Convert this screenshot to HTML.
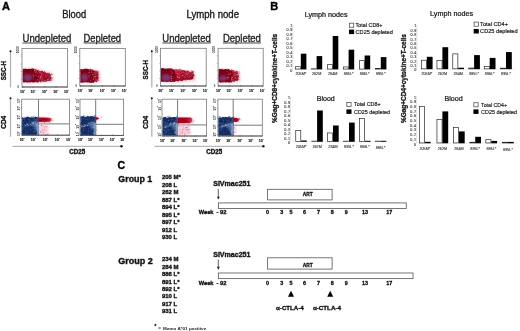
<!DOCTYPE html>
<html><head><meta charset="utf-8"><style>
html,body{margin:0;padding:0;background:#fff;width:520px;height:331px;overflow:hidden}
svg{display:block;font-family:"Liberation Sans", sans-serif;filter:blur(0.3px)}
</style></head><body>
<svg width="520" height="331" viewBox="0 0 520 331" font-family='"Liberation Sans", sans-serif'>
<defs>
<filter id="b5" x="-20%" y="-20%" width="140%" height="140%"><feGaussianBlur stdDeviation="0.5"/></filter>
<filter id="b6" x="-20%" y="-20%" width="140%" height="140%"><feGaussianBlur stdDeviation="0.6"/></filter>
<filter id="b8" x="-20%" y="-20%" width="140%" height="140%"><feGaussianBlur stdDeviation="0.8"/></filter>
<filter id="b10" x="-30%" y="-30%" width="160%" height="160%"><feGaussianBlur stdDeviation="1.0"/></filter>
<linearGradient id="redgrad" x1="0" x2="1" y1="0" y2="0"><stop offset="0" stop-color="#9a001a"/><stop offset="0.6" stop-color="#b0001f"/><stop offset="1" stop-color="#d84060"/></linearGradient>
<linearGradient id="extgrad" x1="0" x2="0" y1="0" y2="1"><stop offset="0" stop-color="#c8324e"/><stop offset="0.45" stop-color="#a8142e"/><stop offset="1" stop-color="#8e0a22"/></linearGradient>
<filter id="b12" x="-30%" y="-30%" width="160%" height="160%"><feGaussianBlur stdDeviation="1.2"/></filter>
</defs>
<rect width="520" height="331" fill="#fff"/>
<text x="2" y="10" font-size="11" font-weight="bold" fill="#000" text-anchor="start" stroke="#000" stroke-width="0.360" >A</text>
<text x="62.2" y="18.2" font-size="10.2" font-weight="normal" fill="#1a1a1a" text-anchor="start" stroke="#1a1a1a" stroke-width="0.347" textLength="24.0" lengthAdjust="spacingAndGlyphs" >Blood</text>
<text x="186.5" y="17.6" font-size="10.2" font-weight="normal" fill="#1a1a1a" text-anchor="start" stroke="#1a1a1a" stroke-width="0.347" textLength="52.5" lengthAdjust="spacingAndGlyphs" >Lymph node</text>
<text x="22.5" y="41.5" font-size="10.2" font-weight="normal" fill="#262626" text-anchor="start" stroke="#262626" stroke-width="0.347" textLength="48.9" lengthAdjust="spacingAndGlyphs" >Undepleted</text>
<line x1="22.5" y1="43.0" x2="71.4" y2="43.0" stroke="#444" stroke-width="1.1"/>
<text x="83.5" y="41.5" font-size="10.2" font-weight="normal" fill="#262626" text-anchor="start" stroke="#262626" stroke-width="0.347" textLength="37.6" lengthAdjust="spacingAndGlyphs" >Depleted</text>
<line x1="83.5" y1="43.0" x2="121.1" y2="43.0" stroke="#444" stroke-width="1.1"/>
<text x="162.3" y="41.5" font-size="10.2" font-weight="normal" fill="#262626" text-anchor="start" stroke="#262626" stroke-width="0.347" textLength="48.5" lengthAdjust="spacingAndGlyphs" >Undepleted</text>
<line x1="162.3" y1="43.0" x2="210.8" y2="43.0" stroke="#444" stroke-width="1.1"/>
<text x="222.9" y="41.5" font-size="10.2" font-weight="normal" fill="#262626" text-anchor="start" stroke="#262626" stroke-width="0.347" textLength="38" lengthAdjust="spacingAndGlyphs" >Depleted</text>
<line x1="222.9" y1="43.0" x2="260.9" y2="43.0" stroke="#444" stroke-width="1.1"/>
<path d="M22.8,68.0 L35,68.0 L53.0,72.2 L53.5,81.9 L38,83.4 L22.8,83.4 Z" fill="#f2b8c4" opacity="0.55" filter="url(#b8)"/>
<path d="M34,69.39999999999999 L34.0,69.3 L35.4,69.2 L36.8,70.4 L38.1,69.8 L39.5,71.0 L40.9,71.1 L42.2,70.9 L43.6,72.2 L45.0,71.8 L46.4,72.9 L47.8,72.8 L49.1,73.3 L50.5,74.4 L51.3,77.4 L50.5,81.6 L49.1,80.8 L47.8,81.0 L46.4,81.6 L45.0,82.1 L43.6,81.7 L42.2,81.6 L40.9,82.4 L39.5,81.3 L38.1,82.4 L36.8,81.8 L35.4,81.7 L34.0,81.7 Z" fill="url(#extgrad)" filter="url(#b5)"/>
<path d="M22.8,68.8 L22.8,68.7 L24.1,69.1 L25.3,68.6 L26.6,68.9 L27.9,69.0 L29.1,68.7 L30.4,68.9 L31.7,68.5 L32.9,68.5 L34.2,68.7 L35.5,69.7 L36.7,70.1 L38.0,70.9 L39.0,76.3 L38.0,82.4 L36.7,82.3 L35.5,82.1 L34.2,82.5 L32.9,82.5 L31.7,82.1 L30.4,82.4 L29.1,82.3 L27.9,82.6 L26.6,82.5 L25.3,82.1 L24.1,82.7 L22.8,82.0 Z" fill="#7e0018" filter="url(#b5)"/>
<circle cx="29.2" cy="78.8" r="0.46" fill="#9a0a24" opacity="0.7"/>
<circle cx="29.2" cy="81.4" r="0.43" fill="#6a0a30" opacity="0.7"/>
<circle cx="31.5" cy="80.3" r="0.53" fill="#6a0a30" opacity="0.7"/>
<circle cx="28.1" cy="75.6" r="0.72" fill="#5a0014" opacity="0.7"/>
<circle cx="35.6" cy="81.2" r="0.59" fill="#6a0a30" opacity="0.7"/>
<circle cx="23.8" cy="78.5" r="0.52" fill="#6a0a30" opacity="0.7"/>
<circle cx="37.9" cy="79.7" r="0.51" fill="#9a0a24" opacity="0.7"/>
<circle cx="36.3" cy="73.7" r="0.78" fill="#9a0a24" opacity="0.7"/>
<circle cx="25.4" cy="70.8" r="0.42" fill="#9a0a24" opacity="0.7"/>
<circle cx="24.8" cy="72.4" r="0.56" fill="#9a0a24" opacity="0.7"/>
<circle cx="24.0" cy="75.0" r="0.62" fill="#5a0014" opacity="0.7"/>
<circle cx="35.3" cy="80.2" r="0.51" fill="#9a0a24" opacity="0.7"/>
<circle cx="37.8" cy="77.9" r="0.55" fill="#5a0014" opacity="0.7"/>
<circle cx="25.1" cy="71.5" r="0.49" fill="#5a0014" opacity="0.7"/>
<circle cx="23.0" cy="79.8" r="0.47" fill="#9a0a24" opacity="0.7"/>
<circle cx="22.9" cy="74.6" r="0.55" fill="#6a0a30" opacity="0.7"/>
<circle cx="27.6" cy="70.9" r="0.74" fill="#6a0a30" opacity="0.7"/>
<circle cx="32.8" cy="78.6" r="0.58" fill="#6a0a30" opacity="0.7"/>
<circle cx="34.9" cy="74.2" r="0.56" fill="#5a0014" opacity="0.7"/>
<circle cx="30.1" cy="74.3" r="0.48" fill="#5a0014" opacity="0.7"/>
<circle cx="29.5" cy="70.7" r="0.64" fill="#5a0014" opacity="0.7"/>
<circle cx="22.8" cy="71.2" r="0.44" fill="#9a0a24" opacity="0.7"/>
<circle cx="32.1" cy="70.2" r="0.48" fill="#9a0a24" opacity="0.7"/>
<circle cx="25.1" cy="72.5" r="0.54" fill="#9a0a24" opacity="0.7"/>
<circle cx="30.0" cy="70.8" r="0.60" fill="#9a0a24" opacity="0.7"/>
<circle cx="30.1" cy="73.2" r="0.46" fill="#6a0a30" opacity="0.7"/>
<circle cx="28.0" cy="72.6" r="0.73" fill="#5a0014" opacity="0.7"/>
<circle cx="30.6" cy="71.9" r="0.78" fill="#9a0a24" opacity="0.7"/>
<circle cx="25.0" cy="76.1" r="0.41" fill="#6a0a30" opacity="0.7"/>
<circle cx="27.3" cy="77.4" r="0.44" fill="#9a0a24" opacity="0.7"/>
<circle cx="30.7" cy="80.7" r="0.54" fill="#5a0014" opacity="0.7"/>
<circle cx="30.9" cy="79.1" r="0.53" fill="#5a0014" opacity="0.7"/>
<circle cx="32.1" cy="79.2" r="0.70" fill="#5a0014" opacity="0.7"/>
<circle cx="35.1" cy="79.6" r="0.70" fill="#5a0014" opacity="0.7"/>
<circle cx="25.8" cy="75.5" r="0.69" fill="#5a0014" opacity="0.7"/>
<circle cx="34.8" cy="75.3" r="0.48" fill="#6a0a30" opacity="0.7"/>
<circle cx="37.3" cy="74.9" r="0.77" fill="#9a0a24" opacity="0.7"/>
<circle cx="37.3" cy="73.9" r="0.49" fill="#5a0014" opacity="0.7"/>
<circle cx="29.9" cy="73.6" r="0.59" fill="#6a0a30" opacity="0.7"/>
<circle cx="35.6" cy="75.3" r="0.66" fill="#6a0a30" opacity="0.7"/>
<circle cx="24.1" cy="77.6" r="0.76" fill="#6a0a30" opacity="0.7"/>
<circle cx="34.2" cy="75.3" r="0.47" fill="#6a0a30" opacity="0.7"/>
<circle cx="27.9" cy="79.4" r="0.79" fill="#9a0a24" opacity="0.7"/>
<circle cx="29.8" cy="78.7" r="0.43" fill="#5a0014" opacity="0.7"/>
<circle cx="25.4" cy="70.9" r="0.46" fill="#9a0a24" opacity="0.7"/>
<circle cx="48.3" cy="74.2" r="0.53" fill="#f4b8c4" opacity="0.58"/>
<circle cx="43.4" cy="72.7" r="0.58" fill="#5e0012" opacity="0.76"/>
<circle cx="35.0" cy="79.0" r="0.45" fill="#7a0016" opacity="0.84"/>
<circle cx="48.7" cy="74.8" r="0.37" fill="#6e0a20" opacity="0.65"/>
<circle cx="47.5" cy="75.5" r="0.45" fill="#e87890" opacity="0.47"/>
<circle cx="50.3" cy="76.3" r="0.53" fill="#f4b8c4" opacity="0.81"/>
<circle cx="42.8" cy="79.9" r="0.35" fill="#e87890" opacity="0.48"/>
<circle cx="42.7" cy="80.4" r="0.51" fill="#7a0016" opacity="0.79"/>
<circle cx="35.8" cy="71.0" r="0.49" fill="#c41a3a" opacity="0.56"/>
<circle cx="42.8" cy="77.0" r="0.61" fill="#c41a3a" opacity="0.43"/>
<circle cx="36.6" cy="69.9" r="0.48" fill="#c41a3a" opacity="0.68"/>
<circle cx="47.4" cy="80.7" r="0.41" fill="#f4b8c4" opacity="0.89"/>
<circle cx="44.5" cy="73.6" r="0.46" fill="#6e0a20" opacity="0.67"/>
<circle cx="42.1" cy="81.2" r="0.61" fill="#e87890" opacity="0.87"/>
<circle cx="37.9" cy="76.6" r="0.59" fill="#d84a66" opacity="0.47"/>
<circle cx="35.3" cy="74.9" r="0.53" fill="#c41a3a" opacity="0.61"/>
<circle cx="37.0" cy="73.3" r="0.61" fill="#c41a3a" opacity="0.48"/>
<circle cx="46.6" cy="78.4" r="0.39" fill="#7a0016" opacity="0.47"/>
<circle cx="41.9" cy="79.0" r="0.44" fill="#c41a3a" opacity="0.64"/>
<circle cx="51.8" cy="79.9" r="0.55" fill="#7a0016" opacity="0.90"/>
<circle cx="40.7" cy="75.3" r="0.41" fill="#b01030" opacity="0.76"/>
<circle cx="33.4" cy="76.3" r="0.55" fill="#f4b8c4" opacity="0.59"/>
<circle cx="42.8" cy="74.3" r="0.34" fill="#c41a3a" opacity="0.86"/>
<circle cx="37.3" cy="80.6" r="0.39" fill="#c41a3a" opacity="0.42"/>
<circle cx="47.8" cy="75.1" r="0.59" fill="#7a0016" opacity="0.82"/>
<circle cx="45.8" cy="81.0" r="0.35" fill="#f0a0b0" opacity="0.86"/>
<circle cx="43.8" cy="78.6" r="0.40" fill="#c41a3a" opacity="0.80"/>
<circle cx="36.5" cy="80.9" r="0.63" fill="#6e0a20" opacity="0.72"/>
<circle cx="48.2" cy="73.6" r="0.32" fill="#d84a66" opacity="0.83"/>
<circle cx="41.6" cy="74.5" r="0.45" fill="#e87890" opacity="0.86"/>
<circle cx="44.8" cy="72.2" r="0.63" fill="#d84a66" opacity="0.88"/>
<circle cx="38.0" cy="71.9" r="0.52" fill="#6e0a20" opacity="0.67"/>
<circle cx="36.9" cy="75.1" r="0.39" fill="#7a0016" opacity="0.80"/>
<circle cx="51.9" cy="74.5" r="0.56" fill="#5e0012" opacity="0.68"/>
<circle cx="36.6" cy="75.4" r="0.34" fill="#f4b8c4" opacity="0.81"/>
<circle cx="41.2" cy="76.2" r="0.64" fill="#f0a0b0" opacity="0.55"/>
<circle cx="37.1" cy="72.4" r="0.59" fill="#d84a66" opacity="0.75"/>
<circle cx="45.1" cy="75.8" r="0.64" fill="#b01030" opacity="0.82"/>
<circle cx="33.3" cy="77.3" r="0.45" fill="#6e0a20" opacity="0.43"/>
<circle cx="45.6" cy="75.7" r="0.53" fill="#e87890" opacity="0.54"/>
<circle cx="37.6" cy="73.3" r="0.36" fill="#f4b8c4" opacity="0.53"/>
<circle cx="33.1" cy="73.8" r="0.64" fill="#b01030" opacity="0.67"/>
<circle cx="37.6" cy="81.7" r="0.38" fill="#6e0a20" opacity="0.49"/>
<circle cx="39.4" cy="71.1" r="0.48" fill="#6e0a20" opacity="0.50"/>
<circle cx="42.6" cy="71.1" r="0.59" fill="#6e0a20" opacity="0.47"/>
<circle cx="44.1" cy="75.5" r="0.41" fill="#6e0a20" opacity="0.52"/>
<circle cx="44.1" cy="76.9" r="0.53" fill="#7a0016" opacity="0.76"/>
<circle cx="49.7" cy="76.5" r="0.55" fill="#b01030" opacity="0.65"/>
<circle cx="38.4" cy="77.4" r="0.32" fill="#7a0016" opacity="0.82"/>
<circle cx="49.9" cy="78.4" r="0.35" fill="#e87890" opacity="0.66"/>
<circle cx="42.6" cy="80.0" r="0.59" fill="#5e0012" opacity="0.69"/>
<circle cx="50.0" cy="78.8" r="0.33" fill="#d84a66" opacity="0.42"/>
<circle cx="45.1" cy="81.2" r="0.59" fill="#f0a0b0" opacity="0.68"/>
<circle cx="44.9" cy="77.9" r="0.47" fill="#d84a66" opacity="0.40"/>
<circle cx="48.2" cy="79.2" r="0.61" fill="#e87890" opacity="0.45"/>
<circle cx="43.0" cy="79.1" r="0.39" fill="#f4b8c4" opacity="0.44"/>
<circle cx="38.0" cy="78.7" r="0.38" fill="#d84a66" opacity="0.72"/>
<circle cx="41.7" cy="80.1" r="0.47" fill="#c41a3a" opacity="0.74"/>
<circle cx="47.6" cy="78.1" r="0.33" fill="#d84a66" opacity="0.47"/>
<circle cx="37.8" cy="78.9" r="0.52" fill="#6e0a20" opacity="0.47"/>
<circle cx="42.2" cy="76.2" r="0.54" fill="#c41a3a" opacity="0.74"/>
<circle cx="38.5" cy="76.2" r="0.46" fill="#f4b8c4" opacity="0.78"/>
<circle cx="51.9" cy="78.0" r="0.64" fill="#6e0a20" opacity="0.87"/>
<circle cx="33.3" cy="75.0" r="0.64" fill="#e87890" opacity="0.62"/>
<circle cx="38.1" cy="72.3" r="0.33" fill="#d84a66" opacity="0.45"/>
<circle cx="47.2" cy="74.9" r="0.35" fill="#b01030" opacity="0.81"/>
<circle cx="42.7" cy="80.6" r="0.38" fill="#b01030" opacity="0.85"/>
<circle cx="42.2" cy="71.2" r="0.63" fill="#5e0012" opacity="0.74"/>
<circle cx="40.7" cy="78.8" r="0.42" fill="#f0a0b0" opacity="0.56"/>
<circle cx="49.0" cy="73.2" r="0.59" fill="#b01030" opacity="0.46"/>
<circle cx="50.6" cy="79.1" r="0.39" fill="#6e0a20" opacity="0.43"/>
<circle cx="40.4" cy="80.4" r="0.43" fill="#c41a3a" opacity="0.61"/>
<circle cx="38.2" cy="70.4" r="0.32" fill="#c41a3a" opacity="0.73"/>
<circle cx="45.1" cy="73.3" r="0.45" fill="#6e0a20" opacity="0.56"/>
<circle cx="47.7" cy="79.5" r="0.61" fill="#f0a0b0" opacity="0.81"/>
<circle cx="45.0" cy="80.8" r="0.49" fill="#e87890" opacity="0.76"/>
<circle cx="33.9" cy="78.8" r="0.52" fill="#f4b8c4" opacity="0.47"/>
<circle cx="49.5" cy="77.2" r="0.34" fill="#e87890" opacity="0.64"/>
<circle cx="39.5" cy="73.7" r="0.44" fill="#6e0a20" opacity="0.52"/>
<circle cx="42.2" cy="78.2" r="0.36" fill="#c41a3a" opacity="0.48"/>
<circle cx="36.9" cy="81.0" r="0.49" fill="#f4b8c4" opacity="0.63"/>
<circle cx="39.3" cy="79.1" r="0.35" fill="#f0a0b0" opacity="0.50"/>
<circle cx="34.7" cy="73.5" r="0.41" fill="#c41a3a" opacity="0.58"/>
<circle cx="48.4" cy="74.6" r="0.56" fill="#5e0012" opacity="0.61"/>
<circle cx="40.9" cy="76.5" r="0.39" fill="#f0a0b0" opacity="0.78"/>
<circle cx="42.5" cy="77.2" r="0.34" fill="#b01030" opacity="0.65"/>
<circle cx="45.0" cy="80.3" r="0.33" fill="#d84a66" opacity="0.85"/>
<circle cx="40.3" cy="77.8" r="0.63" fill="#f0a0b0" opacity="0.82"/>
<circle cx="49.6" cy="73.5" r="0.45" fill="#5e0012" opacity="0.78"/>
<circle cx="48.3" cy="81.1" r="0.30" fill="#f4b8c4" opacity="0.60"/>
<circle cx="50.6" cy="79.9" r="0.64" fill="#f4b8c4" opacity="0.52"/>
<circle cx="35.1" cy="71.0" r="0.64" fill="#e87890" opacity="0.45"/>
<circle cx="48.7" cy="78.9" r="0.33" fill="#f4b8c4" opacity="0.79"/>
<circle cx="33.0" cy="70.5" r="0.53" fill="#5e0012" opacity="0.55"/>
<circle cx="35.4" cy="72.4" r="0.54" fill="#f0a0b0" opacity="0.46"/>
<circle cx="34.3" cy="75.9" r="0.44" fill="#d84a66" opacity="0.51"/>
<circle cx="44.4" cy="71.7" r="0.65" fill="#6e0a20" opacity="0.54"/>
<circle cx="39.0" cy="80.1" r="0.47" fill="#d84a66" opacity="0.52"/>
<circle cx="37.7" cy="81.6" r="0.32" fill="#6e0a20" opacity="0.50"/>
<circle cx="49.8" cy="78.5" r="0.39" fill="#c41a3a" opacity="0.73"/>
<circle cx="50.6" cy="75.4" r="0.54" fill="#5e0012" opacity="0.76"/>
<circle cx="39.9" cy="74.9" r="0.58" fill="#5e0012" opacity="0.77"/>
<circle cx="42.6" cy="73.2" r="0.41" fill="#d84a66" opacity="0.81"/>
<circle cx="37.4" cy="72.3" r="0.34" fill="#6e0a20" opacity="0.71"/>
<circle cx="44.6" cy="80.6" r="0.45" fill="#f4b8c4" opacity="0.73"/>
<circle cx="51.0" cy="74.9" r="0.32" fill="#f0a0b0" opacity="0.41"/>
<circle cx="44.3" cy="75.8" r="0.36" fill="#5e0012" opacity="0.62"/>
<circle cx="46.5" cy="75.2" r="0.65" fill="#c41a3a" opacity="0.87"/>
<circle cx="39.3" cy="72.3" r="0.56" fill="#e87890" opacity="0.42"/>
<circle cx="45.6" cy="75.6" r="0.64" fill="#b01030" opacity="0.62"/>
<circle cx="35.1" cy="70.0" r="0.42" fill="#c41a3a" opacity="0.88"/>
<circle cx="35.4" cy="81.8" r="0.43" fill="#d84a66" opacity="0.78"/>
<circle cx="38.9" cy="79.7" r="0.32" fill="#c41a3a" opacity="0.64"/>
<circle cx="40.1" cy="81.0" r="0.41" fill="#d84a66" opacity="0.77"/>
<circle cx="42.0" cy="77.8" r="0.58" fill="#d84a66" opacity="0.78"/>
<circle cx="33.8" cy="69.3" r="0.58" fill="#c41a3a" opacity="0.43"/>
<circle cx="36.7" cy="70.2" r="0.43" fill="#b01030" opacity="0.57"/>
<circle cx="51.1" cy="74.2" r="0.62" fill="#b01030" opacity="0.55"/>
<circle cx="46.7" cy="77.8" r="0.31" fill="#c41a3a" opacity="0.52"/>
<circle cx="42.0" cy="81.3" r="0.58" fill="#f0a0b0" opacity="0.86"/>
<circle cx="48.5" cy="74.1" r="0.36" fill="#f4b8c4" opacity="0.80"/>
<circle cx="47.0" cy="79.9" r="0.51" fill="#7a0016" opacity="0.56"/>
<circle cx="39.1" cy="74.3" r="0.48" fill="#c41a3a" opacity="0.60"/>
<circle cx="36.0" cy="74.5" r="0.47" fill="#5e0012" opacity="0.67"/>
<circle cx="36.1" cy="74.8" r="0.65" fill="#c41a3a" opacity="0.53"/>
<circle cx="34.6" cy="70.2" r="0.65" fill="#f4b8c4" opacity="0.89"/>
<circle cx="36.3" cy="71.0" r="0.52" fill="#f4b8c4" opacity="0.74"/>
<circle cx="47.2" cy="80.1" r="0.57" fill="#c41a3a" opacity="0.55"/>
<circle cx="38.3" cy="73.1" r="0.56" fill="#6e0a20" opacity="0.50"/>
<circle cx="37.7" cy="72.7" r="0.40" fill="#7a0016" opacity="0.85"/>
<circle cx="36.6" cy="70.2" r="0.65" fill="#6e0a20" opacity="0.65"/>
<circle cx="37.4" cy="79.7" r="0.65" fill="#f4b8c4" opacity="0.45"/>
<circle cx="42.0" cy="79.8" r="0.62" fill="#f4b8c4" opacity="0.42"/>
<circle cx="38.6" cy="71.3" r="0.51" fill="#d84a66" opacity="0.81"/>
<circle cx="36.7" cy="70.3" r="0.60" fill="#e87890" opacity="0.62"/>
<circle cx="37.9" cy="79.3" r="0.34" fill="#5e0012" opacity="0.70"/>
<circle cx="44.8" cy="73.9" r="0.42" fill="#b01030" opacity="0.42"/>
<circle cx="52.0" cy="74.5" r="0.59" fill="#d84a66" opacity="0.81"/>
<ellipse cx="27.8" cy="77.5" rx="4.5" ry="3.8" fill="#84448a" opacity="0.75" filter="url(#b10)"/>
<rect x="22" y="48.5" width="45.5" height="38.5" fill="none" stroke="#7a7a7a" stroke-width="0.8" />
<line x1="22" y1="87.0" x2="67.5" y2="87.0" stroke="#4a4a4a" stroke-width="0.8"/>
<text x="21.900000000000002" y="92.7" font-size="3.5" font-weight="bold" fill="#222" text-anchor="middle" stroke="#222" stroke-width="0.15">10</text>
<text x="23.7" y="90.7" font-size="2.5" font-weight="bold" fill="#222" text-anchor="start" >0</text>
<line x1="22.8" y1="86.0" x2="22.8" y2="87.8" stroke="#555" stroke-width="0.5"/>
<text x="32.475" y="92.7" font-size="3.5" font-weight="bold" fill="#222" text-anchor="middle" stroke="#222" stroke-width="0.15">10</text>
<text x="34.275" y="90.7" font-size="2.5" font-weight="bold" fill="#222" text-anchor="start" >1</text>
<line x1="33.375" y1="86.0" x2="33.375" y2="87.8" stroke="#555" stroke-width="0.5"/>
<text x="43.85" y="92.7" font-size="3.5" font-weight="bold" fill="#222" text-anchor="middle" stroke="#222" stroke-width="0.15">10</text>
<text x="45.65" y="90.7" font-size="2.5" font-weight="bold" fill="#222" text-anchor="start" >2</text>
<line x1="44.75" y1="86.0" x2="44.75" y2="87.8" stroke="#555" stroke-width="0.5"/>
<text x="55.225" y="92.7" font-size="3.5" font-weight="bold" fill="#222" text-anchor="middle" stroke="#222" stroke-width="0.15">10</text>
<text x="57.025" y="90.7" font-size="2.5" font-weight="bold" fill="#222" text-anchor="start" >3</text>
<line x1="56.125" y1="86.0" x2="56.125" y2="87.8" stroke="#555" stroke-width="0.5"/>
<text x="66.0" y="92.7" font-size="3.5" font-weight="bold" fill="#222" text-anchor="middle" stroke="#222" stroke-width="0.15">10</text>
<text x="67.80000000000001" y="90.7" font-size="2.5" font-weight="bold" fill="#222" text-anchor="start" >4</text>
<line x1="66.9" y1="86.0" x2="66.9" y2="87.8" stroke="#555" stroke-width="0.5"/>
<text transform="translate(18.3,49.7) rotate(-90)" x="0" y="0" font-size="3.3" font-weight="bold" fill="#333" text-anchor="middle" dominant-baseline="central" textLength="7.0" lengthAdjust="spacingAndGlyphs">1000</text>
<text x="18.4" y="87.9" font-size="2.8" font-weight="bold" fill="#333" text-anchor="middle" >0</text>
<line x1="20.8" y1="56.2" x2="22" y2="56.2" stroke="#777" stroke-width="0.5"/>
<line x1="20.8" y1="63.9" x2="22" y2="63.9" stroke="#777" stroke-width="0.5"/>
<line x1="20.8" y1="71.6" x2="22" y2="71.6" stroke="#777" stroke-width="0.5"/>
<line x1="20.8" y1="79.3" x2="22" y2="79.3" stroke="#777" stroke-width="0.5"/>
<path d="M80.3,68.3 L91.0,68.3 L100.5,72.475 L101.0,82.1 L94.0,83.6 L80.3,83.6 Z" fill="#f2b8c4" opacity="0.55" filter="url(#b8)"/>
<path d="M90.0,69.69999999999999 L90.0,69.7 L90.7,69.7 L91.3,70.3 L92.0,69.4 L92.7,69.4 L93.3,70.4 L94.0,70.5 L94.7,70.4 L95.3,71.3 L96.0,71.2 L96.7,70.4 L97.3,71.2 L98.0,71.5 L98.8,75.9 L98.0,81.3 L97.3,81.2 L96.7,82.2 L96.0,81.9 L95.3,81.6 L94.7,81.3 L94.0,82.2 L93.3,82.4 L92.7,82.0 L92.0,81.6 L91.3,82.6 L90.7,82.7 L90.0,82.6 Z" fill="url(#extgrad)" filter="url(#b5)"/>
<path d="M80.3,69.1 L80.3,69.1 L81.4,69.1 L82.6,69.5 L83.7,69.1 L84.9,68.8 L86.0,68.8 L87.2,68.8 L88.3,69.2 L89.4,69.0 L90.6,69.5 L91.7,69.5 L92.9,70.1 L94.0,71.0 L95.0,76.5 L94.0,82.7 L92.9,82.4 L91.7,82.6 L90.6,82.8 L89.4,82.7 L88.3,82.2 L87.2,82.4 L86.0,82.2 L84.9,82.2 L83.7,82.2 L82.6,82.4 L81.4,82.7 L80.3,82.7 Z" fill="#7e0018" filter="url(#b5)"/>
<circle cx="91.3" cy="73.4" r="0.73" fill="#5a0014" opacity="0.7"/>
<circle cx="93.7" cy="75.6" r="0.42" fill="#6a0a30" opacity="0.7"/>
<circle cx="85.6" cy="80.9" r="0.65" fill="#5a0014" opacity="0.7"/>
<circle cx="89.1" cy="80.3" r="0.65" fill="#6a0a30" opacity="0.7"/>
<circle cx="91.9" cy="80.0" r="0.47" fill="#5a0014" opacity="0.7"/>
<circle cx="80.9" cy="81.3" r="0.46" fill="#9a0a24" opacity="0.7"/>
<circle cx="82.0" cy="72.7" r="0.69" fill="#5a0014" opacity="0.7"/>
<circle cx="80.9" cy="76.6" r="0.70" fill="#5a0014" opacity="0.7"/>
<circle cx="89.5" cy="73.7" r="0.56" fill="#9a0a24" opacity="0.7"/>
<circle cx="87.8" cy="77.4" r="0.52" fill="#9a0a24" opacity="0.7"/>
<circle cx="84.5" cy="72.7" r="0.56" fill="#9a0a24" opacity="0.7"/>
<circle cx="86.4" cy="75.1" r="0.41" fill="#6a0a30" opacity="0.7"/>
<circle cx="93.8" cy="75.4" r="0.58" fill="#6a0a30" opacity="0.7"/>
<circle cx="91.0" cy="75.3" r="0.47" fill="#9a0a24" opacity="0.7"/>
<circle cx="85.8" cy="70.4" r="0.54" fill="#9a0a24" opacity="0.7"/>
<circle cx="81.6" cy="75.1" r="0.60" fill="#5a0014" opacity="0.7"/>
<circle cx="80.9" cy="71.2" r="0.77" fill="#9a0a24" opacity="0.7"/>
<circle cx="91.0" cy="76.0" r="0.42" fill="#6a0a30" opacity="0.7"/>
<circle cx="92.6" cy="77.8" r="0.71" fill="#5a0014" opacity="0.7"/>
<circle cx="92.0" cy="82.1" r="0.69" fill="#5a0014" opacity="0.7"/>
<circle cx="83.0" cy="81.9" r="0.60" fill="#5a0014" opacity="0.7"/>
<circle cx="89.7" cy="78.6" r="0.49" fill="#9a0a24" opacity="0.7"/>
<circle cx="88.7" cy="72.8" r="0.53" fill="#6a0a30" opacity="0.7"/>
<circle cx="84.1" cy="79.8" r="0.46" fill="#6a0a30" opacity="0.7"/>
<circle cx="93.5" cy="75.6" r="0.64" fill="#6a0a30" opacity="0.7"/>
<circle cx="87.2" cy="73.6" r="0.41" fill="#5a0014" opacity="0.7"/>
<circle cx="85.8" cy="77.6" r="0.51" fill="#9a0a24" opacity="0.7"/>
<circle cx="92.6" cy="71.7" r="0.71" fill="#5a0014" opacity="0.7"/>
<circle cx="90.8" cy="70.2" r="0.74" fill="#9a0a24" opacity="0.7"/>
<circle cx="87.9" cy="76.9" r="0.75" fill="#5a0014" opacity="0.7"/>
<circle cx="83.8" cy="76.3" r="0.74" fill="#6a0a30" opacity="0.7"/>
<circle cx="91.2" cy="72.9" r="0.80" fill="#6a0a30" opacity="0.7"/>
<circle cx="82.3" cy="73.7" r="0.43" fill="#5a0014" opacity="0.7"/>
<circle cx="82.7" cy="78.9" r="0.42" fill="#6a0a30" opacity="0.7"/>
<circle cx="83.8" cy="77.6" r="0.79" fill="#6a0a30" opacity="0.7"/>
<circle cx="93.0" cy="80.8" r="0.69" fill="#6a0a30" opacity="0.7"/>
<circle cx="80.8" cy="71.5" r="0.65" fill="#9a0a24" opacity="0.7"/>
<circle cx="86.0" cy="74.2" r="0.42" fill="#9a0a24" opacity="0.7"/>
<circle cx="83.4" cy="77.8" r="0.41" fill="#5a0014" opacity="0.7"/>
<circle cx="88.1" cy="73.4" r="0.61" fill="#6a0a30" opacity="0.7"/>
<circle cx="83.4" cy="76.9" r="0.64" fill="#5a0014" opacity="0.7"/>
<circle cx="92.8" cy="80.0" r="0.35" fill="#7a0016" opacity="0.87"/>
<circle cx="91.6" cy="71.2" r="0.32" fill="#c41a3a" opacity="0.47"/>
<circle cx="96.0" cy="73.2" r="0.64" fill="#6e0a20" opacity="0.43"/>
<circle cx="97.6" cy="80.3" r="0.51" fill="#f4b8c4" opacity="0.66"/>
<circle cx="94.2" cy="71.7" r="0.32" fill="#5e0012" opacity="0.67"/>
<circle cx="93.3" cy="72.5" r="0.62" fill="#5e0012" opacity="0.45"/>
<circle cx="95.4" cy="77.7" r="0.35" fill="#d84a66" opacity="0.50"/>
<circle cx="95.4" cy="75.9" r="0.58" fill="#f0a0b0" opacity="0.49"/>
<circle cx="92.2" cy="73.3" r="0.65" fill="#5e0012" opacity="0.76"/>
<circle cx="94.0" cy="76.3" r="0.60" fill="#f0a0b0" opacity="0.77"/>
<circle cx="93.9" cy="78.8" r="0.36" fill="#f4b8c4" opacity="0.90"/>
<circle cx="91.7" cy="77.7" r="0.42" fill="#c41a3a" opacity="0.77"/>
<circle cx="96.3" cy="79.9" r="0.39" fill="#5e0012" opacity="0.68"/>
<circle cx="93.6" cy="79.4" r="0.64" fill="#e87890" opacity="0.55"/>
<circle cx="98.7" cy="80.2" r="0.61" fill="#c41a3a" opacity="0.41"/>
<circle cx="91.7" cy="72.4" r="0.63" fill="#d84a66" opacity="0.77"/>
<circle cx="92.4" cy="80.7" r="0.51" fill="#b01030" opacity="0.59"/>
<circle cx="97.9" cy="80.5" r="0.46" fill="#e87890" opacity="0.82"/>
<circle cx="96.3" cy="80.0" r="0.63" fill="#f0a0b0" opacity="0.52"/>
<circle cx="98.3" cy="79.1" r="0.52" fill="#f0a0b0" opacity="0.44"/>
<circle cx="98.6" cy="72.1" r="0.34" fill="#5e0012" opacity="0.71"/>
<circle cx="90.7" cy="82.2" r="0.31" fill="#5e0012" opacity="0.47"/>
<circle cx="95.8" cy="70.5" r="0.56" fill="#c41a3a" opacity="0.43"/>
<circle cx="95.2" cy="74.2" r="0.61" fill="#e87890" opacity="0.43"/>
<circle cx="98.1" cy="80.4" r="0.34" fill="#f0a0b0" opacity="0.50"/>
<circle cx="90.2" cy="69.6" r="0.59" fill="#c41a3a" opacity="0.72"/>
<circle cx="92.0" cy="70.7" r="0.58" fill="#c41a3a" opacity="0.72"/>
<circle cx="92.1" cy="73.7" r="0.31" fill="#6e0a20" opacity="0.53"/>
<circle cx="92.0" cy="78.6" r="0.62" fill="#b01030" opacity="0.78"/>
<circle cx="95.3" cy="75.6" r="0.52" fill="#6e0a20" opacity="0.42"/>
<circle cx="93.3" cy="75.0" r="0.42" fill="#c41a3a" opacity="0.75"/>
<circle cx="94.6" cy="72.4" r="0.50" fill="#c41a3a" opacity="0.54"/>
<circle cx="93.6" cy="76.1" r="0.57" fill="#6e0a20" opacity="0.89"/>
<circle cx="89.0" cy="75.7" r="0.54" fill="#f4b8c4" opacity="0.81"/>
<circle cx="99.2" cy="76.9" r="0.39" fill="#e87890" opacity="0.87"/>
<circle cx="92.0" cy="72.1" r="0.47" fill="#d84a66" opacity="0.45"/>
<circle cx="95.7" cy="70.9" r="0.58" fill="#e87890" opacity="0.71"/>
<circle cx="92.7" cy="74.6" r="0.61" fill="#f0a0b0" opacity="0.77"/>
<circle cx="93.4" cy="77.7" r="0.37" fill="#b01030" opacity="0.53"/>
<circle cx="98.5" cy="76.0" r="0.64" fill="#f0a0b0" opacity="0.72"/>
<circle cx="98.9" cy="72.0" r="0.42" fill="#5e0012" opacity="0.56"/>
<circle cx="90.6" cy="80.4" r="0.56" fill="#e87890" opacity="0.48"/>
<circle cx="93.6" cy="79.2" r="0.34" fill="#d84a66" opacity="0.63"/>
<circle cx="98.3" cy="73.1" r="0.39" fill="#d84a66" opacity="0.78"/>
<circle cx="97.7" cy="77.2" r="0.64" fill="#7a0016" opacity="0.76"/>
<circle cx="95.3" cy="74.1" r="0.41" fill="#d84a66" opacity="0.49"/>
<circle cx="99.2" cy="78.4" r="0.36" fill="#c41a3a" opacity="0.73"/>
<circle cx="91.1" cy="71.2" r="0.58" fill="#7a0016" opacity="0.77"/>
<circle cx="93.6" cy="72.1" r="0.40" fill="#c41a3a" opacity="0.84"/>
<circle cx="93.9" cy="69.8" r="0.54" fill="#f0a0b0" opacity="0.65"/>
<circle cx="95.6" cy="75.4" r="0.39" fill="#7a0016" opacity="0.77"/>
<circle cx="89.1" cy="72.4" r="0.55" fill="#f0a0b0" opacity="0.69"/>
<circle cx="95.8" cy="79.9" r="0.54" fill="#d84a66" opacity="0.72"/>
<circle cx="93.8" cy="73.5" r="0.61" fill="#c41a3a" opacity="0.52"/>
<circle cx="93.2" cy="78.5" r="0.39" fill="#7a0016" opacity="0.61"/>
<circle cx="93.8" cy="77.3" r="0.48" fill="#f0a0b0" opacity="0.73"/>
<circle cx="98.2" cy="80.2" r="0.57" fill="#b01030" opacity="0.59"/>
<circle cx="94.1" cy="81.7" r="0.39" fill="#5e0012" opacity="0.51"/>
<circle cx="96.5" cy="81.1" r="0.48" fill="#d84a66" opacity="0.45"/>
<circle cx="95.0" cy="76.4" r="0.48" fill="#f4b8c4" opacity="0.72"/>
<circle cx="97.7" cy="76.2" r="0.56" fill="#f0a0b0" opacity="0.63"/>
<circle cx="99.4" cy="72.7" r="0.57" fill="#e87890" opacity="0.46"/>
<circle cx="99.3" cy="74.4" r="0.39" fill="#5e0012" opacity="0.59"/>
<circle cx="89.6" cy="70.1" r="0.52" fill="#f0a0b0" opacity="0.74"/>
<circle cx="95.1" cy="71.2" r="0.56" fill="#6e0a20" opacity="0.87"/>
<circle cx="94.5" cy="72.4" r="0.46" fill="#f0a0b0" opacity="0.48"/>
<circle cx="98.8" cy="71.3" r="0.46" fill="#d84a66" opacity="0.68"/>
<circle cx="91.4" cy="81.9" r="0.53" fill="#b01030" opacity="0.82"/>
<circle cx="97.4" cy="74.9" r="0.57" fill="#6e0a20" opacity="0.72"/>
<circle cx="97.2" cy="75.6" r="0.39" fill="#d84a66" opacity="0.59"/>
<circle cx="91.7" cy="74.9" r="0.47" fill="#7a0016" opacity="0.80"/>
<circle cx="97.4" cy="74.3" r="0.41" fill="#6e0a20" opacity="0.64"/>
<circle cx="95.5" cy="71.0" r="0.35" fill="#b01030" opacity="0.55"/>
<circle cx="93.0" cy="70.6" r="0.57" fill="#b01030" opacity="0.47"/>
<circle cx="97.7" cy="77.4" r="0.53" fill="#5e0012" opacity="0.50"/>
<circle cx="89.8" cy="73.1" r="0.50" fill="#c41a3a" opacity="0.83"/>
<circle cx="90.9" cy="75.2" r="0.37" fill="#7a0016" opacity="0.60"/>
<circle cx="94.6" cy="77.2" r="0.53" fill="#c41a3a" opacity="0.85"/>
<circle cx="97.3" cy="79.7" r="0.47" fill="#d84a66" opacity="0.51"/>
<circle cx="89.8" cy="80.4" r="0.49" fill="#c41a3a" opacity="0.53"/>
<circle cx="91.5" cy="71.1" r="0.50" fill="#f4b8c4" opacity="0.64"/>
<circle cx="98.5" cy="78.1" r="0.47" fill="#d84a66" opacity="0.67"/>
<circle cx="98.1" cy="70.5" r="0.46" fill="#b01030" opacity="0.68"/>
<circle cx="96.0" cy="79.8" r="0.45" fill="#b01030" opacity="0.90"/>
<circle cx="96.1" cy="72.2" r="0.52" fill="#b01030" opacity="0.41"/>
<circle cx="95.4" cy="78.0" r="0.58" fill="#b01030" opacity="0.45"/>
<circle cx="94.1" cy="79.0" r="0.31" fill="#7a0016" opacity="0.76"/>
<circle cx="95.6" cy="74.0" r="0.42" fill="#b01030" opacity="0.79"/>
<ellipse cx="84.5" cy="77.5" rx="3.8" ry="3.8" fill="#84448a" opacity="0.75" filter="url(#b10)"/>
<rect x="79.8" y="48.5" width="45.5" height="37.5" fill="none" stroke="#7a7a7a" stroke-width="0.8" />
<line x1="79.8" y1="86.0" x2="125.3" y2="86.0" stroke="#4a4a4a" stroke-width="0.8"/>
<text x="79.69999999999999" y="91.7" font-size="3.5" font-weight="bold" fill="#222" text-anchor="middle" stroke="#222" stroke-width="0.15">10</text>
<text x="81.5" y="89.7" font-size="2.5" font-weight="bold" fill="#222" text-anchor="start" >0</text>
<line x1="80.6" y1="85.0" x2="80.6" y2="86.8" stroke="#555" stroke-width="0.5"/>
<text x="90.27499999999999" y="91.7" font-size="3.5" font-weight="bold" fill="#222" text-anchor="middle" stroke="#222" stroke-width="0.15">10</text>
<text x="92.075" y="89.7" font-size="2.5" font-weight="bold" fill="#222" text-anchor="start" >1</text>
<line x1="91.175" y1="85.0" x2="91.175" y2="86.8" stroke="#555" stroke-width="0.5"/>
<text x="101.64999999999999" y="91.7" font-size="3.5" font-weight="bold" fill="#222" text-anchor="middle" stroke="#222" stroke-width="0.15">10</text>
<text x="103.45" y="89.7" font-size="2.5" font-weight="bold" fill="#222" text-anchor="start" >2</text>
<line x1="102.55" y1="85.0" x2="102.55" y2="86.8" stroke="#555" stroke-width="0.5"/>
<text x="113.02499999999999" y="91.7" font-size="3.5" font-weight="bold" fill="#222" text-anchor="middle" stroke="#222" stroke-width="0.15">10</text>
<text x="114.825" y="89.7" font-size="2.5" font-weight="bold" fill="#222" text-anchor="start" >3</text>
<line x1="113.925" y1="85.0" x2="113.925" y2="86.8" stroke="#555" stroke-width="0.5"/>
<text x="123.8" y="91.7" font-size="3.5" font-weight="bold" fill="#222" text-anchor="middle" stroke="#222" stroke-width="0.15">10</text>
<text x="125.60000000000001" y="89.7" font-size="2.5" font-weight="bold" fill="#222" text-anchor="start" >4</text>
<line x1="124.7" y1="85.0" x2="124.7" y2="86.8" stroke="#555" stroke-width="0.5"/>
<text transform="translate(76.1,49.7) rotate(-90)" x="0" y="0" font-size="3.3" font-weight="bold" fill="#333" text-anchor="middle" dominant-baseline="central" textLength="7.0" lengthAdjust="spacingAndGlyphs">1000</text>
<text x="76.2" y="86.9" font-size="2.8" font-weight="bold" fill="#333" text-anchor="middle" >0</text>
<line x1="78.6" y1="56.0" x2="79.8" y2="56.0" stroke="#777" stroke-width="0.5"/>
<line x1="78.6" y1="63.5" x2="79.8" y2="63.5" stroke="#777" stroke-width="0.5"/>
<line x1="78.6" y1="71.0" x2="79.8" y2="71.0" stroke="#777" stroke-width="0.5"/>
<line x1="78.6" y1="78.5" x2="79.8" y2="78.5" stroke="#777" stroke-width="0.5"/>
<path d="M160.9,67.7 L172,67.7 L195.7,71.85 L196.2,81.4 L175,82.9 L160.9,82.9 Z" fill="#f2b8c4" opacity="0.55" filter="url(#b8)"/>
<path d="M171,69.1 L171.0,69.4 L172.8,70.2 L174.7,69.2 L176.6,69.4 L178.4,69.5 L180.2,69.3 L182.1,69.9 L183.9,70.2 L185.8,70.7 L187.6,70.6 L189.5,72.0 L191.3,72.0 L193.2,71.3 L194.0,75.1 L193.2,79.1 L191.3,79.7 L189.5,79.4 L187.6,79.7 L185.8,80.5 L183.9,80.0 L182.1,81.2 L180.2,80.3 L178.4,81.6 L176.6,81.0 L174.7,81.4 L172.8,81.4 L171.0,81.8 Z" fill="url(#extgrad)" filter="url(#b5)"/>
<path d="M160.9,68.5 L160.9,68.5 L162.1,68.2 L163.2,68.1 L164.4,68.8 L165.6,68.5 L166.8,68.8 L167.9,68.2 L169.1,68.6 L170.3,68.6 L171.5,68.6 L172.7,68.9 L173.8,70.1 L175.0,70.9 L176.0,75.9 L175.0,82.1 L173.8,81.5 L172.7,81.4 L171.5,81.9 L170.3,81.9 L169.1,81.5 L167.9,81.9 L166.8,82.1 L165.6,81.7 L164.4,81.5 L163.2,82.1 L162.1,81.4 L160.9,82.1 Z" fill="#7e0018" filter="url(#b5)"/>
<circle cx="162.9" cy="72.8" r="0.68" fill="#9a0a24" opacity="0.7"/>
<circle cx="163.5" cy="69.4" r="0.41" fill="#6a0a30" opacity="0.7"/>
<circle cx="169.9" cy="80.6" r="0.42" fill="#6a0a30" opacity="0.7"/>
<circle cx="168.3" cy="79.2" r="0.71" fill="#9a0a24" opacity="0.7"/>
<circle cx="169.0" cy="80.4" r="0.58" fill="#5a0014" opacity="0.7"/>
<circle cx="170.5" cy="76.4" r="0.80" fill="#6a0a30" opacity="0.7"/>
<circle cx="174.7" cy="74.9" r="0.56" fill="#5a0014" opacity="0.7"/>
<circle cx="162.1" cy="74.9" r="0.76" fill="#6a0a30" opacity="0.7"/>
<circle cx="161.1" cy="69.1" r="0.67" fill="#5a0014" opacity="0.7"/>
<circle cx="174.8" cy="79.6" r="0.49" fill="#5a0014" opacity="0.7"/>
<circle cx="162.7" cy="69.2" r="0.69" fill="#5a0014" opacity="0.7"/>
<circle cx="167.3" cy="78.2" r="0.77" fill="#9a0a24" opacity="0.7"/>
<circle cx="171.8" cy="77.8" r="0.74" fill="#6a0a30" opacity="0.7"/>
<circle cx="171.6" cy="72.6" r="0.62" fill="#9a0a24" opacity="0.7"/>
<circle cx="167.4" cy="80.6" r="0.50" fill="#5a0014" opacity="0.7"/>
<circle cx="171.0" cy="69.1" r="0.41" fill="#6a0a30" opacity="0.7"/>
<circle cx="170.6" cy="76.7" r="0.56" fill="#9a0a24" opacity="0.7"/>
<circle cx="171.2" cy="71.1" r="0.74" fill="#9a0a24" opacity="0.7"/>
<circle cx="169.5" cy="72.9" r="0.78" fill="#6a0a30" opacity="0.7"/>
<circle cx="167.1" cy="77.4" r="0.46" fill="#5a0014" opacity="0.7"/>
<circle cx="166.0" cy="77.0" r="0.65" fill="#9a0a24" opacity="0.7"/>
<circle cx="167.6" cy="78.6" r="0.58" fill="#9a0a24" opacity="0.7"/>
<circle cx="172.0" cy="76.0" r="0.52" fill="#5a0014" opacity="0.7"/>
<circle cx="169.7" cy="77.1" r="0.72" fill="#6a0a30" opacity="0.7"/>
<circle cx="165.6" cy="76.5" r="0.79" fill="#5a0014" opacity="0.7"/>
<circle cx="169.4" cy="72.8" r="0.57" fill="#5a0014" opacity="0.7"/>
<circle cx="166.2" cy="77.5" r="0.64" fill="#5a0014" opacity="0.7"/>
<circle cx="172.3" cy="72.5" r="0.40" fill="#9a0a24" opacity="0.7"/>
<circle cx="164.7" cy="71.0" r="0.77" fill="#5a0014" opacity="0.7"/>
<circle cx="165.0" cy="70.7" r="0.76" fill="#6a0a30" opacity="0.7"/>
<circle cx="163.0" cy="81.1" r="0.72" fill="#6a0a30" opacity="0.7"/>
<circle cx="170.6" cy="80.3" r="0.54" fill="#5a0014" opacity="0.7"/>
<circle cx="168.5" cy="75.0" r="0.55" fill="#6a0a30" opacity="0.7"/>
<circle cx="174.0" cy="71.9" r="0.64" fill="#6a0a30" opacity="0.7"/>
<circle cx="166.5" cy="77.8" r="0.77" fill="#6a0a30" opacity="0.7"/>
<circle cx="171.5" cy="78.8" r="0.58" fill="#5a0014" opacity="0.7"/>
<circle cx="168.5" cy="73.4" r="0.43" fill="#9a0a24" opacity="0.7"/>
<circle cx="169.1" cy="80.1" r="0.75" fill="#6a0a30" opacity="0.7"/>
<circle cx="165.4" cy="75.3" r="0.48" fill="#5a0014" opacity="0.7"/>
<circle cx="163.6" cy="71.2" r="0.68" fill="#9a0a24" opacity="0.7"/>
<circle cx="169.0" cy="73.5" r="0.71" fill="#5a0014" opacity="0.7"/>
<circle cx="164.4" cy="80.4" r="0.60" fill="#5a0014" opacity="0.7"/>
<circle cx="179.2" cy="74.7" r="0.35" fill="#c41a3a" opacity="0.70"/>
<circle cx="178.5" cy="75.3" r="0.33" fill="#5e0012" opacity="0.50"/>
<circle cx="191.5" cy="75.7" r="0.39" fill="#d84a66" opacity="0.79"/>
<circle cx="180.5" cy="80.3" r="0.39" fill="#7a0016" opacity="0.42"/>
<circle cx="175.0" cy="71.1" r="0.31" fill="#c41a3a" opacity="0.42"/>
<circle cx="179.1" cy="77.5" r="0.63" fill="#f4b8c4" opacity="0.85"/>
<circle cx="171.6" cy="76.5" r="0.62" fill="#f0a0b0" opacity="0.75"/>
<circle cx="172.2" cy="72.8" r="0.52" fill="#d84a66" opacity="0.88"/>
<circle cx="186.5" cy="74.0" r="0.60" fill="#f4b8c4" opacity="0.59"/>
<circle cx="175.8" cy="77.9" r="0.31" fill="#7a0016" opacity="0.53"/>
<circle cx="178.7" cy="79.9" r="0.59" fill="#5e0012" opacity="0.42"/>
<circle cx="189.4" cy="77.1" r="0.32" fill="#f4b8c4" opacity="0.47"/>
<circle cx="188.6" cy="79.4" r="0.51" fill="#6e0a20" opacity="0.62"/>
<circle cx="186.1" cy="74.8" r="0.39" fill="#b01030" opacity="0.46"/>
<circle cx="181.9" cy="71.4" r="0.58" fill="#d84a66" opacity="0.86"/>
<circle cx="192.0" cy="74.8" r="0.58" fill="#d84a66" opacity="0.48"/>
<circle cx="190.6" cy="71.2" r="0.61" fill="#b01030" opacity="0.47"/>
<circle cx="181.0" cy="70.5" r="0.59" fill="#f0a0b0" opacity="0.71"/>
<circle cx="181.2" cy="73.3" r="0.47" fill="#d84a66" opacity="0.71"/>
<circle cx="173.5" cy="71.5" r="0.36" fill="#5e0012" opacity="0.63"/>
<circle cx="192.0" cy="74.6" r="0.39" fill="#7a0016" opacity="0.61"/>
<circle cx="173.8" cy="72.2" r="0.42" fill="#6e0a20" opacity="0.48"/>
<circle cx="182.1" cy="73.1" r="0.34" fill="#f4b8c4" opacity="0.89"/>
<circle cx="171.4" cy="80.5" r="0.50" fill="#d84a66" opacity="0.82"/>
<circle cx="172.9" cy="78.5" r="0.45" fill="#b01030" opacity="0.53"/>
<circle cx="175.9" cy="71.8" r="0.40" fill="#f0a0b0" opacity="0.85"/>
<circle cx="171.4" cy="78.2" r="0.35" fill="#6e0a20" opacity="0.72"/>
<circle cx="180.9" cy="75.2" r="0.35" fill="#e87890" opacity="0.40"/>
<circle cx="190.6" cy="75.4" r="0.43" fill="#7a0016" opacity="0.42"/>
<circle cx="180.1" cy="72.5" r="0.35" fill="#7a0016" opacity="0.49"/>
<circle cx="189.0" cy="77.2" r="0.51" fill="#d84a66" opacity="0.81"/>
<circle cx="192.0" cy="77.2" r="0.36" fill="#6e0a20" opacity="0.47"/>
<circle cx="186.5" cy="76.4" r="0.50" fill="#d84a66" opacity="0.50"/>
<circle cx="171.6" cy="78.3" r="0.59" fill="#f0a0b0" opacity="0.86"/>
<circle cx="182.8" cy="73.4" r="0.59" fill="#6e0a20" opacity="0.83"/>
<circle cx="182.2" cy="69.7" r="0.35" fill="#f4b8c4" opacity="0.73"/>
<circle cx="176.1" cy="75.9" r="0.31" fill="#b01030" opacity="0.75"/>
<circle cx="184.2" cy="78.9" r="0.48" fill="#b01030" opacity="0.62"/>
<circle cx="182.7" cy="70.9" r="0.59" fill="#d84a66" opacity="0.83"/>
<circle cx="177.9" cy="77.7" r="0.50" fill="#f0a0b0" opacity="0.85"/>
<circle cx="177.2" cy="70.3" r="0.46" fill="#f4b8c4" opacity="0.41"/>
<circle cx="189.9" cy="71.6" r="0.64" fill="#d84a66" opacity="0.51"/>
<circle cx="174.5" cy="70.1" r="0.49" fill="#6e0a20" opacity="0.88"/>
<circle cx="170.5" cy="80.9" r="0.39" fill="#d84a66" opacity="0.82"/>
<circle cx="185.7" cy="74.7" r="0.55" fill="#d84a66" opacity="0.45"/>
<circle cx="191.5" cy="77.1" r="0.40" fill="#5e0012" opacity="0.63"/>
<circle cx="184.5" cy="77.9" r="0.34" fill="#c41a3a" opacity="0.60"/>
<circle cx="173.4" cy="76.3" r="0.35" fill="#d84a66" opacity="0.69"/>
<circle cx="188.4" cy="71.8" r="0.63" fill="#5e0012" opacity="0.59"/>
<circle cx="180.4" cy="79.0" r="0.31" fill="#e87890" opacity="0.89"/>
<circle cx="171.3" cy="73.4" r="0.38" fill="#f0a0b0" opacity="0.57"/>
<circle cx="180.8" cy="80.6" r="0.59" fill="#b01030" opacity="0.82"/>
<circle cx="171.3" cy="75.4" r="0.39" fill="#b01030" opacity="0.61"/>
<circle cx="185.6" cy="73.7" r="0.37" fill="#e87890" opacity="0.56"/>
<circle cx="175.0" cy="77.3" r="0.35" fill="#d84a66" opacity="0.88"/>
<circle cx="189.2" cy="79.3" r="0.58" fill="#5e0012" opacity="0.84"/>
<circle cx="191.9" cy="70.9" r="0.62" fill="#6e0a20" opacity="0.71"/>
<circle cx="185.5" cy="78.3" r="0.52" fill="#5e0012" opacity="0.53"/>
<circle cx="182.9" cy="74.4" r="0.40" fill="#5e0012" opacity="0.55"/>
<circle cx="186.0" cy="71.2" r="0.62" fill="#e87890" opacity="0.44"/>
<circle cx="184.6" cy="79.7" r="0.34" fill="#f4b8c4" opacity="0.47"/>
<circle cx="177.3" cy="74.0" r="0.40" fill="#6e0a20" opacity="0.77"/>
<circle cx="188.3" cy="73.0" r="0.51" fill="#f4b8c4" opacity="0.69"/>
<circle cx="186.1" cy="72.0" r="0.46" fill="#b01030" opacity="0.67"/>
<circle cx="185.1" cy="74.8" r="0.31" fill="#6e0a20" opacity="0.57"/>
<circle cx="174.7" cy="75.7" r="0.30" fill="#f0a0b0" opacity="0.58"/>
<circle cx="191.3" cy="72.7" r="0.41" fill="#e87890" opacity="0.53"/>
<circle cx="191.7" cy="72.6" r="0.57" fill="#5e0012" opacity="0.48"/>
<circle cx="171.6" cy="80.1" r="0.53" fill="#f4b8c4" opacity="0.66"/>
<circle cx="190.6" cy="73.8" r="0.48" fill="#c41a3a" opacity="0.89"/>
<circle cx="186.7" cy="79.5" r="0.42" fill="#f0a0b0" opacity="0.58"/>
<circle cx="186.7" cy="76.3" r="0.59" fill="#6e0a20" opacity="0.66"/>
<circle cx="188.2" cy="77.5" r="0.39" fill="#f4b8c4" opacity="0.72"/>
<circle cx="185.6" cy="77.2" r="0.60" fill="#f0a0b0" opacity="0.40"/>
<circle cx="188.9" cy="75.9" r="0.44" fill="#f4b8c4" opacity="0.90"/>
<circle cx="173.7" cy="79.7" r="0.61" fill="#6e0a20" opacity="0.70"/>
<circle cx="179.4" cy="74.5" r="0.40" fill="#f4b8c4" opacity="0.58"/>
<circle cx="178.7" cy="75.4" r="0.53" fill="#f0a0b0" opacity="0.40"/>
<circle cx="188.4" cy="79.9" r="0.46" fill="#f0a0b0" opacity="0.49"/>
<circle cx="177.5" cy="70.8" r="0.50" fill="#f0a0b0" opacity="0.44"/>
<circle cx="192.7" cy="73.6" r="0.64" fill="#d84a66" opacity="0.50"/>
<circle cx="180.5" cy="79.8" r="0.31" fill="#5e0012" opacity="0.53"/>
<circle cx="192.1" cy="73.3" r="0.57" fill="#e87890" opacity="0.67"/>
<circle cx="194.7" cy="75.3" r="0.55" fill="#e87890" opacity="0.62"/>
<circle cx="181.5" cy="69.9" r="0.46" fill="#b01030" opacity="0.41"/>
<circle cx="171.7" cy="71.6" r="0.43" fill="#f0a0b0" opacity="0.60"/>
<circle cx="183.9" cy="75.9" r="0.64" fill="#d84a66" opacity="0.64"/>
<circle cx="180.9" cy="76.5" r="0.54" fill="#b01030" opacity="0.77"/>
<circle cx="172.3" cy="73.4" r="0.64" fill="#b01030" opacity="0.81"/>
<circle cx="182.7" cy="70.8" r="0.54" fill="#6e0a20" opacity="0.81"/>
<circle cx="194.5" cy="78.4" r="0.52" fill="#f0a0b0" opacity="0.66"/>
<circle cx="190.2" cy="72.4" r="0.44" fill="#d84a66" opacity="0.43"/>
<circle cx="184.0" cy="70.8" r="0.54" fill="#5e0012" opacity="0.41"/>
<circle cx="170.1" cy="78.0" r="0.30" fill="#e87890" opacity="0.55"/>
<circle cx="190.8" cy="75.9" r="0.37" fill="#5e0012" opacity="0.65"/>
<circle cx="183.7" cy="72.6" r="0.48" fill="#e87890" opacity="0.47"/>
<circle cx="174.9" cy="76.4" r="0.35" fill="#7a0016" opacity="0.78"/>
<circle cx="172.6" cy="69.9" r="0.63" fill="#7a0016" opacity="0.65"/>
<circle cx="181.5" cy="74.3" r="0.53" fill="#5e0012" opacity="0.74"/>
<circle cx="184.3" cy="71.3" r="0.42" fill="#d84a66" opacity="0.48"/>
<circle cx="176.6" cy="70.2" r="0.42" fill="#c41a3a" opacity="0.62"/>
<circle cx="179.5" cy="69.9" r="0.50" fill="#f0a0b0" opacity="0.88"/>
<circle cx="180.9" cy="76.5" r="0.38" fill="#d84a66" opacity="0.48"/>
<circle cx="184.5" cy="71.6" r="0.61" fill="#5e0012" opacity="0.81"/>
<circle cx="177.5" cy="76.4" r="0.64" fill="#f4b8c4" opacity="0.43"/>
<circle cx="186.7" cy="76.9" r="0.44" fill="#d84a66" opacity="0.60"/>
<circle cx="187.6" cy="70.3" r="0.33" fill="#d84a66" opacity="0.48"/>
<circle cx="179.4" cy="69.3" r="0.44" fill="#6e0a20" opacity="0.58"/>
<circle cx="178.3" cy="79.6" r="0.44" fill="#b01030" opacity="0.43"/>
<circle cx="173.0" cy="79.4" r="0.49" fill="#b01030" opacity="0.59"/>
<circle cx="181.5" cy="73.3" r="0.31" fill="#f0a0b0" opacity="0.73"/>
<circle cx="178.4" cy="71.0" r="0.33" fill="#7a0016" opacity="0.53"/>
<circle cx="190.6" cy="71.7" r="0.46" fill="#f4b8c4" opacity="0.80"/>
<circle cx="175.9" cy="73.5" r="0.55" fill="#d84a66" opacity="0.59"/>
<circle cx="193.7" cy="72.6" r="0.48" fill="#f4b8c4" opacity="0.51"/>
<circle cx="181.2" cy="70.9" r="0.51" fill="#6e0a20" opacity="0.62"/>
<circle cx="194.5" cy="75.4" r="0.51" fill="#f0a0b0" opacity="0.51"/>
<circle cx="191.5" cy="71.7" r="0.33" fill="#e87890" opacity="0.83"/>
<circle cx="188.2" cy="77.7" r="0.53" fill="#5e0012" opacity="0.68"/>
<circle cx="177.7" cy="73.8" r="0.54" fill="#c41a3a" opacity="0.79"/>
<circle cx="175.7" cy="71.2" r="0.32" fill="#c41a3a" opacity="0.86"/>
<circle cx="189.9" cy="77.6" r="0.32" fill="#d84a66" opacity="0.56"/>
<circle cx="175.6" cy="70.4" r="0.40" fill="#f0a0b0" opacity="0.60"/>
<circle cx="192.5" cy="77.6" r="0.63" fill="#7a0016" opacity="0.49"/>
<circle cx="179.1" cy="78.7" r="0.61" fill="#b01030" opacity="0.41"/>
<circle cx="187.4" cy="74.7" r="0.42" fill="#f0a0b0" opacity="0.71"/>
<circle cx="174.5" cy="70.2" r="0.55" fill="#d84a66" opacity="0.42"/>
<circle cx="171.0" cy="70.7" r="0.56" fill="#d84a66" opacity="0.48"/>
<circle cx="188.2" cy="75.6" r="0.50" fill="#7a0016" opacity="0.51"/>
<circle cx="182.3" cy="75.3" r="0.53" fill="#f0a0b0" opacity="0.69"/>
<circle cx="193.1" cy="71.7" r="0.62" fill="#6e0a20" opacity="0.84"/>
<circle cx="184.5" cy="77.2" r="0.54" fill="#d84a66" opacity="0.42"/>
<circle cx="177.9" cy="78.5" r="0.56" fill="#b01030" opacity="0.44"/>
<circle cx="187.2" cy="74.0" r="0.40" fill="#d84a66" opacity="0.44"/>
<circle cx="193.4" cy="74.5" r="0.54" fill="#b01030" opacity="0.77"/>
<circle cx="190.5" cy="76.3" r="0.48" fill="#f4b8c4" opacity="0.74"/>
<circle cx="175.1" cy="77.3" r="0.47" fill="#7a0016" opacity="0.49"/>
<circle cx="193.5" cy="78.0" r="0.39" fill="#e87890" opacity="0.67"/>
<circle cx="193.9" cy="76.3" r="0.39" fill="#e87890" opacity="0.88"/>
<circle cx="174.2" cy="73.2" r="0.37" fill="#c41a3a" opacity="0.56"/>
<circle cx="173.4" cy="77.8" r="0.38" fill="#f4b8c4" opacity="0.52"/>
<circle cx="182.7" cy="74.5" r="0.54" fill="#b01030" opacity="0.47"/>
<circle cx="187.5" cy="76.0" r="0.42" fill="#d84a66" opacity="0.81"/>
<circle cx="183.5" cy="77.9" r="0.54" fill="#7a0016" opacity="0.48"/>
<circle cx="194.2" cy="78.0" r="0.59" fill="#f0a0b0" opacity="0.46"/>
<circle cx="177.1" cy="73.4" r="0.32" fill="#d84a66" opacity="0.85"/>
<circle cx="177.5" cy="70.4" r="0.46" fill="#6e0a20" opacity="0.46"/>
<circle cx="178.0" cy="74.7" r="0.40" fill="#b01030" opacity="0.68"/>
<circle cx="171.1" cy="74.8" r="0.33" fill="#f4b8c4" opacity="0.76"/>
<circle cx="194.2" cy="75.7" r="0.53" fill="#c41a3a" opacity="0.88"/>
<circle cx="182.1" cy="78.3" r="0.30" fill="#b01030" opacity="0.86"/>
<circle cx="185.9" cy="76.4" r="0.53" fill="#6e0a20" opacity="0.44"/>
<circle cx="188.5" cy="70.5" r="0.59" fill="#f0a0b0" opacity="0.55"/>
<circle cx="174.6" cy="76.9" r="0.34" fill="#7a0016" opacity="0.76"/>
<circle cx="177.7" cy="76.5" r="0.36" fill="#f0a0b0" opacity="0.81"/>
<circle cx="177.9" cy="73.5" r="0.62" fill="#e87890" opacity="0.82"/>
<circle cx="176.3" cy="69.6" r="0.50" fill="#c41a3a" opacity="0.71"/>
<circle cx="190.2" cy="77.1" r="0.63" fill="#5e0012" opacity="0.65"/>
<circle cx="182.3" cy="71.3" r="0.51" fill="#6e0a20" opacity="0.71"/>
<circle cx="173.5" cy="71.6" r="0.46" fill="#7a0016" opacity="0.88"/>
<circle cx="172.2" cy="69.1" r="0.47" fill="#f4b8c4" opacity="0.51"/>
<ellipse cx="166.2" cy="77.7" rx="4.8" ry="3.7" fill="#84448a" opacity="0.75" filter="url(#b10)"/>
<rect x="160.4" y="48.3" width="45.79999999999998" height="37.7" fill="none" stroke="#7a7a7a" stroke-width="0.8" />
<line x1="160.4" y1="86.0" x2="206.2" y2="86.0" stroke="#4a4a4a" stroke-width="0.8"/>
<text x="160.3" y="91.7" font-size="3.5" font-weight="bold" fill="#222" text-anchor="middle" stroke="#222" stroke-width="0.15">10</text>
<text x="162.10000000000002" y="89.7" font-size="2.5" font-weight="bold" fill="#222" text-anchor="start" >0</text>
<line x1="161.20000000000002" y1="85.0" x2="161.20000000000002" y2="86.8" stroke="#555" stroke-width="0.5"/>
<text x="170.95" y="91.7" font-size="3.5" font-weight="bold" fill="#222" text-anchor="middle" stroke="#222" stroke-width="0.15">10</text>
<text x="172.75" y="89.7" font-size="2.5" font-weight="bold" fill="#222" text-anchor="start" >1</text>
<line x1="171.85" y1="85.0" x2="171.85" y2="86.8" stroke="#555" stroke-width="0.5"/>
<text x="182.4" y="91.7" font-size="3.5" font-weight="bold" fill="#222" text-anchor="middle" stroke="#222" stroke-width="0.15">10</text>
<text x="184.20000000000002" y="89.7" font-size="2.5" font-weight="bold" fill="#222" text-anchor="start" >2</text>
<line x1="183.3" y1="85.0" x2="183.3" y2="86.8" stroke="#555" stroke-width="0.5"/>
<text x="193.85" y="91.7" font-size="3.5" font-weight="bold" fill="#222" text-anchor="middle" stroke="#222" stroke-width="0.15">10</text>
<text x="195.65" y="89.7" font-size="2.5" font-weight="bold" fill="#222" text-anchor="start" >3</text>
<line x1="194.75" y1="85.0" x2="194.75" y2="86.8" stroke="#555" stroke-width="0.5"/>
<text x="204.7" y="91.7" font-size="3.5" font-weight="bold" fill="#222" text-anchor="middle" stroke="#222" stroke-width="0.15">10</text>
<text x="206.5" y="89.7" font-size="2.5" font-weight="bold" fill="#222" text-anchor="start" >4</text>
<line x1="205.6" y1="85.0" x2="205.6" y2="86.8" stroke="#555" stroke-width="0.5"/>
<text transform="translate(156.70000000000002,49.5) rotate(-90)" x="0" y="0" font-size="3.3" font-weight="bold" fill="#333" text-anchor="middle" dominant-baseline="central" textLength="7.0" lengthAdjust="spacingAndGlyphs">1000</text>
<text x="156.8" y="86.9" font-size="2.8" font-weight="bold" fill="#333" text-anchor="middle" >0</text>
<line x1="159.20000000000002" y1="55.839999999999996" x2="160.4" y2="55.839999999999996" stroke="#777" stroke-width="0.5"/>
<line x1="159.20000000000002" y1="63.379999999999995" x2="160.4" y2="63.379999999999995" stroke="#777" stroke-width="0.5"/>
<line x1="159.20000000000002" y1="70.92" x2="160.4" y2="70.92" stroke="#777" stroke-width="0.5"/>
<line x1="159.20000000000002" y1="78.46000000000001" x2="160.4" y2="78.46000000000001" stroke="#777" stroke-width="0.5"/>
<path d="M218.6,68.3 L229.0,68.3 L240.5,72.425 L241.0,81.9 L232.0,83.4 L218.6,83.4 Z" fill="#f2b8c4" opacity="0.55" filter="url(#b8)"/>
<path d="M228.0,69.69999999999999 L228.0,69.7 L228.8,69.2 L229.7,70.3 L230.5,70.9 L231.3,70.5 L232.2,70.0 L233.0,70.0 L233.8,70.1 L234.7,71.5 L235.5,72.0 L236.3,70.7 L237.2,70.8 L238.0,72.7 L238.8,75.8 L238.0,80.2 L237.2,81.0 L236.3,80.7 L235.5,80.4 L234.7,81.5 L233.8,81.5 L233.0,81.5 L232.2,81.5 L231.3,81.7 L230.5,81.8 L229.7,81.8 L228.8,82.1 L228.0,82.4 Z" fill="url(#extgrad)" filter="url(#b5)"/>
<path d="M218.6,69.1 L218.6,68.8 L219.7,69.1 L220.8,69.2 L221.9,68.8 L223.1,69.4 L224.2,69.4 L225.3,69.0 L226.4,69.3 L227.5,69.2 L228.7,69.2 L229.8,69.7 L230.9,70.6 L232.0,71.0 L233.0,76.4 L232.0,82.6 L230.9,82.3 L229.8,82.4 L228.7,82.6 L227.5,82.1 L226.4,82.5 L225.3,82.5 L224.2,82.0 L223.1,82.4 L221.9,82.3 L220.8,82.7 L219.7,82.2 L218.6,82.1 Z" fill="#7e0018" filter="url(#b5)"/>
<circle cx="224.5" cy="72.8" r="0.49" fill="#5a0014" opacity="0.7"/>
<circle cx="225.9" cy="71.0" r="0.74" fill="#9a0a24" opacity="0.7"/>
<circle cx="227.3" cy="71.9" r="0.67" fill="#6a0a30" opacity="0.7"/>
<circle cx="225.2" cy="76.4" r="0.49" fill="#6a0a30" opacity="0.7"/>
<circle cx="227.9" cy="78.6" r="0.76" fill="#6a0a30" opacity="0.7"/>
<circle cx="219.7" cy="74.6" r="0.43" fill="#9a0a24" opacity="0.7"/>
<circle cx="220.4" cy="75.8" r="0.60" fill="#5a0014" opacity="0.7"/>
<circle cx="227.0" cy="81.4" r="0.61" fill="#9a0a24" opacity="0.7"/>
<circle cx="229.7" cy="74.4" r="0.47" fill="#5a0014" opacity="0.7"/>
<circle cx="226.1" cy="79.1" r="0.45" fill="#6a0a30" opacity="0.7"/>
<circle cx="219.4" cy="72.5" r="0.55" fill="#5a0014" opacity="0.7"/>
<circle cx="228.0" cy="81.4" r="0.58" fill="#5a0014" opacity="0.7"/>
<circle cx="228.1" cy="74.8" r="0.76" fill="#6a0a30" opacity="0.7"/>
<circle cx="231.8" cy="72.1" r="0.45" fill="#6a0a30" opacity="0.7"/>
<circle cx="230.3" cy="71.7" r="0.70" fill="#9a0a24" opacity="0.7"/>
<circle cx="229.4" cy="78.7" r="0.40" fill="#9a0a24" opacity="0.7"/>
<circle cx="220.2" cy="74.2" r="0.69" fill="#9a0a24" opacity="0.7"/>
<circle cx="228.3" cy="70.1" r="0.64" fill="#5a0014" opacity="0.7"/>
<circle cx="223.4" cy="73.6" r="0.64" fill="#5a0014" opacity="0.7"/>
<circle cx="231.0" cy="77.9" r="0.50" fill="#5a0014" opacity="0.7"/>
<circle cx="227.9" cy="69.9" r="0.80" fill="#9a0a24" opacity="0.7"/>
<circle cx="220.1" cy="69.9" r="0.44" fill="#9a0a24" opacity="0.7"/>
<circle cx="221.1" cy="76.4" r="0.52" fill="#6a0a30" opacity="0.7"/>
<circle cx="227.6" cy="79.9" r="0.64" fill="#9a0a24" opacity="0.7"/>
<circle cx="225.8" cy="78.1" r="0.72" fill="#9a0a24" opacity="0.7"/>
<circle cx="218.8" cy="73.8" r="0.46" fill="#6a0a30" opacity="0.7"/>
<circle cx="225.1" cy="70.0" r="0.73" fill="#5a0014" opacity="0.7"/>
<circle cx="221.0" cy="79.7" r="0.67" fill="#9a0a24" opacity="0.7"/>
<circle cx="229.9" cy="81.5" r="0.68" fill="#9a0a24" opacity="0.7"/>
<circle cx="223.9" cy="80.3" r="0.64" fill="#5a0014" opacity="0.7"/>
<circle cx="223.4" cy="76.1" r="0.52" fill="#5a0014" opacity="0.7"/>
<circle cx="226.5" cy="70.1" r="0.47" fill="#9a0a24" opacity="0.7"/>
<circle cx="228.3" cy="73.7" r="0.59" fill="#9a0a24" opacity="0.7"/>
<circle cx="222.8" cy="73.7" r="0.59" fill="#5a0014" opacity="0.7"/>
<circle cx="218.9" cy="75.3" r="0.79" fill="#5a0014" opacity="0.7"/>
<circle cx="227.1" cy="78.5" r="0.46" fill="#9a0a24" opacity="0.7"/>
<circle cx="222.3" cy="75.8" r="0.50" fill="#6a0a30" opacity="0.7"/>
<circle cx="226.3" cy="76.8" r="0.46" fill="#6a0a30" opacity="0.7"/>
<circle cx="219.1" cy="76.5" r="0.71" fill="#5a0014" opacity="0.7"/>
<circle cx="229.0" cy="77.4" r="0.65" fill="#9a0a24" opacity="0.7"/>
<circle cx="236.9" cy="78.7" r="0.61" fill="#d84a66" opacity="0.87"/>
<circle cx="235.5" cy="73.7" r="0.56" fill="#b01030" opacity="0.65"/>
<circle cx="234.9" cy="74.2" r="0.55" fill="#e87890" opacity="0.57"/>
<circle cx="235.8" cy="77.6" r="0.48" fill="#f4b8c4" opacity="0.85"/>
<circle cx="237.1" cy="80.7" r="0.35" fill="#7a0016" opacity="0.40"/>
<circle cx="237.9" cy="75.4" r="0.44" fill="#f4b8c4" opacity="0.79"/>
<circle cx="238.6" cy="76.7" r="0.41" fill="#7a0016" opacity="0.55"/>
<circle cx="236.1" cy="76.3" r="0.33" fill="#b01030" opacity="0.50"/>
<circle cx="238.6" cy="76.7" r="0.50" fill="#6e0a20" opacity="0.89"/>
<circle cx="231.5" cy="79.0" r="0.55" fill="#f0a0b0" opacity="0.86"/>
<circle cx="237.5" cy="74.1" r="0.40" fill="#7a0016" opacity="0.53"/>
<circle cx="227.3" cy="71.3" r="0.38" fill="#6e0a20" opacity="0.41"/>
<circle cx="227.6" cy="75.1" r="0.60" fill="#6e0a20" opacity="0.72"/>
<circle cx="229.5" cy="78.7" r="0.51" fill="#7a0016" opacity="0.44"/>
<circle cx="237.1" cy="79.5" r="0.55" fill="#b01030" opacity="0.40"/>
<circle cx="230.4" cy="77.5" r="0.52" fill="#5e0012" opacity="0.86"/>
<circle cx="229.7" cy="73.5" r="0.53" fill="#5e0012" opacity="0.60"/>
<circle cx="235.5" cy="74.1" r="0.60" fill="#5e0012" opacity="0.80"/>
<circle cx="228.1" cy="77.2" r="0.65" fill="#f4b8c4" opacity="0.60"/>
<circle cx="238.8" cy="79.3" r="0.62" fill="#5e0012" opacity="0.68"/>
<circle cx="239.3" cy="71.9" r="0.35" fill="#b01030" opacity="0.41"/>
<circle cx="229.6" cy="76.1" r="0.43" fill="#c41a3a" opacity="0.58"/>
<circle cx="231.3" cy="77.9" r="0.35" fill="#e87890" opacity="0.89"/>
<circle cx="234.2" cy="72.8" r="0.58" fill="#6e0a20" opacity="0.64"/>
<circle cx="227.4" cy="77.7" r="0.64" fill="#e87890" opacity="0.63"/>
<circle cx="230.5" cy="76.0" r="0.35" fill="#6e0a20" opacity="0.40"/>
<circle cx="232.9" cy="77.5" r="0.35" fill="#b01030" opacity="0.71"/>
<circle cx="232.0" cy="81.4" r="0.52" fill="#5e0012" opacity="0.46"/>
<circle cx="233.8" cy="72.4" r="0.39" fill="#7a0016" opacity="0.70"/>
<circle cx="236.2" cy="79.9" r="0.48" fill="#7a0016" opacity="0.58"/>
<circle cx="235.9" cy="75.2" r="0.37" fill="#f4b8c4" opacity="0.86"/>
<circle cx="238.3" cy="74.8" r="0.41" fill="#d84a66" opacity="0.85"/>
<circle cx="228.3" cy="78.8" r="0.58" fill="#c41a3a" opacity="0.86"/>
<circle cx="235.4" cy="74.2" r="0.50" fill="#d84a66" opacity="0.60"/>
<circle cx="238.5" cy="80.0" r="0.31" fill="#d84a66" opacity="0.41"/>
<circle cx="235.9" cy="73.1" r="0.37" fill="#b01030" opacity="0.78"/>
<circle cx="235.0" cy="73.6" r="0.38" fill="#f4b8c4" opacity="0.68"/>
<circle cx="229.0" cy="80.4" r="0.63" fill="#6e0a20" opacity="0.47"/>
<circle cx="230.8" cy="70.6" r="0.47" fill="#5e0012" opacity="0.85"/>
<circle cx="229.0" cy="78.1" r="0.37" fill="#f4b8c4" opacity="0.43"/>
<circle cx="236.8" cy="79.3" r="0.32" fill="#b01030" opacity="0.79"/>
<circle cx="232.5" cy="75.0" r="0.65" fill="#7a0016" opacity="0.55"/>
<circle cx="227.3" cy="70.6" r="0.35" fill="#5e0012" opacity="0.55"/>
<circle cx="233.3" cy="74.0" r="0.46" fill="#7a0016" opacity="0.60"/>
<circle cx="232.2" cy="77.4" r="0.61" fill="#f0a0b0" opacity="0.89"/>
<circle cx="227.4" cy="72.2" r="0.31" fill="#5e0012" opacity="0.65"/>
<circle cx="229.9" cy="74.8" r="0.55" fill="#c41a3a" opacity="0.42"/>
<circle cx="238.2" cy="71.7" r="0.34" fill="#c41a3a" opacity="0.64"/>
<circle cx="228.7" cy="74.8" r="0.38" fill="#7a0016" opacity="0.67"/>
<circle cx="234.9" cy="76.3" r="0.49" fill="#c41a3a" opacity="0.82"/>
<circle cx="239.0" cy="72.0" r="0.60" fill="#d84a66" opacity="0.89"/>
<circle cx="229.8" cy="70.3" r="0.31" fill="#7a0016" opacity="0.53"/>
<circle cx="239.1" cy="73.1" r="0.44" fill="#5e0012" opacity="0.68"/>
<circle cx="231.5" cy="69.8" r="0.53" fill="#5e0012" opacity="0.67"/>
<circle cx="233.9" cy="77.9" r="0.44" fill="#6e0a20" opacity="0.56"/>
<circle cx="232.2" cy="81.3" r="0.57" fill="#f0a0b0" opacity="0.84"/>
<circle cx="237.0" cy="79.8" r="0.38" fill="#5e0012" opacity="0.65"/>
<circle cx="239.4" cy="77.6" r="0.65" fill="#f0a0b0" opacity="0.81"/>
<circle cx="235.3" cy="71.4" r="0.62" fill="#5e0012" opacity="0.42"/>
<circle cx="235.7" cy="73.9" r="0.49" fill="#f4b8c4" opacity="0.56"/>
<circle cx="239.1" cy="71.4" r="0.48" fill="#f4b8c4" opacity="0.70"/>
<circle cx="239.4" cy="73.5" r="0.42" fill="#f0a0b0" opacity="0.43"/>
<circle cx="239.2" cy="73.8" r="0.33" fill="#b01030" opacity="0.80"/>
<circle cx="235.3" cy="80.3" r="0.39" fill="#6e0a20" opacity="0.82"/>
<circle cx="237.7" cy="74.4" r="0.50" fill="#f4b8c4" opacity="0.90"/>
<circle cx="227.8" cy="79.2" r="0.48" fill="#b01030" opacity="0.66"/>
<circle cx="237.2" cy="73.2" r="0.35" fill="#7a0016" opacity="0.73"/>
<circle cx="229.2" cy="81.5" r="0.41" fill="#5e0012" opacity="0.58"/>
<circle cx="237.8" cy="75.2" r="0.35" fill="#f0a0b0" opacity="0.53"/>
<circle cx="228.3" cy="73.8" r="0.48" fill="#e87890" opacity="0.63"/>
<circle cx="228.1" cy="74.4" r="0.54" fill="#f4b8c4" opacity="0.62"/>
<circle cx="233.0" cy="79.2" r="0.35" fill="#e87890" opacity="0.74"/>
<circle cx="231.6" cy="76.0" r="0.52" fill="#d84a66" opacity="0.66"/>
<circle cx="237.0" cy="73.4" r="0.37" fill="#e87890" opacity="0.69"/>
<circle cx="227.7" cy="71.5" r="0.40" fill="#e87890" opacity="0.56"/>
<circle cx="230.0" cy="79.9" r="0.48" fill="#c41a3a" opacity="0.65"/>
<circle cx="228.1" cy="70.8" r="0.52" fill="#6e0a20" opacity="0.59"/>
<circle cx="227.5" cy="75.0" r="0.31" fill="#b01030" opacity="0.78"/>
<circle cx="239.1" cy="75.3" r="0.42" fill="#6e0a20" opacity="0.59"/>
<circle cx="234.2" cy="80.4" r="0.64" fill="#d84a66" opacity="0.83"/>
<circle cx="234.3" cy="70.9" r="0.42" fill="#d84a66" opacity="0.44"/>
<circle cx="236.5" cy="74.6" r="0.45" fill="#e87890" opacity="0.87"/>
<circle cx="235.0" cy="78.9" r="0.51" fill="#c41a3a" opacity="0.63"/>
<circle cx="232.8" cy="79.7" r="0.65" fill="#f0a0b0" opacity="0.49"/>
<circle cx="227.8" cy="74.4" r="0.48" fill="#7a0016" opacity="0.81"/>
<circle cx="235.4" cy="78.3" r="0.49" fill="#f0a0b0" opacity="0.86"/>
<circle cx="230.7" cy="73.6" r="0.57" fill="#f0a0b0" opacity="0.46"/>
<circle cx="229.8" cy="70.3" r="0.34" fill="#5e0012" opacity="0.44"/>
<circle cx="236.4" cy="76.5" r="0.59" fill="#5e0012" opacity="0.50"/>
<circle cx="231.2" cy="80.2" r="0.54" fill="#e87890" opacity="0.61"/>
<circle cx="234.3" cy="81.2" r="0.61" fill="#5e0012" opacity="0.47"/>
<circle cx="231.2" cy="75.9" r="0.37" fill="#5e0012" opacity="0.67"/>
<circle cx="233.5" cy="71.1" r="0.39" fill="#f0a0b0" opacity="0.83"/>
<circle cx="233.9" cy="75.9" r="0.54" fill="#f0a0b0" opacity="0.55"/>
<circle cx="230.1" cy="74.2" r="0.60" fill="#f0a0b0" opacity="0.53"/>
<circle cx="229.5" cy="70.0" r="0.53" fill="#e87890" opacity="0.87"/>
<circle cx="235.2" cy="78.0" r="0.43" fill="#7a0016" opacity="0.80"/>
<ellipse cx="223.1" cy="78.2" rx="4.0" ry="2.8" fill="#84448a" opacity="0.75" filter="url(#b10)"/>
<rect x="218.1" y="48.3" width="45.099999999999994" height="37.7" fill="none" stroke="#7a7a7a" stroke-width="0.8" />
<line x1="218.1" y1="86.0" x2="263.2" y2="86.0" stroke="#4a4a4a" stroke-width="0.8"/>
<text x="218.0" y="91.7" font-size="3.5" font-weight="bold" fill="#222" text-anchor="middle" stroke="#222" stroke-width="0.15">10</text>
<text x="219.8" y="89.7" font-size="2.5" font-weight="bold" fill="#222" text-anchor="start" >0</text>
<line x1="218.9" y1="85.0" x2="218.9" y2="86.8" stroke="#555" stroke-width="0.5"/>
<text x="228.475" y="91.7" font-size="3.5" font-weight="bold" fill="#222" text-anchor="middle" stroke="#222" stroke-width="0.15">10</text>
<text x="230.275" y="89.7" font-size="2.5" font-weight="bold" fill="#222" text-anchor="start" >1</text>
<line x1="229.375" y1="85.0" x2="229.375" y2="86.8" stroke="#555" stroke-width="0.5"/>
<text x="239.74999999999997" y="91.7" font-size="3.5" font-weight="bold" fill="#222" text-anchor="middle" stroke="#222" stroke-width="0.15">10</text>
<text x="241.54999999999998" y="89.7" font-size="2.5" font-weight="bold" fill="#222" text-anchor="start" >2</text>
<line x1="240.64999999999998" y1="85.0" x2="240.64999999999998" y2="86.8" stroke="#555" stroke-width="0.5"/>
<text x="251.02499999999998" y="91.7" font-size="3.5" font-weight="bold" fill="#222" text-anchor="middle" stroke="#222" stroke-width="0.15">10</text>
<text x="252.825" y="89.7" font-size="2.5" font-weight="bold" fill="#222" text-anchor="start" >3</text>
<line x1="251.92499999999998" y1="85.0" x2="251.92499999999998" y2="86.8" stroke="#555" stroke-width="0.5"/>
<text x="261.7" y="91.7" font-size="3.5" font-weight="bold" fill="#222" text-anchor="middle" stroke="#222" stroke-width="0.15">10</text>
<text x="263.49999999999994" y="89.7" font-size="2.5" font-weight="bold" fill="#222" text-anchor="start" >4</text>
<line x1="262.59999999999997" y1="85.0" x2="262.59999999999997" y2="86.8" stroke="#555" stroke-width="0.5"/>
<text transform="translate(214.4,49.5) rotate(-90)" x="0" y="0" font-size="3.3" font-weight="bold" fill="#333" text-anchor="middle" dominant-baseline="central" textLength="7.0" lengthAdjust="spacingAndGlyphs">1000</text>
<text x="214.5" y="86.9" font-size="2.8" font-weight="bold" fill="#333" text-anchor="middle" >0</text>
<line x1="216.9" y1="55.839999999999996" x2="218.1" y2="55.839999999999996" stroke="#777" stroke-width="0.5"/>
<line x1="216.9" y1="63.379999999999995" x2="218.1" y2="63.379999999999995" stroke="#777" stroke-width="0.5"/>
<line x1="216.9" y1="70.92" x2="218.1" y2="70.92" stroke="#777" stroke-width="0.5"/>
<line x1="216.9" y1="78.46000000000001" x2="218.1" y2="78.46000000000001" stroke="#777" stroke-width="0.5"/>
<line x1="38.5" y1="99.2" x2="38.5" y2="135.2" stroke="#6a6a6a" stroke-width="0.9"/>
<line x1="21.7" y1="123.9" x2="69.5" y2="123.9" stroke="#6a6a6a" stroke-width="0.9"/>
<path d="M22.1,118.0 L22.1,117.0 L23.7,117.9 L25.4,117.4 L27.0,116.8 L28.7,117.1 L30.3,117.4 L31.9,117.2 L33.6,117.4 L35.2,117.1 L36.9,117.1 L38.5,117.7 L38.9,118.4 L38.9,135.2 L22.1,135.2 Z" fill="#122d64" filter="url(#b5)"/>
<circle cx="26.9" cy="130.3" r="0.5" fill="#3a5c98" opacity="0.8"/>
<circle cx="32.1" cy="125.1" r="0.5" fill="#5a7cb4" opacity="0.8"/>
<circle cx="29.4" cy="133.1" r="0.5" fill="#061a44" opacity="0.8"/>
<circle cx="25.1" cy="132.8" r="0.5" fill="#061a44" opacity="0.8"/>
<circle cx="22.9" cy="132.9" r="0.5" fill="#061a44" opacity="0.8"/>
<circle cx="35.5" cy="126.7" r="0.5" fill="#061a44" opacity="0.8"/>
<circle cx="37.2" cy="127.7" r="0.5" fill="#1c3e80" opacity="0.8"/>
<circle cx="30.3" cy="129.7" r="0.5" fill="#5a7cb4" opacity="0.8"/>
<circle cx="34.4" cy="131.8" r="0.5" fill="#3a5c98" opacity="0.8"/>
<circle cx="35.8" cy="120.7" r="0.5" fill="#5a7cb4" opacity="0.8"/>
<circle cx="25.5" cy="119.9" r="0.5" fill="#061a44" opacity="0.8"/>
<circle cx="25.4" cy="119.8" r="0.5" fill="#061a44" opacity="0.8"/>
<circle cx="28.9" cy="129.4" r="0.5" fill="#0a2250" opacity="0.8"/>
<circle cx="33.7" cy="125.7" r="0.5" fill="#2a4c8c" opacity="0.8"/>
<circle cx="24.6" cy="119.2" r="0.5" fill="#5a7cb4" opacity="0.8"/>
<circle cx="24.3" cy="120.9" r="0.5" fill="#2a4c8c" opacity="0.8"/>
<circle cx="26.9" cy="122.2" r="0.5" fill="#3a5c98" opacity="0.8"/>
<circle cx="35.2" cy="130.2" r="0.5" fill="#5a7cb4" opacity="0.8"/>
<circle cx="24.6" cy="133.7" r="0.5" fill="#0a2250" opacity="0.8"/>
<circle cx="31.1" cy="121.8" r="0.5" fill="#5a7cb4" opacity="0.8"/>
<circle cx="38.2" cy="124.9" r="0.5" fill="#061a44" opacity="0.8"/>
<circle cx="27.5" cy="120.9" r="0.5" fill="#0a2250" opacity="0.8"/>
<circle cx="25.8" cy="127.5" r="0.5" fill="#061a44" opacity="0.8"/>
<circle cx="25.3" cy="120.7" r="0.5" fill="#1c3e80" opacity="0.8"/>
<circle cx="29.1" cy="129.7" r="0.5" fill="#061a44" opacity="0.8"/>
<circle cx="22.7" cy="124.2" r="0.5" fill="#5a7cb4" opacity="0.8"/>
<circle cx="37.2" cy="135.1" r="0.5" fill="#3a5c98" opacity="0.8"/>
<circle cx="30.7" cy="123.1" r="0.5" fill="#0a2250" opacity="0.8"/>
<circle cx="22.4" cy="131.5" r="0.5" fill="#061a44" opacity="0.8"/>
<circle cx="25.4" cy="123.0" r="0.5" fill="#0a2250" opacity="0.8"/>
<circle cx="31.9" cy="127.4" r="0.5" fill="#061a44" opacity="0.8"/>
<circle cx="25.4" cy="126.2" r="0.5" fill="#1c3e80" opacity="0.8"/>
<circle cx="31.6" cy="123.3" r="0.5" fill="#3a5c98" opacity="0.8"/>
<circle cx="31.9" cy="134.6" r="0.5" fill="#0a2250" opacity="0.8"/>
<circle cx="25.3" cy="120.8" r="0.5" fill="#0a2250" opacity="0.8"/>
<circle cx="22.9" cy="123.9" r="0.5" fill="#2a4c8c" opacity="0.8"/>
<circle cx="30.0" cy="123.8" r="0.5" fill="#0a2250" opacity="0.8"/>
<circle cx="25.0" cy="131.6" r="0.5" fill="#0a2250" opacity="0.8"/>
<circle cx="35.4" cy="130.5" r="0.5" fill="#2a4c8c" opacity="0.8"/>
<circle cx="23.7" cy="127.6" r="0.5" fill="#1c3e80" opacity="0.8"/>
<circle cx="31.9" cy="126.0" r="0.5" fill="#061a44" opacity="0.8"/>
<circle cx="22.7" cy="128.0" r="0.5" fill="#2a4c8c" opacity="0.8"/>
<circle cx="32.7" cy="120.4" r="0.5" fill="#3a5c98" opacity="0.8"/>
<circle cx="35.8" cy="119.5" r="0.5" fill="#5a7cb4" opacity="0.8"/>
<circle cx="33.0" cy="121.0" r="0.5" fill="#1c3e80" opacity="0.8"/>
<circle cx="33.0" cy="119.7" r="0.5" fill="#061a44" opacity="0.8"/>
<circle cx="35.9" cy="133.0" r="0.5" fill="#2a4c8c" opacity="0.8"/>
<circle cx="27.1" cy="122.6" r="0.5" fill="#061a44" opacity="0.8"/>
<circle cx="36.5" cy="120.2" r="0.5" fill="#2a4c8c" opacity="0.8"/>
<circle cx="26.5" cy="127.4" r="0.5" fill="#0a2250" opacity="0.8"/>
<circle cx="29.8" cy="121.0" r="0.5" fill="#3a5c98" opacity="0.8"/>
<circle cx="22.8" cy="122.6" r="0.5" fill="#1c3e80" opacity="0.8"/>
<circle cx="26.7" cy="127.6" r="0.5" fill="#1c3e80" opacity="0.8"/>
<circle cx="37.0" cy="130.6" r="0.5" fill="#3a5c98" opacity="0.8"/>
<circle cx="30.3" cy="133.3" r="0.5" fill="#061a44" opacity="0.8"/>
<circle cx="23.8" cy="119.1" r="0.5" fill="#5a7cb4" opacity="0.8"/>
<circle cx="31.5" cy="129.9" r="0.5" fill="#1c3e80" opacity="0.8"/>
<circle cx="23.5" cy="121.1" r="0.5" fill="#0a2250" opacity="0.8"/>
<circle cx="38.5" cy="125.4" r="0.5" fill="#3a5c98" opacity="0.8"/>
<circle cx="30.6" cy="123.2" r="0.5" fill="#061a44" opacity="0.8"/>
<circle cx="23.5" cy="128.0" r="0.5" fill="#1c3e80" opacity="0.8"/>
<circle cx="26.1" cy="131.4" r="0.5" fill="#3a5c98" opacity="0.8"/>
<circle cx="33.8" cy="119.3" r="0.5" fill="#1c3e80" opacity="0.8"/>
<circle cx="23.3" cy="123.9" r="0.5" fill="#061a44" opacity="0.8"/>
<circle cx="22.8" cy="128.7" r="0.5" fill="#5a7cb4" opacity="0.8"/>
<circle cx="25.0" cy="123.4" r="0.5" fill="#061a44" opacity="0.8"/>
<circle cx="35.4" cy="126.1" r="0.5" fill="#1c3e80" opacity="0.8"/>
<circle cx="22.3" cy="134.2" r="0.5" fill="#2a4c8c" opacity="0.8"/>
<circle cx="35.0" cy="118.7" r="0.5" fill="#1c3e80" opacity="0.8"/>
<circle cx="24.5" cy="126.9" r="0.5" fill="#1c3e80" opacity="0.8"/>
<circle cx="24.6" cy="124.1" r="0.5" fill="#1c3e80" opacity="0.8"/>
<circle cx="25.4" cy="133.9" r="0.5" fill="#5a7cb4" opacity="0.8"/>
<circle cx="27.5" cy="134.8" r="0.5" fill="#061a44" opacity="0.8"/>
<circle cx="35.1" cy="126.4" r="0.5" fill="#2a4c8c" opacity="0.8"/>
<circle cx="30.7" cy="123.8" r="0.5" fill="#061a44" opacity="0.8"/>
<circle cx="34.4" cy="129.0" r="0.5" fill="#1c3e80" opacity="0.8"/>
<circle cx="36.3" cy="119.1" r="0.5" fill="#0a2250" opacity="0.8"/>
<circle cx="35.0" cy="119.8" r="0.5" fill="#5a7cb4" opacity="0.8"/>
<circle cx="38.0" cy="128.1" r="0.5" fill="#2a4c8c" opacity="0.8"/>
<circle cx="33.1" cy="130.9" r="0.5" fill="#1c3e80" opacity="0.8"/>
<circle cx="26.4" cy="130.0" r="0.5" fill="#0a2250" opacity="0.8"/>
<circle cx="36.9" cy="130.9" r="0.5" fill="#5a7cb4" opacity="0.8"/>
<circle cx="31.8" cy="125.6" r="0.5" fill="#5a7cb4" opacity="0.8"/>
<circle cx="35.0" cy="133.0" r="0.5" fill="#0a2250" opacity="0.8"/>
<circle cx="34.4" cy="128.3" r="0.5" fill="#5a7cb4" opacity="0.8"/>
<circle cx="37.6" cy="120.2" r="0.5" fill="#0a2250" opacity="0.8"/>
<circle cx="34.4" cy="132.6" r="0.5" fill="#1c3e80" opacity="0.8"/>
<circle cx="25.3" cy="126.0" r="0.5" fill="#1c3e80" opacity="0.8"/>
<circle cx="36.5" cy="128.0" r="0.5" fill="#5a7cb4" opacity="0.8"/>
<circle cx="36.7" cy="119.1" r="0.5" fill="#5a7cb4" opacity="0.8"/>
<circle cx="35.0" cy="131.7" r="0.5" fill="#5a7cb4" opacity="0.8"/>
<circle cx="34.8" cy="124.0" r="0.5" fill="#2a4c8c" opacity="0.8"/>
<circle cx="28.8" cy="119.7" r="0.5" fill="#5a7cb4" opacity="0.8"/>
<circle cx="33.1" cy="131.7" r="0.5" fill="#5a7cb4" opacity="0.8"/>
<circle cx="31.9" cy="132.4" r="0.5" fill="#0a2250" opacity="0.8"/>
<circle cx="22.2" cy="126.5" r="0.5" fill="#061a44" opacity="0.8"/>
<circle cx="37.7" cy="133.1" r="0.5" fill="#2a4c8c" opacity="0.8"/>
<circle cx="29.0" cy="128.5" r="0.5" fill="#2a4c8c" opacity="0.8"/>
<circle cx="24.5" cy="127.5" r="0.5" fill="#061a44" opacity="0.8"/>
<circle cx="27.9" cy="132.6" r="0.5" fill="#3a5c98" opacity="0.8"/>
<circle cx="22.6" cy="123.9" r="0.5" fill="#0a2250" opacity="0.8"/>
<circle cx="25.2" cy="133.3" r="0.5" fill="#2a4c8c" opacity="0.8"/>
<circle cx="32.9" cy="131.9" r="0.5" fill="#061a44" opacity="0.8"/>
<circle cx="25.6" cy="128.9" r="0.5" fill="#2a4c8c" opacity="0.8"/>
<circle cx="35.6" cy="121.3" r="0.5" fill="#0a2250" opacity="0.8"/>
<circle cx="27.6" cy="120.8" r="0.5" fill="#1c3e80" opacity="0.8"/>
<circle cx="25.8" cy="133.3" r="0.5" fill="#3a5c98" opacity="0.8"/>
<circle cx="36.6" cy="134.5" r="0.5" fill="#0a2250" opacity="0.8"/>
<circle cx="30.3" cy="134.4" r="0.5" fill="#3a5c98" opacity="0.8"/>
<circle cx="35.1" cy="128.5" r="0.5" fill="#1c3e80" opacity="0.8"/>
<circle cx="28.5" cy="118.4" r="0.5" fill="#1c3e80" opacity="0.8"/>
<circle cx="23.8" cy="122.4" r="0.5" fill="#3a5c98" opacity="0.8"/>
<circle cx="35.4" cy="122.5" r="0.5" fill="#0a2250" opacity="0.8"/>
<circle cx="33.2" cy="134.9" r="0.5" fill="#5a7cb4" opacity="0.8"/>
<circle cx="36.2" cy="126.9" r="0.5" fill="#2a4c8c" opacity="0.8"/>
<circle cx="24.3" cy="131.0" r="0.5" fill="#0a2250" opacity="0.8"/>
<circle cx="33.0" cy="119.5" r="0.5" fill="#3a5c98" opacity="0.8"/>
<circle cx="27.5" cy="122.7" r="0.5" fill="#0a2250" opacity="0.8"/>
<circle cx="28.4" cy="117.1" r="0.45" fill="#2a4a88" opacity="0.7"/>
<circle cx="33.1" cy="116.6" r="0.45" fill="#2a4a88" opacity="0.7"/>
<circle cx="31.2" cy="117.2" r="0.45" fill="#2a4a88" opacity="0.7"/>
<circle cx="37.9" cy="116.8" r="0.45" fill="#2a4a88" opacity="0.7"/>
<circle cx="28.4" cy="117.7" r="0.45" fill="#2a4a88" opacity="0.7"/>
<circle cx="23.1" cy="117.4" r="0.45" fill="#2a4a88" opacity="0.7"/>
<circle cx="34.0" cy="116.9" r="0.45" fill="#2a4a88" opacity="0.7"/>
<circle cx="29.9" cy="117.3" r="0.45" fill="#2a4a88" opacity="0.7"/>
<circle cx="37.6" cy="117.2" r="0.45" fill="#2a4a88" opacity="0.7"/>
<circle cx="35.1" cy="116.1" r="0.45" fill="#2a4a88" opacity="0.7"/>
<circle cx="27.8" cy="116.2" r="0.45" fill="#2a4a88" opacity="0.7"/>
<circle cx="38.7" cy="117.5" r="0.45" fill="#2a4a88" opacity="0.7"/>
<circle cx="24.6" cy="117.0" r="0.45" fill="#2a4a88" opacity="0.7"/>
<circle cx="32.1" cy="116.1" r="0.45" fill="#2a4a88" opacity="0.7"/>
<circle cx="28.9" cy="117.3" r="0.45" fill="#2a4a88" opacity="0.7"/>
<circle cx="33.3" cy="116.5" r="0.45" fill="#2a4a88" opacity="0.7"/>
<circle cx="35.4" cy="116.5" r="0.45" fill="#2a4a88" opacity="0.7"/>
<circle cx="31.6" cy="116.7" r="0.45" fill="#2a4a88" opacity="0.7"/>
<circle cx="39.1" cy="117.1" r="0.45" fill="#2a4a88" opacity="0.7"/>
<path d="M23.1,125.5 L36.0,121.5 L37.0,122.9 L23.1,126.9 Z" fill="#7fa4d4" opacity="0.55" filter="url(#b8)"/>
<circle cx="33.6" cy="123.1" r="0.45" fill="#d4e4f6" opacity="0.85"/>
<circle cx="28.3" cy="125.4" r="0.45" fill="#d4e4f6" opacity="0.85"/>
<circle cx="32.4" cy="123.5" r="0.45" fill="#d4e4f6" opacity="0.85"/>
<circle cx="27.0" cy="124.3" r="0.45" fill="#d4e4f6" opacity="0.85"/>
<circle cx="30.7" cy="124.3" r="0.45" fill="#d4e4f6" opacity="0.85"/>
<circle cx="33.4" cy="122.5" r="0.45" fill="#d4e4f6" opacity="0.85"/>
<circle cx="25.3" cy="125.5" r="0.45" fill="#d4e4f6" opacity="0.85"/>
<circle cx="34.5" cy="121.7" r="0.45" fill="#d4e4f6" opacity="0.85"/>
<circle cx="32.8" cy="122.3" r="0.45" fill="#d4e4f6" opacity="0.85"/>
<circle cx="27.5" cy="123.9" r="0.45" fill="#d4e4f6" opacity="0.85"/>
<circle cx="27.3" cy="124.6" r="0.45" fill="#d4e4f6" opacity="0.85"/>
<circle cx="35.6" cy="123.0" r="0.45" fill="#d4e4f6" opacity="0.85"/>
<path d="M31.5,123.4 L38.0,120.9 L38.0,131.2 L35.0,128.9 Z" fill="#9ec0e6" opacity="0.45" filter="url(#b8)"/>
<path d="M38.8,122.4 L37.0,122.4 L36.7,123.9 L35.6,125.4 L36.9,126.9 L36.7,128.4 L36.5,129.9 L37.1,131.4 L36.8,132.9 L36.6,134.4 L37.0,134.89999999999998 L38.8,134.89999999999998 Z" fill="#a8c8ea" opacity="0.6" filter="url(#b5)"/>
<path d="M38.5,117.1 L48.8,117.6 L53.8,119.75 L48.8,122.7 L38.5,122.9 Z" fill="#f0a8bc" opacity="0.7" filter="url(#b8)"/>
<path d="M38.5,117.6 L49.3,117.8 L51.8,118.8 L50.8,121.10000000000001 L49.3,121.7 L38.5,121.9 Z" fill="url(#redgrad)" filter="url(#b5)"/>
<circle cx="44.6" cy="122.5" r="0.45" fill="#800018" opacity="0.36"/>
<circle cx="53.1" cy="120.6" r="0.45" fill="#e06080" opacity="0.72"/>
<circle cx="48.6" cy="121.5" r="0.45" fill="#800018" opacity="0.32"/>
<circle cx="42.9" cy="120.1" r="0.45" fill="#e06080" opacity="0.58"/>
<circle cx="49.1" cy="121.3" r="0.45" fill="#800018" opacity="0.50"/>
<circle cx="49.8" cy="119.3" r="0.45" fill="#800018" opacity="0.73"/>
<circle cx="40.4" cy="119.6" r="0.45" fill="#d02040" opacity="0.32"/>
<circle cx="51.6" cy="120.3" r="0.45" fill="#800018" opacity="0.60"/>
<circle cx="44.2" cy="122.6" r="0.45" fill="#d02040" opacity="0.74"/>
<circle cx="40.0" cy="120.5" r="0.45" fill="#800018" opacity="0.72"/>
<circle cx="49.7" cy="122.3" r="0.45" fill="#d02040" opacity="0.62"/>
<circle cx="53.8" cy="120.6" r="0.45" fill="#e06080" opacity="0.36"/>
<circle cx="44.9" cy="121.8" r="0.45" fill="#e06080" opacity="0.72"/>
<circle cx="44.8" cy="119.9" r="0.45" fill="#800018" opacity="0.47"/>
<circle cx="41.4" cy="122.0" r="0.45" fill="#e06080" opacity="0.67"/>
<circle cx="45.0" cy="122.3" r="0.45" fill="#800018" opacity="0.37"/>
<circle cx="43.9" cy="117.5" r="0.45" fill="#800018" opacity="0.33"/>
<circle cx="38.5" cy="120.3" r="0.45" fill="#d02040" opacity="0.59"/>
<circle cx="44.9" cy="120.3" r="0.45" fill="#800018" opacity="0.69"/>
<circle cx="49.2" cy="121.9" r="0.45" fill="#d02040" opacity="0.38"/>
<circle cx="49.1" cy="121.3" r="0.45" fill="#e06080" opacity="0.36"/>
<circle cx="43.0" cy="117.3" r="0.45" fill="#e06080" opacity="0.49"/>
<circle cx="43.0" cy="120.7" r="0.45" fill="#e06080" opacity="0.49"/>
<circle cx="52.7" cy="121.1" r="0.45" fill="#e06080" opacity="0.60"/>
<circle cx="46.5" cy="120.5" r="0.45" fill="#d02040" opacity="0.45"/>
<circle cx="44.2" cy="120.3" r="0.45" fill="#d02040" opacity="0.48"/>
<rect x="39.0" y="125.3" width="9.5" height="9.200000000000003" fill="#f2b0c4" opacity="0.6" filter="url(#b8)"/>
<circle cx="45.6" cy="126.0" r="0.45" fill="#f090a8" opacity="0.51"/>
<circle cx="43.3" cy="132.3" r="0.45" fill="#d03050" opacity="0.54"/>
<circle cx="39.6" cy="129.4" r="0.45" fill="#e05070" opacity="0.42"/>
<circle cx="46.9" cy="126.3" r="0.45" fill="#c02040" opacity="0.55"/>
<circle cx="47.9" cy="134.2" r="0.45" fill="#c02040" opacity="0.51"/>
<circle cx="46.5" cy="127.2" r="0.45" fill="#e05070" opacity="0.51"/>
<circle cx="40.6" cy="132.8" r="0.45" fill="#f090a8" opacity="0.61"/>
<circle cx="39.6" cy="131.1" r="0.45" fill="#e05070" opacity="0.69"/>
<circle cx="42.8" cy="130.0" r="0.45" fill="#d03050" opacity="0.51"/>
<circle cx="47.2" cy="134.5" r="0.45" fill="#f090a8" opacity="0.88"/>
<circle cx="42.1" cy="134.4" r="0.45" fill="#e05070" opacity="0.72"/>
<circle cx="44.5" cy="129.3" r="0.45" fill="#d03050" opacity="0.50"/>
<circle cx="44.8" cy="126.3" r="0.45" fill="#c02040" opacity="0.54"/>
<circle cx="40.8" cy="132.1" r="0.45" fill="#e05070" opacity="0.62"/>
<circle cx="40.9" cy="131.8" r="0.45" fill="#c02040" opacity="0.79"/>
<circle cx="40.9" cy="132.3" r="0.45" fill="#f090a8" opacity="0.77"/>
<circle cx="48.0" cy="133.8" r="0.45" fill="#e05070" opacity="0.43"/>
<circle cx="41.0" cy="125.4" r="0.45" fill="#f090a8" opacity="0.68"/>
<circle cx="45.0" cy="130.5" r="0.45" fill="#f090a8" opacity="0.90"/>
<circle cx="41.9" cy="125.7" r="0.45" fill="#c02040" opacity="0.75"/>
<circle cx="43.0" cy="125.6" r="0.45" fill="#d03050" opacity="0.79"/>
<circle cx="42.3" cy="133.2" r="0.45" fill="#f090a8" opacity="0.79"/>
<circle cx="43.5" cy="134.4" r="0.45" fill="#f090a8" opacity="0.80"/>
<circle cx="43.5" cy="132.9" r="0.45" fill="#c02040" opacity="0.82"/>
<circle cx="44.0" cy="127.6" r="0.45" fill="#d03050" opacity="0.50"/>
<circle cx="41.4" cy="125.5" r="0.45" fill="#c02040" opacity="0.76"/>
<circle cx="48.0" cy="134.3" r="0.45" fill="#d03050" opacity="0.79"/>
<circle cx="45.9" cy="126.8" r="0.45" fill="#d03050" opacity="0.47"/>
<circle cx="39.1" cy="127.3" r="0.45" fill="#d03050" opacity="0.41"/>
<circle cx="46.7" cy="134.3" r="0.45" fill="#e05070" opacity="0.63"/>
<circle cx="39.4" cy="133.5" r="0.45" fill="#e05070" opacity="0.83"/>
<circle cx="42.2" cy="130.4" r="0.45" fill="#d03050" opacity="0.64"/>
<rect x="21.7" y="99.2" width="47.8" height="35.999999999999986" fill="none" stroke="#7a7a7a" stroke-width="0.8" />
<line x1="21.7" y1="135.2" x2="69.5" y2="135.2" stroke="#4a4a4a" stroke-width="0.8"/>
<text x="21.6" y="140.89999999999998" font-size="3.5" font-weight="bold" fill="#222" text-anchor="middle" stroke="#222" stroke-width="0.15">10</text>
<text x="23.4" y="138.89999999999998" font-size="2.5" font-weight="bold" fill="#222" text-anchor="start" >0</text>
<line x1="22.5" y1="134.2" x2="22.5" y2="136.0" stroke="#555" stroke-width="0.5"/>
<text x="32.75" y="140.89999999999998" font-size="3.5" font-weight="bold" fill="#222" text-anchor="middle" stroke="#222" stroke-width="0.15">10</text>
<text x="34.55" y="138.89999999999998" font-size="2.5" font-weight="bold" fill="#222" text-anchor="start" >1</text>
<line x1="33.65" y1="134.2" x2="33.65" y2="136.0" stroke="#555" stroke-width="0.5"/>
<text x="44.699999999999996" y="140.89999999999998" font-size="3.5" font-weight="bold" fill="#222" text-anchor="middle" stroke="#222" stroke-width="0.15">10</text>
<text x="46.49999999999999" y="138.89999999999998" font-size="2.5" font-weight="bold" fill="#222" text-anchor="start" >2</text>
<line x1="45.599999999999994" y1="134.2" x2="45.599999999999994" y2="136.0" stroke="#555" stroke-width="0.5"/>
<text x="56.65" y="140.89999999999998" font-size="3.5" font-weight="bold" fill="#222" text-anchor="middle" stroke="#222" stroke-width="0.15">10</text>
<text x="58.449999999999996" y="138.89999999999998" font-size="2.5" font-weight="bold" fill="#222" text-anchor="start" >3</text>
<line x1="57.55" y1="134.2" x2="57.55" y2="136.0" stroke="#555" stroke-width="0.5"/>
<text x="68.0" y="140.89999999999998" font-size="3.5" font-weight="bold" fill="#222" text-anchor="middle" stroke="#222" stroke-width="0.15">10</text>
<text x="69.80000000000001" y="138.89999999999998" font-size="2.5" font-weight="bold" fill="#222" text-anchor="start" >4</text>
<line x1="68.9" y1="134.2" x2="68.9" y2="136.0" stroke="#555" stroke-width="0.5"/>
<text transform="translate(19.2,134.1) rotate(-90)" x="0" y="0" font-size="3.4" font-weight="bold" fill="#222" text-anchor="middle" dominant-baseline="central">10</text>
<text transform="translate(17.1,132.0) rotate(-90)" x="0" y="0" font-size="2.4" font-weight="bold" fill="#333" text-anchor="middle" dominant-baseline="central">0</text>
<line x1="20.5" y1="133.7" x2="21.7" y2="133.7" stroke="#777" stroke-width="0.5"/>
<text transform="translate(19.2,126.6) rotate(-90)" x="0" y="0" font-size="3.4" font-weight="bold" fill="#222" text-anchor="middle" dominant-baseline="central">10</text>
<text transform="translate(17.1,124.49999999999999) rotate(-90)" x="0" y="0" font-size="2.4" font-weight="bold" fill="#333" text-anchor="middle" dominant-baseline="central">1</text>
<line x1="20.5" y1="126.19999999999999" x2="21.7" y2="126.19999999999999" stroke="#777" stroke-width="0.5"/>
<text transform="translate(19.2,117.6) rotate(-90)" x="0" y="0" font-size="3.4" font-weight="bold" fill="#222" text-anchor="middle" dominant-baseline="central">10</text>
<text transform="translate(17.1,115.49999999999999) rotate(-90)" x="0" y="0" font-size="2.4" font-weight="bold" fill="#333" text-anchor="middle" dominant-baseline="central">2</text>
<line x1="20.5" y1="117.19999999999999" x2="21.7" y2="117.19999999999999" stroke="#777" stroke-width="0.5"/>
<text transform="translate(19.2,108.60000000000001) rotate(-90)" x="0" y="0" font-size="3.4" font-weight="bold" fill="#222" text-anchor="middle" dominant-baseline="central">10</text>
<text transform="translate(17.1,106.5) rotate(-90)" x="0" y="0" font-size="2.4" font-weight="bold" fill="#333" text-anchor="middle" dominant-baseline="central">3</text>
<line x1="20.5" y1="108.2" x2="21.7" y2="108.2" stroke="#777" stroke-width="0.5"/>
<text transform="translate(19.2,101.10000000000001) rotate(-90)" x="0" y="0" font-size="3.4" font-weight="bold" fill="#222" text-anchor="middle" dominant-baseline="central">10</text>
<text transform="translate(17.1,99.0) rotate(-90)" x="0" y="0" font-size="2.4" font-weight="bold" fill="#333" text-anchor="middle" dominant-baseline="central">4</text>
<line x1="20.5" y1="100.7" x2="21.7" y2="100.7" stroke="#777" stroke-width="0.5"/>
<line x1="95.7" y1="99.2" x2="95.7" y2="135.4" stroke="#6a6a6a" stroke-width="0.9"/>
<line x1="80.0" y1="124.3" x2="123.6" y2="124.3" stroke="#6a6a6a" stroke-width="0.9"/>
<path d="M80.4,117.2 L80.4,116.7 L81.9,116.2 L83.5,116.2 L85.0,117.1 L86.5,116.4 L88.1,116.0 L89.6,116.7 L91.1,116.1 L92.6,116.2 L94.2,116.5 L95.7,116.7 L96.10000000000001,117.60000000000001 L96.10000000000001,135.2 L80.4,135.2 Z" fill="#122d64" filter="url(#b5)"/>
<circle cx="90.1" cy="130.0" r="0.5" fill="#2a4c8c" opacity="0.8"/>
<circle cx="92.1" cy="127.5" r="0.5" fill="#5a7cb4" opacity="0.8"/>
<circle cx="81.2" cy="125.8" r="0.5" fill="#2a4c8c" opacity="0.8"/>
<circle cx="90.4" cy="132.7" r="0.5" fill="#1c3e80" opacity="0.8"/>
<circle cx="91.4" cy="125.8" r="0.5" fill="#2a4c8c" opacity="0.8"/>
<circle cx="89.7" cy="119.5" r="0.5" fill="#2a4c8c" opacity="0.8"/>
<circle cx="89.6" cy="118.5" r="0.5" fill="#1c3e80" opacity="0.8"/>
<circle cx="92.6" cy="133.2" r="0.5" fill="#061a44" opacity="0.8"/>
<circle cx="86.4" cy="131.4" r="0.5" fill="#1c3e80" opacity="0.8"/>
<circle cx="90.1" cy="130.6" r="0.5" fill="#061a44" opacity="0.8"/>
<circle cx="84.1" cy="133.6" r="0.5" fill="#1c3e80" opacity="0.8"/>
<circle cx="92.7" cy="118.1" r="0.5" fill="#061a44" opacity="0.8"/>
<circle cx="86.6" cy="134.2" r="0.5" fill="#1c3e80" opacity="0.8"/>
<circle cx="92.3" cy="118.2" r="0.5" fill="#3a5c98" opacity="0.8"/>
<circle cx="90.2" cy="133.8" r="0.5" fill="#0a2250" opacity="0.8"/>
<circle cx="81.0" cy="125.7" r="0.5" fill="#2a4c8c" opacity="0.8"/>
<circle cx="92.0" cy="119.2" r="0.5" fill="#5a7cb4" opacity="0.8"/>
<circle cx="81.9" cy="119.9" r="0.5" fill="#3a5c98" opacity="0.8"/>
<circle cx="82.9" cy="126.5" r="0.5" fill="#061a44" opacity="0.8"/>
<circle cx="88.2" cy="134.4" r="0.5" fill="#2a4c8c" opacity="0.8"/>
<circle cx="94.4" cy="117.4" r="0.5" fill="#061a44" opacity="0.8"/>
<circle cx="88.9" cy="132.0" r="0.5" fill="#3a5c98" opacity="0.8"/>
<circle cx="89.0" cy="128.3" r="0.5" fill="#3a5c98" opacity="0.8"/>
<circle cx="81.6" cy="118.4" r="0.5" fill="#3a5c98" opacity="0.8"/>
<circle cx="89.8" cy="125.5" r="0.5" fill="#5a7cb4" opacity="0.8"/>
<circle cx="80.5" cy="130.7" r="0.5" fill="#061a44" opacity="0.8"/>
<circle cx="83.3" cy="126.4" r="0.5" fill="#2a4c8c" opacity="0.8"/>
<circle cx="83.6" cy="130.0" r="0.5" fill="#5a7cb4" opacity="0.8"/>
<circle cx="83.6" cy="125.0" r="0.5" fill="#061a44" opacity="0.8"/>
<circle cx="89.8" cy="118.9" r="0.5" fill="#3a5c98" opacity="0.8"/>
<circle cx="85.8" cy="119.1" r="0.5" fill="#5a7cb4" opacity="0.8"/>
<circle cx="84.1" cy="133.1" r="0.5" fill="#061a44" opacity="0.8"/>
<circle cx="81.8" cy="122.3" r="0.5" fill="#0a2250" opacity="0.8"/>
<circle cx="92.1" cy="120.0" r="0.5" fill="#3a5c98" opacity="0.8"/>
<circle cx="89.2" cy="123.4" r="0.5" fill="#1c3e80" opacity="0.8"/>
<circle cx="80.5" cy="118.7" r="0.5" fill="#061a44" opacity="0.8"/>
<circle cx="90.8" cy="131.1" r="0.5" fill="#1c3e80" opacity="0.8"/>
<circle cx="88.4" cy="125.5" r="0.5" fill="#2a4c8c" opacity="0.8"/>
<circle cx="94.5" cy="127.6" r="0.5" fill="#1c3e80" opacity="0.8"/>
<circle cx="94.4" cy="130.4" r="0.5" fill="#061a44" opacity="0.8"/>
<circle cx="94.4" cy="132.3" r="0.5" fill="#5a7cb4" opacity="0.8"/>
<circle cx="91.6" cy="129.3" r="0.5" fill="#1c3e80" opacity="0.8"/>
<circle cx="93.4" cy="125.1" r="0.5" fill="#061a44" opacity="0.8"/>
<circle cx="83.2" cy="134.2" r="0.5" fill="#2a4c8c" opacity="0.8"/>
<circle cx="84.3" cy="119.8" r="0.5" fill="#0a2250" opacity="0.8"/>
<circle cx="93.3" cy="117.9" r="0.5" fill="#2a4c8c" opacity="0.8"/>
<circle cx="81.8" cy="125.3" r="0.5" fill="#5a7cb4" opacity="0.8"/>
<circle cx="90.4" cy="125.8" r="0.5" fill="#3a5c98" opacity="0.8"/>
<circle cx="93.2" cy="135.1" r="0.5" fill="#0a2250" opacity="0.8"/>
<circle cx="84.6" cy="121.8" r="0.5" fill="#2a4c8c" opacity="0.8"/>
<circle cx="88.6" cy="123.5" r="0.5" fill="#3a5c98" opacity="0.8"/>
<circle cx="94.0" cy="133.8" r="0.5" fill="#0a2250" opacity="0.8"/>
<circle cx="80.4" cy="131.1" r="0.5" fill="#1c3e80" opacity="0.8"/>
<circle cx="94.0" cy="131.5" r="0.5" fill="#3a5c98" opacity="0.8"/>
<circle cx="82.9" cy="118.0" r="0.5" fill="#0a2250" opacity="0.8"/>
<circle cx="86.9" cy="123.4" r="0.5" fill="#061a44" opacity="0.8"/>
<circle cx="88.6" cy="134.6" r="0.5" fill="#1c3e80" opacity="0.8"/>
<circle cx="83.6" cy="118.4" r="0.5" fill="#5a7cb4" opacity="0.8"/>
<circle cx="88.6" cy="134.1" r="0.5" fill="#2a4c8c" opacity="0.8"/>
<circle cx="94.7" cy="126.6" r="0.5" fill="#5a7cb4" opacity="0.8"/>
<circle cx="81.8" cy="121.2" r="0.5" fill="#0a2250" opacity="0.8"/>
<circle cx="92.0" cy="133.2" r="0.5" fill="#5a7cb4" opacity="0.8"/>
<circle cx="84.4" cy="130.1" r="0.5" fill="#1c3e80" opacity="0.8"/>
<circle cx="89.7" cy="128.3" r="0.5" fill="#1c3e80" opacity="0.8"/>
<circle cx="91.0" cy="130.7" r="0.5" fill="#2a4c8c" opacity="0.8"/>
<circle cx="84.2" cy="122.0" r="0.5" fill="#061a44" opacity="0.8"/>
<circle cx="81.8" cy="132.8" r="0.5" fill="#5a7cb4" opacity="0.8"/>
<circle cx="84.4" cy="134.6" r="0.5" fill="#5a7cb4" opacity="0.8"/>
<circle cx="91.7" cy="119.9" r="0.5" fill="#061a44" opacity="0.8"/>
<circle cx="89.5" cy="129.8" r="0.5" fill="#0a2250" opacity="0.8"/>
<circle cx="81.6" cy="130.4" r="0.5" fill="#3a5c98" opacity="0.8"/>
<circle cx="80.6" cy="123.8" r="0.5" fill="#1c3e80" opacity="0.8"/>
<circle cx="88.9" cy="130.3" r="0.5" fill="#5a7cb4" opacity="0.8"/>
<circle cx="95.2" cy="129.6" r="0.5" fill="#0a2250" opacity="0.8"/>
<circle cx="94.5" cy="125.4" r="0.5" fill="#061a44" opacity="0.8"/>
<circle cx="84.3" cy="124.4" r="0.5" fill="#5a7cb4" opacity="0.8"/>
<circle cx="90.9" cy="125.3" r="0.5" fill="#5a7cb4" opacity="0.8"/>
<circle cx="93.8" cy="132.7" r="0.5" fill="#2a4c8c" opacity="0.8"/>
<circle cx="85.6" cy="132.2" r="0.5" fill="#061a44" opacity="0.8"/>
<circle cx="86.3" cy="131.4" r="0.5" fill="#061a44" opacity="0.8"/>
<circle cx="93.5" cy="131.7" r="0.5" fill="#5a7cb4" opacity="0.8"/>
<circle cx="85.5" cy="128.5" r="0.5" fill="#1c3e80" opacity="0.8"/>
<circle cx="81.5" cy="119.0" r="0.5" fill="#5a7cb4" opacity="0.8"/>
<circle cx="90.5" cy="123.0" r="0.5" fill="#0a2250" opacity="0.8"/>
<circle cx="83.2" cy="120.0" r="0.5" fill="#061a44" opacity="0.8"/>
<circle cx="93.2" cy="118.4" r="0.5" fill="#0a2250" opacity="0.8"/>
<circle cx="90.4" cy="127.5" r="0.5" fill="#1c3e80" opacity="0.8"/>
<circle cx="81.3" cy="122.7" r="0.5" fill="#0a2250" opacity="0.8"/>
<circle cx="93.4" cy="119.7" r="0.5" fill="#0a2250" opacity="0.8"/>
<circle cx="86.0" cy="130.3" r="0.5" fill="#1c3e80" opacity="0.8"/>
<circle cx="86.1" cy="130.5" r="0.5" fill="#0a2250" opacity="0.8"/>
<circle cx="86.0" cy="126.7" r="0.5" fill="#061a44" opacity="0.8"/>
<circle cx="93.7" cy="133.6" r="0.5" fill="#1c3e80" opacity="0.8"/>
<circle cx="84.8" cy="124.2" r="0.5" fill="#061a44" opacity="0.8"/>
<circle cx="83.8" cy="120.9" r="0.5" fill="#1c3e80" opacity="0.8"/>
<circle cx="92.1" cy="132.6" r="0.5" fill="#1c3e80" opacity="0.8"/>
<circle cx="90.2" cy="125.8" r="0.5" fill="#061a44" opacity="0.8"/>
<circle cx="81.2" cy="129.2" r="0.5" fill="#0a2250" opacity="0.8"/>
<circle cx="84.0" cy="117.9" r="0.5" fill="#2a4c8c" opacity="0.8"/>
<circle cx="87.9" cy="119.4" r="0.5" fill="#3a5c98" opacity="0.8"/>
<circle cx="91.3" cy="119.1" r="0.5" fill="#061a44" opacity="0.8"/>
<circle cx="87.8" cy="133.8" r="0.5" fill="#1c3e80" opacity="0.8"/>
<circle cx="86.9" cy="118.5" r="0.5" fill="#1c3e80" opacity="0.8"/>
<circle cx="81.4" cy="123.8" r="0.5" fill="#2a4c8c" opacity="0.8"/>
<circle cx="84.1" cy="123.4" r="0.5" fill="#061a44" opacity="0.8"/>
<circle cx="81.5" cy="121.4" r="0.5" fill="#5a7cb4" opacity="0.8"/>
<circle cx="83.7" cy="128.3" r="0.5" fill="#2a4c8c" opacity="0.8"/>
<circle cx="82.1" cy="134.2" r="0.5" fill="#3a5c98" opacity="0.8"/>
<circle cx="81.3" cy="126.7" r="0.5" fill="#3a5c98" opacity="0.8"/>
<circle cx="93.6" cy="121.2" r="0.5" fill="#061a44" opacity="0.8"/>
<circle cx="87.7" cy="125.7" r="0.5" fill="#2a4c8c" opacity="0.8"/>
<circle cx="92.4" cy="119.7" r="0.5" fill="#2a4c8c" opacity="0.8"/>
<circle cx="90.1" cy="119.1" r="0.5" fill="#0a2250" opacity="0.8"/>
<circle cx="90.5" cy="123.8" r="0.5" fill="#061a44" opacity="0.8"/>
<circle cx="91.2" cy="125.9" r="0.5" fill="#0a2250" opacity="0.8"/>
<circle cx="83.3" cy="115.2" r="0.45" fill="#2a4a88" opacity="0.7"/>
<circle cx="91.0" cy="116.1" r="0.45" fill="#2a4a88" opacity="0.7"/>
<circle cx="80.8" cy="116.0" r="0.45" fill="#2a4a88" opacity="0.7"/>
<circle cx="92.5" cy="116.1" r="0.45" fill="#2a4a88" opacity="0.7"/>
<circle cx="84.2" cy="116.0" r="0.45" fill="#2a4a88" opacity="0.7"/>
<circle cx="90.3" cy="116.3" r="0.45" fill="#2a4a88" opacity="0.7"/>
<circle cx="82.8" cy="116.6" r="0.45" fill="#2a4a88" opacity="0.7"/>
<circle cx="95.8" cy="116.5" r="0.45" fill="#2a4a88" opacity="0.7"/>
<circle cx="94.4" cy="115.8" r="0.45" fill="#2a4a88" opacity="0.7"/>
<circle cx="95.1" cy="115.5" r="0.45" fill="#2a4a88" opacity="0.7"/>
<circle cx="84.1" cy="116.2" r="0.45" fill="#2a4a88" opacity="0.7"/>
<circle cx="95.1" cy="115.3" r="0.45" fill="#2a4a88" opacity="0.7"/>
<circle cx="83.9" cy="115.3" r="0.45" fill="#2a4a88" opacity="0.7"/>
<circle cx="87.6" cy="115.4" r="0.45" fill="#2a4a88" opacity="0.7"/>
<circle cx="83.5" cy="116.5" r="0.45" fill="#2a4a88" opacity="0.7"/>
<circle cx="89.9" cy="116.8" r="0.45" fill="#2a4a88" opacity="0.7"/>
<circle cx="87.0" cy="116.4" r="0.45" fill="#2a4a88" opacity="0.7"/>
<circle cx="80.6" cy="116.8" r="0.45" fill="#2a4a88" opacity="0.7"/>
<path d="M81.4,125.89999999999999 L93.2,121.89999999999999 L94.2,123.3 L81.4,127.3 Z" fill="#7fa4d4" opacity="0.55" filter="url(#b8)"/>
<circle cx="84.5" cy="125.5" r="0.45" fill="#d4e4f6" opacity="0.85"/>
<circle cx="87.7" cy="125.2" r="0.45" fill="#d4e4f6" opacity="0.85"/>
<circle cx="87.5" cy="125.4" r="0.45" fill="#d4e4f6" opacity="0.85"/>
<circle cx="88.9" cy="123.3" r="0.45" fill="#d4e4f6" opacity="0.85"/>
<circle cx="91.3" cy="122.4" r="0.45" fill="#d4e4f6" opacity="0.85"/>
<circle cx="93.2" cy="122.2" r="0.45" fill="#d4e4f6" opacity="0.85"/>
<circle cx="84.5" cy="126.5" r="0.45" fill="#d4e4f6" opacity="0.85"/>
<circle cx="85.5" cy="125.0" r="0.45" fill="#d4e4f6" opacity="0.85"/>
<circle cx="85.8" cy="125.4" r="0.45" fill="#d4e4f6" opacity="0.85"/>
<circle cx="82.2" cy="126.2" r="0.45" fill="#d4e4f6" opacity="0.85"/>
<circle cx="83.7" cy="126.5" r="0.45" fill="#d4e4f6" opacity="0.85"/>
<circle cx="81.9" cy="126.7" r="0.45" fill="#d4e4f6" opacity="0.85"/>
<path d="M88.7,123.8 L95.2,121.3 L95.2,131.2 L92.2,129.3 Z" fill="#9ec0e6" opacity="0.45" filter="url(#b8)"/>
<path d="M96.0,122.8 L94.0,122.8 L93.7,124.3 L93.5,125.8 L93.2,127.3 L94.3,128.8 L94.1,130.3 L94.3,131.8 L92.8,133.3 L94.2,134.89999999999998 L96.0,134.89999999999998 Z" fill="#a8c8ea" opacity="0.6" filter="url(#b5)"/>
<path d="M95.7,116.6 L96.5,117.1 L101.5,118.44999999999999 L96.5,120.6 L95.7,120.8 Z" fill="#f0a8bc" opacity="0.7" filter="url(#b8)"/>
<path d="M95.7,117.1 L97.0,117.3 L99.5,118.3 L98.5,119.0 L97.0,119.6 L95.7,119.8 Z" fill="url(#redgrad)" filter="url(#b5)"/>
<circle cx="96.6" cy="117.1" r="0.45" fill="#e06080" opacity="0.37"/>
<circle cx="97.7" cy="119.6" r="0.45" fill="#d02040" opacity="0.42"/>
<circle cx="96.8" cy="118.9" r="0.45" fill="#800018" opacity="0.70"/>
<circle cx="97.3" cy="118.9" r="0.45" fill="#d02040" opacity="0.73"/>
<circle cx="101.7" cy="117.7" r="0.45" fill="#e06080" opacity="0.50"/>
<circle cx="96.0" cy="120.3" r="0.45" fill="#d02040" opacity="0.78"/>
<circle cx="101.4" cy="116.9" r="0.45" fill="#d02040" opacity="0.74"/>
<rect x="96.2" y="126" width="0.7999999999999972" height="7" fill="#f2b0c4" opacity="0.6" filter="url(#b8)"/>
<circle cx="96.5" cy="129.7" r="0.45" fill="#f090a8" opacity="0.80"/>
<circle cx="96.7" cy="129.6" r="0.45" fill="#e05070" opacity="0.62"/>
<circle cx="96.6" cy="129.7" r="0.45" fill="#f090a8" opacity="0.85"/>
<rect x="80.0" y="99.2" width="43.599999999999994" height="36.2" fill="none" stroke="#7a7a7a" stroke-width="0.8" />
<line x1="80.0" y1="135.4" x2="123.6" y2="135.4" stroke="#4a4a4a" stroke-width="0.8"/>
<text x="79.89999999999999" y="141.1" font-size="3.5" font-weight="bold" fill="#222" text-anchor="middle" stroke="#222" stroke-width="0.15">10</text>
<text x="81.7" y="139.1" font-size="2.5" font-weight="bold" fill="#222" text-anchor="start" >0</text>
<line x1="80.8" y1="134.4" x2="80.8" y2="136.20000000000002" stroke="#555" stroke-width="0.5"/>
<text x="90.0" y="141.1" font-size="3.5" font-weight="bold" fill="#222" text-anchor="middle" stroke="#222" stroke-width="0.15">10</text>
<text x="91.80000000000001" y="139.1" font-size="2.5" font-weight="bold" fill="#222" text-anchor="start" >1</text>
<line x1="90.9" y1="134.4" x2="90.9" y2="136.20000000000002" stroke="#555" stroke-width="0.5"/>
<text x="100.89999999999999" y="141.1" font-size="3.5" font-weight="bold" fill="#222" text-anchor="middle" stroke="#222" stroke-width="0.15">10</text>
<text x="102.7" y="139.1" font-size="2.5" font-weight="bold" fill="#222" text-anchor="start" >2</text>
<line x1="101.8" y1="134.4" x2="101.8" y2="136.20000000000002" stroke="#555" stroke-width="0.5"/>
<text x="111.79999999999998" y="141.1" font-size="3.5" font-weight="bold" fill="#222" text-anchor="middle" stroke="#222" stroke-width="0.15">10</text>
<text x="113.6" y="139.1" font-size="2.5" font-weight="bold" fill="#222" text-anchor="start" >3</text>
<line x1="112.69999999999999" y1="134.4" x2="112.69999999999999" y2="136.20000000000002" stroke="#555" stroke-width="0.5"/>
<text x="122.1" y="141.1" font-size="3.5" font-weight="bold" fill="#222" text-anchor="middle" stroke="#222" stroke-width="0.15">10</text>
<text x="123.9" y="139.1" font-size="2.5" font-weight="bold" fill="#222" text-anchor="start" >4</text>
<line x1="123.0" y1="134.4" x2="123.0" y2="136.20000000000002" stroke="#555" stroke-width="0.5"/>
<text transform="translate(77.5,134.3) rotate(-90)" x="0" y="0" font-size="3.4" font-weight="bold" fill="#222" text-anchor="middle" dominant-baseline="central">10</text>
<text transform="translate(75.4,132.20000000000002) rotate(-90)" x="0" y="0" font-size="2.4" font-weight="bold" fill="#333" text-anchor="middle" dominant-baseline="central">0</text>
<line x1="78.8" y1="133.9" x2="80.0" y2="133.9" stroke="#777" stroke-width="0.5"/>
<text transform="translate(77.5,126.75000000000001) rotate(-90)" x="0" y="0" font-size="3.4" font-weight="bold" fill="#222" text-anchor="middle" dominant-baseline="central">10</text>
<text transform="translate(75.4,124.65) rotate(-90)" x="0" y="0" font-size="2.4" font-weight="bold" fill="#333" text-anchor="middle" dominant-baseline="central">1</text>
<line x1="78.8" y1="126.35000000000001" x2="80.0" y2="126.35000000000001" stroke="#777" stroke-width="0.5"/>
<text transform="translate(77.5,117.70000000000002) rotate(-90)" x="0" y="0" font-size="3.4" font-weight="bold" fill="#222" text-anchor="middle" dominant-baseline="central">10</text>
<text transform="translate(75.4,115.60000000000001) rotate(-90)" x="0" y="0" font-size="2.4" font-weight="bold" fill="#333" text-anchor="middle" dominant-baseline="central">2</text>
<line x1="78.8" y1="117.30000000000001" x2="80.0" y2="117.30000000000001" stroke="#777" stroke-width="0.5"/>
<text transform="translate(77.5,108.65) rotate(-90)" x="0" y="0" font-size="3.4" font-weight="bold" fill="#222" text-anchor="middle" dominant-baseline="central">10</text>
<text transform="translate(75.4,106.55) rotate(-90)" x="0" y="0" font-size="2.4" font-weight="bold" fill="#333" text-anchor="middle" dominant-baseline="central">3</text>
<line x1="78.8" y1="108.25" x2="80.0" y2="108.25" stroke="#777" stroke-width="0.5"/>
<text transform="translate(77.5,101.10000000000001) rotate(-90)" x="0" y="0" font-size="3.4" font-weight="bold" fill="#222" text-anchor="middle" dominant-baseline="central">10</text>
<text transform="translate(75.4,99.0) rotate(-90)" x="0" y="0" font-size="2.4" font-weight="bold" fill="#333" text-anchor="middle" dominant-baseline="central">4</text>
<line x1="78.8" y1="100.7" x2="80.0" y2="100.7" stroke="#777" stroke-width="0.5"/>
<line x1="177.6" y1="99.2" x2="177.6" y2="136.0" stroke="#6a6a6a" stroke-width="0.9"/>
<line x1="162.0" y1="124.9" x2="206.5" y2="124.9" stroke="#6a6a6a" stroke-width="0.9"/>
<path d="M162.4,118.0 L162.4,118.0 L163.9,117.0 L165.4,116.8 L167.0,117.9 L168.5,117.4 L170.0,116.9 L171.5,117.6 L173.0,117.0 L174.6,117.0 L176.1,117.2 L177.6,117.4 L178.0,118.4 L178.0,135.8 L162.4,135.8 Z" fill="#122d64" filter="url(#b5)"/>
<circle cx="172.7" cy="119.5" r="0.5" fill="#5a7cb4" opacity="0.8"/>
<circle cx="163.3" cy="130.2" r="0.5" fill="#1c3e80" opacity="0.8"/>
<circle cx="172.6" cy="132.3" r="0.5" fill="#061a44" opacity="0.8"/>
<circle cx="169.2" cy="124.2" r="0.5" fill="#5a7cb4" opacity="0.8"/>
<circle cx="176.9" cy="133.9" r="0.5" fill="#2a4c8c" opacity="0.8"/>
<circle cx="177.0" cy="132.0" r="0.5" fill="#1c3e80" opacity="0.8"/>
<circle cx="177.3" cy="119.8" r="0.5" fill="#1c3e80" opacity="0.8"/>
<circle cx="170.6" cy="125.3" r="0.5" fill="#1c3e80" opacity="0.8"/>
<circle cx="176.1" cy="122.3" r="0.5" fill="#5a7cb4" opacity="0.8"/>
<circle cx="173.2" cy="124.9" r="0.5" fill="#2a4c8c" opacity="0.8"/>
<circle cx="174.1" cy="120.4" r="0.5" fill="#1c3e80" opacity="0.8"/>
<circle cx="172.1" cy="133.7" r="0.5" fill="#061a44" opacity="0.8"/>
<circle cx="162.9" cy="120.6" r="0.5" fill="#2a4c8c" opacity="0.8"/>
<circle cx="171.8" cy="129.6" r="0.5" fill="#2a4c8c" opacity="0.8"/>
<circle cx="171.3" cy="134.8" r="0.5" fill="#3a5c98" opacity="0.8"/>
<circle cx="170.7" cy="124.3" r="0.5" fill="#2a4c8c" opacity="0.8"/>
<circle cx="167.2" cy="132.5" r="0.5" fill="#5a7cb4" opacity="0.8"/>
<circle cx="162.7" cy="130.1" r="0.5" fill="#1c3e80" opacity="0.8"/>
<circle cx="168.4" cy="120.3" r="0.5" fill="#5a7cb4" opacity="0.8"/>
<circle cx="174.1" cy="132.9" r="0.5" fill="#5a7cb4" opacity="0.8"/>
<circle cx="165.5" cy="122.6" r="0.5" fill="#3a5c98" opacity="0.8"/>
<circle cx="177.1" cy="121.7" r="0.5" fill="#0a2250" opacity="0.8"/>
<circle cx="172.3" cy="121.1" r="0.5" fill="#061a44" opacity="0.8"/>
<circle cx="171.5" cy="133.2" r="0.5" fill="#3a5c98" opacity="0.8"/>
<circle cx="163.1" cy="134.0" r="0.5" fill="#3a5c98" opacity="0.8"/>
<circle cx="170.5" cy="131.0" r="0.5" fill="#0a2250" opacity="0.8"/>
<circle cx="162.8" cy="132.3" r="0.5" fill="#1c3e80" opacity="0.8"/>
<circle cx="163.7" cy="122.6" r="0.5" fill="#1c3e80" opacity="0.8"/>
<circle cx="165.9" cy="122.9" r="0.5" fill="#5a7cb4" opacity="0.8"/>
<circle cx="174.3" cy="122.4" r="0.5" fill="#061a44" opacity="0.8"/>
<circle cx="164.1" cy="134.6" r="0.5" fill="#1c3e80" opacity="0.8"/>
<circle cx="164.7" cy="124.1" r="0.5" fill="#3a5c98" opacity="0.8"/>
<circle cx="167.7" cy="123.3" r="0.5" fill="#5a7cb4" opacity="0.8"/>
<circle cx="169.7" cy="122.7" r="0.5" fill="#061a44" opacity="0.8"/>
<circle cx="176.5" cy="122.8" r="0.5" fill="#0a2250" opacity="0.8"/>
<circle cx="163.8" cy="129.2" r="0.5" fill="#5a7cb4" opacity="0.8"/>
<circle cx="177.2" cy="120.5" r="0.5" fill="#5a7cb4" opacity="0.8"/>
<circle cx="167.4" cy="127.0" r="0.5" fill="#1c3e80" opacity="0.8"/>
<circle cx="165.3" cy="134.5" r="0.5" fill="#3a5c98" opacity="0.8"/>
<circle cx="174.6" cy="131.4" r="0.5" fill="#5a7cb4" opacity="0.8"/>
<circle cx="168.8" cy="123.4" r="0.5" fill="#061a44" opacity="0.8"/>
<circle cx="165.9" cy="132.2" r="0.5" fill="#2a4c8c" opacity="0.8"/>
<circle cx="163.8" cy="128.5" r="0.5" fill="#1c3e80" opacity="0.8"/>
<circle cx="174.5" cy="126.2" r="0.5" fill="#2a4c8c" opacity="0.8"/>
<circle cx="174.4" cy="122.3" r="0.5" fill="#061a44" opacity="0.8"/>
<circle cx="174.9" cy="126.5" r="0.5" fill="#2a4c8c" opacity="0.8"/>
<circle cx="164.5" cy="121.6" r="0.5" fill="#3a5c98" opacity="0.8"/>
<circle cx="165.7" cy="133.0" r="0.5" fill="#2a4c8c" opacity="0.8"/>
<circle cx="166.1" cy="122.8" r="0.5" fill="#2a4c8c" opacity="0.8"/>
<circle cx="170.3" cy="124.0" r="0.5" fill="#061a44" opacity="0.8"/>
<circle cx="162.9" cy="130.9" r="0.5" fill="#1c3e80" opacity="0.8"/>
<circle cx="170.2" cy="121.9" r="0.5" fill="#5a7cb4" opacity="0.8"/>
<circle cx="172.9" cy="129.0" r="0.5" fill="#1c3e80" opacity="0.8"/>
<circle cx="165.5" cy="123.7" r="0.5" fill="#5a7cb4" opacity="0.8"/>
<circle cx="176.1" cy="120.5" r="0.5" fill="#061a44" opacity="0.8"/>
<circle cx="165.8" cy="131.8" r="0.5" fill="#5a7cb4" opacity="0.8"/>
<circle cx="173.3" cy="135.1" r="0.5" fill="#0a2250" opacity="0.8"/>
<circle cx="168.4" cy="127.4" r="0.5" fill="#0a2250" opacity="0.8"/>
<circle cx="163.2" cy="128.9" r="0.5" fill="#061a44" opacity="0.8"/>
<circle cx="166.9" cy="123.9" r="0.5" fill="#1c3e80" opacity="0.8"/>
<circle cx="164.7" cy="134.6" r="0.5" fill="#1c3e80" opacity="0.8"/>
<circle cx="169.4" cy="121.7" r="0.5" fill="#061a44" opacity="0.8"/>
<circle cx="174.3" cy="130.8" r="0.5" fill="#0a2250" opacity="0.8"/>
<circle cx="172.8" cy="126.6" r="0.5" fill="#0a2250" opacity="0.8"/>
<circle cx="174.2" cy="120.1" r="0.5" fill="#061a44" opacity="0.8"/>
<circle cx="171.9" cy="125.9" r="0.5" fill="#061a44" opacity="0.8"/>
<circle cx="166.2" cy="130.0" r="0.5" fill="#1c3e80" opacity="0.8"/>
<circle cx="169.2" cy="133.2" r="0.5" fill="#5a7cb4" opacity="0.8"/>
<circle cx="168.8" cy="130.6" r="0.5" fill="#3a5c98" opacity="0.8"/>
<circle cx="169.2" cy="134.5" r="0.5" fill="#0a2250" opacity="0.8"/>
<circle cx="171.8" cy="120.0" r="0.5" fill="#2a4c8c" opacity="0.8"/>
<circle cx="163.7" cy="134.4" r="0.5" fill="#1c3e80" opacity="0.8"/>
<circle cx="163.0" cy="135.5" r="0.5" fill="#3a5c98" opacity="0.8"/>
<circle cx="164.4" cy="126.4" r="0.5" fill="#3a5c98" opacity="0.8"/>
<circle cx="162.9" cy="129.8" r="0.5" fill="#5a7cb4" opacity="0.8"/>
<circle cx="174.1" cy="125.9" r="0.5" fill="#061a44" opacity="0.8"/>
<circle cx="164.6" cy="130.5" r="0.5" fill="#5a7cb4" opacity="0.8"/>
<circle cx="177.0" cy="119.1" r="0.5" fill="#0a2250" opacity="0.8"/>
<circle cx="176.2" cy="130.0" r="0.5" fill="#3a5c98" opacity="0.8"/>
<circle cx="164.0" cy="119.4" r="0.5" fill="#1c3e80" opacity="0.8"/>
<circle cx="174.8" cy="128.8" r="0.5" fill="#2a4c8c" opacity="0.8"/>
<circle cx="165.0" cy="121.3" r="0.5" fill="#2a4c8c" opacity="0.8"/>
<circle cx="173.2" cy="124.6" r="0.5" fill="#1c3e80" opacity="0.8"/>
<circle cx="169.4" cy="127.9" r="0.5" fill="#061a44" opacity="0.8"/>
<circle cx="166.3" cy="131.2" r="0.5" fill="#5a7cb4" opacity="0.8"/>
<circle cx="176.1" cy="126.5" r="0.5" fill="#1c3e80" opacity="0.8"/>
<circle cx="171.6" cy="123.3" r="0.5" fill="#2a4c8c" opacity="0.8"/>
<circle cx="168.4" cy="121.8" r="0.5" fill="#1c3e80" opacity="0.8"/>
<circle cx="173.8" cy="134.3" r="0.5" fill="#2a4c8c" opacity="0.8"/>
<circle cx="164.0" cy="132.5" r="0.5" fill="#0a2250" opacity="0.8"/>
<circle cx="174.6" cy="118.7" r="0.5" fill="#3a5c98" opacity="0.8"/>
<circle cx="169.5" cy="135.6" r="0.5" fill="#1c3e80" opacity="0.8"/>
<circle cx="177.2" cy="129.0" r="0.5" fill="#0a2250" opacity="0.8"/>
<circle cx="165.0" cy="131.3" r="0.5" fill="#0a2250" opacity="0.8"/>
<circle cx="172.8" cy="129.8" r="0.5" fill="#061a44" opacity="0.8"/>
<circle cx="174.9" cy="133.4" r="0.5" fill="#3a5c98" opacity="0.8"/>
<circle cx="167.6" cy="132.1" r="0.5" fill="#0a2250" opacity="0.8"/>
<circle cx="171.6" cy="134.0" r="0.5" fill="#0a2250" opacity="0.8"/>
<circle cx="165.9" cy="123.8" r="0.5" fill="#0a2250" opacity="0.8"/>
<circle cx="176.8" cy="123.5" r="0.5" fill="#3a5c98" opacity="0.8"/>
<circle cx="167.8" cy="124.9" r="0.5" fill="#061a44" opacity="0.8"/>
<circle cx="176.7" cy="118.4" r="0.5" fill="#5a7cb4" opacity="0.8"/>
<circle cx="168.6" cy="129.4" r="0.5" fill="#3a5c98" opacity="0.8"/>
<circle cx="173.9" cy="122.5" r="0.5" fill="#5a7cb4" opacity="0.8"/>
<circle cx="174.6" cy="135.6" r="0.5" fill="#5a7cb4" opacity="0.8"/>
<circle cx="165.0" cy="120.8" r="0.5" fill="#0a2250" opacity="0.8"/>
<circle cx="166.2" cy="129.7" r="0.5" fill="#2a4c8c" opacity="0.8"/>
<circle cx="169.0" cy="123.6" r="0.5" fill="#1c3e80" opacity="0.8"/>
<circle cx="170.6" cy="124.1" r="0.5" fill="#061a44" opacity="0.8"/>
<circle cx="167.6" cy="133.1" r="0.5" fill="#0a2250" opacity="0.8"/>
<circle cx="175.8" cy="120.6" r="0.5" fill="#5a7cb4" opacity="0.8"/>
<circle cx="175.7" cy="127.7" r="0.5" fill="#061a44" opacity="0.8"/>
<circle cx="174.5" cy="133.0" r="0.5" fill="#2a4c8c" opacity="0.8"/>
<circle cx="177.7" cy="116.8" r="0.45" fill="#2a4a88" opacity="0.7"/>
<circle cx="169.9" cy="117.3" r="0.45" fill="#2a4a88" opacity="0.7"/>
<circle cx="176.0" cy="117.2" r="0.45" fill="#2a4a88" opacity="0.7"/>
<circle cx="168.2" cy="116.1" r="0.45" fill="#2a4a88" opacity="0.7"/>
<circle cx="164.3" cy="117.5" r="0.45" fill="#2a4a88" opacity="0.7"/>
<circle cx="177.0" cy="116.0" r="0.45" fill="#2a4a88" opacity="0.7"/>
<circle cx="168.4" cy="117.0" r="0.45" fill="#2a4a88" opacity="0.7"/>
<circle cx="170.5" cy="116.1" r="0.45" fill="#2a4a88" opacity="0.7"/>
<circle cx="176.3" cy="117.1" r="0.45" fill="#2a4a88" opacity="0.7"/>
<circle cx="167.4" cy="116.8" r="0.45" fill="#2a4a88" opacity="0.7"/>
<circle cx="168.5" cy="117.1" r="0.45" fill="#2a4a88" opacity="0.7"/>
<circle cx="176.8" cy="117.0" r="0.45" fill="#2a4a88" opacity="0.7"/>
<circle cx="167.6" cy="116.6" r="0.45" fill="#2a4a88" opacity="0.7"/>
<circle cx="176.0" cy="117.3" r="0.45" fill="#2a4a88" opacity="0.7"/>
<circle cx="168.1" cy="117.6" r="0.45" fill="#2a4a88" opacity="0.7"/>
<circle cx="172.1" cy="117.7" r="0.45" fill="#2a4a88" opacity="0.7"/>
<circle cx="176.9" cy="116.1" r="0.45" fill="#2a4a88" opacity="0.7"/>
<circle cx="169.6" cy="116.0" r="0.45" fill="#2a4a88" opacity="0.7"/>
<path d="M163.4,126.5 L175.1,122.5 L176.1,123.9 L163.4,127.9 Z" fill="#7fa4d4" opacity="0.55" filter="url(#b8)"/>
<circle cx="174.6" cy="122.5" r="0.45" fill="#d4e4f6" opacity="0.85"/>
<circle cx="166.2" cy="126.3" r="0.45" fill="#d4e4f6" opacity="0.85"/>
<circle cx="174.3" cy="123.5" r="0.45" fill="#d4e4f6" opacity="0.85"/>
<circle cx="173.6" cy="123.8" r="0.45" fill="#d4e4f6" opacity="0.85"/>
<circle cx="170.3" cy="124.6" r="0.45" fill="#d4e4f6" opacity="0.85"/>
<circle cx="170.3" cy="123.8" r="0.45" fill="#d4e4f6" opacity="0.85"/>
<circle cx="165.4" cy="127.5" r="0.45" fill="#d4e4f6" opacity="0.85"/>
<circle cx="166.0" cy="125.9" r="0.45" fill="#d4e4f6" opacity="0.85"/>
<circle cx="169.7" cy="125.4" r="0.45" fill="#d4e4f6" opacity="0.85"/>
<circle cx="165.0" cy="127.3" r="0.45" fill="#d4e4f6" opacity="0.85"/>
<circle cx="170.7" cy="123.7" r="0.45" fill="#d4e4f6" opacity="0.85"/>
<circle cx="168.0" cy="126.4" r="0.45" fill="#d4e4f6" opacity="0.85"/>
<path d="M170.6,124.4 L177.1,121.9 L177.1,131.8 L174.1,129.9 Z" fill="#9ec0e6" opacity="0.45" filter="url(#b8)"/>
<path d="M177.9,123.4 L175.1,123.4 L176.1,124.9 L175.3,126.4 L176.3,127.9 L175.6,129.4 L175.8,130.9 L174.6,132.4 L175.5,133.9 L176.1,135.5 L177.9,135.5 Z" fill="#a8c8ea" opacity="0.6" filter="url(#b5)"/>
<path d="M177.6,116.9 L189.5,117.4 L194.5,120.35 L189.5,124.1 L177.6,124.3 Z" fill="#f0a8bc" opacity="0.7" filter="url(#b8)"/>
<path d="M177.6,117.4 L190.0,117.60000000000001 L192.5,118.60000000000001 L191.5,122.5 L190.0,123.1 L177.6,123.3 Z" fill="url(#redgrad)" filter="url(#b5)"/>
<circle cx="194.5" cy="120.4" r="0.45" fill="#e06080" opacity="0.31"/>
<circle cx="192.8" cy="121.3" r="0.45" fill="#800018" opacity="0.80"/>
<circle cx="187.4" cy="122.6" r="0.45" fill="#d02040" opacity="0.31"/>
<circle cx="188.9" cy="123.2" r="0.45" fill="#d02040" opacity="0.73"/>
<circle cx="183.9" cy="123.6" r="0.45" fill="#d02040" opacity="0.55"/>
<circle cx="193.3" cy="123.0" r="0.45" fill="#e06080" opacity="0.75"/>
<circle cx="194.2" cy="120.6" r="0.45" fill="#d02040" opacity="0.58"/>
<circle cx="180.1" cy="121.4" r="0.45" fill="#d02040" opacity="0.51"/>
<circle cx="188.1" cy="118.8" r="0.45" fill="#800018" opacity="0.42"/>
<circle cx="181.4" cy="121.4" r="0.45" fill="#d02040" opacity="0.35"/>
<circle cx="177.7" cy="119.3" r="0.45" fill="#e06080" opacity="0.38"/>
<circle cx="191.2" cy="120.8" r="0.45" fill="#d02040" opacity="0.56"/>
<circle cx="180.7" cy="121.2" r="0.45" fill="#d02040" opacity="0.79"/>
<circle cx="190.2" cy="117.7" r="0.45" fill="#800018" opacity="0.66"/>
<circle cx="190.0" cy="118.9" r="0.45" fill="#800018" opacity="0.76"/>
<circle cx="178.5" cy="123.7" r="0.45" fill="#800018" opacity="0.73"/>
<circle cx="192.7" cy="123.4" r="0.45" fill="#e06080" opacity="0.64"/>
<circle cx="180.1" cy="120.2" r="0.45" fill="#e06080" opacity="0.41"/>
<circle cx="187.0" cy="119.8" r="0.45" fill="#e06080" opacity="0.42"/>
<circle cx="181.1" cy="118.1" r="0.45" fill="#800018" opacity="0.48"/>
<circle cx="185.2" cy="119.1" r="0.45" fill="#e06080" opacity="0.41"/>
<circle cx="179.1" cy="118.3" r="0.45" fill="#800018" opacity="0.36"/>
<circle cx="182.8" cy="119.9" r="0.45" fill="#800018" opacity="0.68"/>
<circle cx="187.9" cy="120.3" r="0.45" fill="#800018" opacity="0.54"/>
<circle cx="181.0" cy="121.2" r="0.45" fill="#d02040" opacity="0.55"/>
<circle cx="181.7" cy="119.4" r="0.45" fill="#800018" opacity="0.78"/>
<circle cx="184.6" cy="119.4" r="0.45" fill="#800018" opacity="0.47"/>
<circle cx="189.9" cy="122.9" r="0.45" fill="#e06080" opacity="0.38"/>
<circle cx="192.6" cy="121.0" r="0.45" fill="#d02040" opacity="0.32"/>
<rect x="178.1" y="125.9" width="11.900000000000006" height="9.099999999999994" fill="#f2b0c4" opacity="0.6" filter="url(#b8)"/>
<circle cx="187.4" cy="130.2" r="0.45" fill="#d03050" opacity="0.88"/>
<circle cx="185.5" cy="127.3" r="0.45" fill="#e05070" opacity="0.87"/>
<circle cx="179.8" cy="129.2" r="0.45" fill="#d03050" opacity="0.80"/>
<circle cx="185.1" cy="132.1" r="0.45" fill="#f090a8" opacity="0.80"/>
<circle cx="180.0" cy="130.9" r="0.45" fill="#c02040" opacity="0.54"/>
<circle cx="179.7" cy="134.1" r="0.45" fill="#e05070" opacity="0.71"/>
<circle cx="187.7" cy="129.9" r="0.45" fill="#f090a8" opacity="0.58"/>
<circle cx="188.8" cy="129.1" r="0.45" fill="#f090a8" opacity="0.72"/>
<circle cx="183.8" cy="128.9" r="0.45" fill="#d03050" opacity="0.70"/>
<circle cx="184.8" cy="133.7" r="0.45" fill="#e05070" opacity="0.59"/>
<circle cx="182.7" cy="129.2" r="0.45" fill="#e05070" opacity="0.54"/>
<circle cx="182.1" cy="133.4" r="0.45" fill="#c02040" opacity="0.87"/>
<circle cx="182.6" cy="126.6" r="0.45" fill="#c02040" opacity="0.43"/>
<circle cx="187.7" cy="127.2" r="0.45" fill="#c02040" opacity="0.51"/>
<circle cx="183.3" cy="127.0" r="0.45" fill="#e05070" opacity="0.87"/>
<circle cx="184.7" cy="134.3" r="0.45" fill="#e05070" opacity="0.79"/>
<circle cx="179.9" cy="133.5" r="0.45" fill="#e05070" opacity="0.77"/>
<circle cx="188.3" cy="129.4" r="0.45" fill="#e05070" opacity="0.71"/>
<circle cx="186.5" cy="127.5" r="0.45" fill="#c02040" opacity="0.89"/>
<circle cx="178.6" cy="126.4" r="0.45" fill="#e05070" opacity="0.42"/>
<circle cx="182.0" cy="132.2" r="0.45" fill="#c02040" opacity="0.46"/>
<circle cx="180.0" cy="127.5" r="0.45" fill="#f090a8" opacity="0.74"/>
<circle cx="189.6" cy="129.2" r="0.45" fill="#d03050" opacity="0.56"/>
<circle cx="183.0" cy="130.0" r="0.45" fill="#d03050" opacity="0.89"/>
<circle cx="189.9" cy="132.3" r="0.45" fill="#c02040" opacity="0.48"/>
<circle cx="188.7" cy="133.1" r="0.45" fill="#e05070" opacity="0.62"/>
<circle cx="185.5" cy="134.1" r="0.45" fill="#d03050" opacity="0.67"/>
<circle cx="188.6" cy="126.0" r="0.45" fill="#d03050" opacity="0.84"/>
<circle cx="185.3" cy="129.0" r="0.45" fill="#d03050" opacity="0.66"/>
<circle cx="179.9" cy="126.3" r="0.45" fill="#c02040" opacity="0.65"/>
<circle cx="186.3" cy="127.3" r="0.45" fill="#e05070" opacity="0.65"/>
<circle cx="189.1" cy="132.3" r="0.45" fill="#e05070" opacity="0.82"/>
<circle cx="182.4" cy="132.3" r="0.45" fill="#c02040" opacity="0.68"/>
<circle cx="186.8" cy="129.6" r="0.45" fill="#d03050" opacity="0.88"/>
<circle cx="189.2" cy="131.5" r="0.45" fill="#f090a8" opacity="0.85"/>
<circle cx="180.4" cy="134.9" r="0.45" fill="#c02040" opacity="0.80"/>
<circle cx="187.5" cy="133.4" r="0.45" fill="#f090a8" opacity="0.56"/>
<circle cx="187.1" cy="128.3" r="0.45" fill="#f090a8" opacity="0.48"/>
<circle cx="188.3" cy="130.3" r="0.45" fill="#f090a8" opacity="0.83"/>
<rect x="162.0" y="99.2" width="44.5" height="36.8" fill="none" stroke="#7a7a7a" stroke-width="0.8" />
<line x1="162.0" y1="136.0" x2="206.5" y2="136.0" stroke="#4a4a4a" stroke-width="0.8"/>
<text x="161.9" y="141.7" font-size="3.5" font-weight="bold" fill="#222" text-anchor="middle" stroke="#222" stroke-width="0.15">10</text>
<text x="163.70000000000002" y="139.7" font-size="2.5" font-weight="bold" fill="#222" text-anchor="start" >0</text>
<line x1="162.8" y1="135.0" x2="162.8" y2="136.8" stroke="#555" stroke-width="0.5"/>
<text x="172.225" y="141.7" font-size="3.5" font-weight="bold" fill="#222" text-anchor="middle" stroke="#222" stroke-width="0.15">10</text>
<text x="174.025" y="139.7" font-size="2.5" font-weight="bold" fill="#222" text-anchor="start" >1</text>
<line x1="173.125" y1="135.0" x2="173.125" y2="136.8" stroke="#555" stroke-width="0.5"/>
<text x="183.35" y="141.7" font-size="3.5" font-weight="bold" fill="#222" text-anchor="middle" stroke="#222" stroke-width="0.15">10</text>
<text x="185.15" y="139.7" font-size="2.5" font-weight="bold" fill="#222" text-anchor="start" >2</text>
<line x1="184.25" y1="135.0" x2="184.25" y2="136.8" stroke="#555" stroke-width="0.5"/>
<text x="194.475" y="141.7" font-size="3.5" font-weight="bold" fill="#222" text-anchor="middle" stroke="#222" stroke-width="0.15">10</text>
<text x="196.275" y="139.7" font-size="2.5" font-weight="bold" fill="#222" text-anchor="start" >3</text>
<line x1="195.375" y1="135.0" x2="195.375" y2="136.8" stroke="#555" stroke-width="0.5"/>
<text x="205.0" y="141.7" font-size="3.5" font-weight="bold" fill="#222" text-anchor="middle" stroke="#222" stroke-width="0.15">10</text>
<text x="206.8" y="139.7" font-size="2.5" font-weight="bold" fill="#222" text-anchor="start" >4</text>
<line x1="205.9" y1="135.0" x2="205.9" y2="136.8" stroke="#555" stroke-width="0.5"/>
<text transform="translate(159.5,134.9) rotate(-90)" x="0" y="0" font-size="3.4" font-weight="bold" fill="#222" text-anchor="middle" dominant-baseline="central">10</text>
<text transform="translate(157.4,132.8) rotate(-90)" x="0" y="0" font-size="2.4" font-weight="bold" fill="#333" text-anchor="middle" dominant-baseline="central">0</text>
<line x1="160.8" y1="134.5" x2="162.0" y2="134.5" stroke="#777" stroke-width="0.5"/>
<text transform="translate(159.5,127.2) rotate(-90)" x="0" y="0" font-size="3.4" font-weight="bold" fill="#222" text-anchor="middle" dominant-baseline="central">10</text>
<text transform="translate(157.4,125.1) rotate(-90)" x="0" y="0" font-size="2.4" font-weight="bold" fill="#333" text-anchor="middle" dominant-baseline="central">1</text>
<line x1="160.8" y1="126.8" x2="162.0" y2="126.8" stroke="#777" stroke-width="0.5"/>
<text transform="translate(159.5,118.0) rotate(-90)" x="0" y="0" font-size="3.4" font-weight="bold" fill="#222" text-anchor="middle" dominant-baseline="central">10</text>
<text transform="translate(157.4,115.89999999999999) rotate(-90)" x="0" y="0" font-size="2.4" font-weight="bold" fill="#333" text-anchor="middle" dominant-baseline="central">2</text>
<line x1="160.8" y1="117.6" x2="162.0" y2="117.6" stroke="#777" stroke-width="0.5"/>
<text transform="translate(159.5,108.80000000000001) rotate(-90)" x="0" y="0" font-size="3.4" font-weight="bold" fill="#222" text-anchor="middle" dominant-baseline="central">10</text>
<text transform="translate(157.4,106.7) rotate(-90)" x="0" y="0" font-size="2.4" font-weight="bold" fill="#333" text-anchor="middle" dominant-baseline="central">3</text>
<line x1="160.8" y1="108.4" x2="162.0" y2="108.4" stroke="#777" stroke-width="0.5"/>
<text transform="translate(159.5,101.10000000000001) rotate(-90)" x="0" y="0" font-size="3.4" font-weight="bold" fill="#222" text-anchor="middle" dominant-baseline="central">10</text>
<text transform="translate(157.4,99.0) rotate(-90)" x="0" y="0" font-size="2.4" font-weight="bold" fill="#333" text-anchor="middle" dominant-baseline="central">4</text>
<line x1="160.8" y1="100.7" x2="162.0" y2="100.7" stroke="#777" stroke-width="0.5"/>
<line x1="233.2" y1="99.2" x2="233.2" y2="136.0" stroke="#6a6a6a" stroke-width="0.9"/>
<line x1="217.9" y1="125.2" x2="262.3" y2="125.2" stroke="#6a6a6a" stroke-width="0.9"/>
<path d="M218.3,118.0 L218.3,118.0 L219.8,117.3 L221.3,117.8 L222.8,116.8 L224.3,117.3 L225.8,116.8 L227.2,117.2 L228.7,117.1 L230.2,117.4 L231.7,117.6 L233.2,116.7 L233.6,118.4 L233.6,135.8 L218.3,135.8 Z" fill="#122d64" filter="url(#b5)"/>
<circle cx="227.1" cy="120.6" r="0.5" fill="#2a4c8c" opacity="0.8"/>
<circle cx="222.4" cy="120.2" r="0.5" fill="#2a4c8c" opacity="0.8"/>
<circle cx="224.9" cy="131.0" r="0.5" fill="#0a2250" opacity="0.8"/>
<circle cx="219.5" cy="126.1" r="0.5" fill="#0a2250" opacity="0.8"/>
<circle cx="219.8" cy="126.9" r="0.5" fill="#5a7cb4" opacity="0.8"/>
<circle cx="222.8" cy="119.3" r="0.5" fill="#0a2250" opacity="0.8"/>
<circle cx="222.4" cy="124.7" r="0.5" fill="#3a5c98" opacity="0.8"/>
<circle cx="232.4" cy="135.8" r="0.5" fill="#2a4c8c" opacity="0.8"/>
<circle cx="229.8" cy="130.4" r="0.5" fill="#5a7cb4" opacity="0.8"/>
<circle cx="229.6" cy="126.2" r="0.5" fill="#0a2250" opacity="0.8"/>
<circle cx="224.3" cy="134.9" r="0.5" fill="#2a4c8c" opacity="0.8"/>
<circle cx="232.6" cy="119.0" r="0.5" fill="#1c3e80" opacity="0.8"/>
<circle cx="230.4" cy="123.4" r="0.5" fill="#3a5c98" opacity="0.8"/>
<circle cx="233.0" cy="127.7" r="0.5" fill="#5a7cb4" opacity="0.8"/>
<circle cx="232.3" cy="124.4" r="0.5" fill="#2a4c8c" opacity="0.8"/>
<circle cx="231.1" cy="122.8" r="0.5" fill="#3a5c98" opacity="0.8"/>
<circle cx="218.8" cy="126.6" r="0.5" fill="#061a44" opacity="0.8"/>
<circle cx="219.5" cy="132.1" r="0.5" fill="#061a44" opacity="0.8"/>
<circle cx="221.5" cy="128.8" r="0.5" fill="#5a7cb4" opacity="0.8"/>
<circle cx="219.5" cy="123.3" r="0.5" fill="#3a5c98" opacity="0.8"/>
<circle cx="221.1" cy="120.6" r="0.5" fill="#061a44" opacity="0.8"/>
<circle cx="227.9" cy="133.0" r="0.5" fill="#0a2250" opacity="0.8"/>
<circle cx="223.3" cy="121.1" r="0.5" fill="#1c3e80" opacity="0.8"/>
<circle cx="225.4" cy="132.0" r="0.5" fill="#0a2250" opacity="0.8"/>
<circle cx="222.2" cy="119.3" r="0.5" fill="#1c3e80" opacity="0.8"/>
<circle cx="231.8" cy="129.0" r="0.5" fill="#061a44" opacity="0.8"/>
<circle cx="227.7" cy="127.6" r="0.5" fill="#2a4c8c" opacity="0.8"/>
<circle cx="221.5" cy="125.5" r="0.5" fill="#2a4c8c" opacity="0.8"/>
<circle cx="230.3" cy="130.2" r="0.5" fill="#5a7cb4" opacity="0.8"/>
<circle cx="224.0" cy="129.7" r="0.5" fill="#2a4c8c" opacity="0.8"/>
<circle cx="230.6" cy="135.1" r="0.5" fill="#0a2250" opacity="0.8"/>
<circle cx="220.7" cy="130.2" r="0.5" fill="#3a5c98" opacity="0.8"/>
<circle cx="223.0" cy="133.9" r="0.5" fill="#1c3e80" opacity="0.8"/>
<circle cx="231.7" cy="126.5" r="0.5" fill="#0a2250" opacity="0.8"/>
<circle cx="226.7" cy="119.9" r="0.5" fill="#2a4c8c" opacity="0.8"/>
<circle cx="229.7" cy="128.6" r="0.5" fill="#1c3e80" opacity="0.8"/>
<circle cx="223.4" cy="119.9" r="0.5" fill="#2a4c8c" opacity="0.8"/>
<circle cx="232.6" cy="135.5" r="0.5" fill="#1c3e80" opacity="0.8"/>
<circle cx="225.7" cy="123.2" r="0.5" fill="#0a2250" opacity="0.8"/>
<circle cx="224.0" cy="127.8" r="0.5" fill="#0a2250" opacity="0.8"/>
<circle cx="229.8" cy="123.8" r="0.5" fill="#2a4c8c" opacity="0.8"/>
<circle cx="220.1" cy="123.2" r="0.5" fill="#5a7cb4" opacity="0.8"/>
<circle cx="223.8" cy="131.9" r="0.5" fill="#5a7cb4" opacity="0.8"/>
<circle cx="228.7" cy="126.7" r="0.5" fill="#5a7cb4" opacity="0.8"/>
<circle cx="221.2" cy="135.1" r="0.5" fill="#5a7cb4" opacity="0.8"/>
<circle cx="228.3" cy="124.5" r="0.5" fill="#3a5c98" opacity="0.8"/>
<circle cx="221.1" cy="123.4" r="0.5" fill="#5a7cb4" opacity="0.8"/>
<circle cx="221.9" cy="135.3" r="0.5" fill="#061a44" opacity="0.8"/>
<circle cx="224.6" cy="121.9" r="0.5" fill="#061a44" opacity="0.8"/>
<circle cx="221.4" cy="127.1" r="0.5" fill="#061a44" opacity="0.8"/>
<circle cx="229.5" cy="122.4" r="0.5" fill="#061a44" opacity="0.8"/>
<circle cx="228.5" cy="134.5" r="0.5" fill="#1c3e80" opacity="0.8"/>
<circle cx="228.4" cy="130.8" r="0.5" fill="#061a44" opacity="0.8"/>
<circle cx="222.3" cy="135.4" r="0.5" fill="#061a44" opacity="0.8"/>
<circle cx="232.7" cy="123.7" r="0.5" fill="#3a5c98" opacity="0.8"/>
<circle cx="228.6" cy="127.3" r="0.5" fill="#0a2250" opacity="0.8"/>
<circle cx="231.7" cy="128.6" r="0.5" fill="#1c3e80" opacity="0.8"/>
<circle cx="218.5" cy="121.8" r="0.5" fill="#1c3e80" opacity="0.8"/>
<circle cx="231.8" cy="122.1" r="0.5" fill="#1c3e80" opacity="0.8"/>
<circle cx="232.2" cy="122.9" r="0.5" fill="#5a7cb4" opacity="0.8"/>
<circle cx="226.0" cy="123.9" r="0.5" fill="#2a4c8c" opacity="0.8"/>
<circle cx="224.3" cy="130.5" r="0.5" fill="#061a44" opacity="0.8"/>
<circle cx="227.2" cy="130.5" r="0.5" fill="#2a4c8c" opacity="0.8"/>
<circle cx="219.9" cy="131.3" r="0.5" fill="#0a2250" opacity="0.8"/>
<circle cx="226.0" cy="125.7" r="0.5" fill="#5a7cb4" opacity="0.8"/>
<circle cx="218.6" cy="118.7" r="0.5" fill="#061a44" opacity="0.8"/>
<circle cx="233.1" cy="129.2" r="0.5" fill="#5a7cb4" opacity="0.8"/>
<circle cx="224.0" cy="124.7" r="0.5" fill="#0a2250" opacity="0.8"/>
<circle cx="226.5" cy="124.5" r="0.5" fill="#0a2250" opacity="0.8"/>
<circle cx="222.1" cy="120.7" r="0.5" fill="#1c3e80" opacity="0.8"/>
<circle cx="220.6" cy="120.1" r="0.5" fill="#061a44" opacity="0.8"/>
<circle cx="220.7" cy="127.0" r="0.5" fill="#3a5c98" opacity="0.8"/>
<circle cx="219.7" cy="126.9" r="0.5" fill="#2a4c8c" opacity="0.8"/>
<circle cx="226.4" cy="118.5" r="0.5" fill="#061a44" opacity="0.8"/>
<circle cx="221.8" cy="120.7" r="0.5" fill="#061a44" opacity="0.8"/>
<circle cx="221.9" cy="132.7" r="0.5" fill="#1c3e80" opacity="0.8"/>
<circle cx="229.8" cy="132.9" r="0.5" fill="#3a5c98" opacity="0.8"/>
<circle cx="224.1" cy="124.1" r="0.5" fill="#061a44" opacity="0.8"/>
<circle cx="221.6" cy="130.0" r="0.5" fill="#061a44" opacity="0.8"/>
<circle cx="225.0" cy="127.1" r="0.5" fill="#061a44" opacity="0.8"/>
<circle cx="227.3" cy="121.4" r="0.5" fill="#061a44" opacity="0.8"/>
<circle cx="222.2" cy="131.8" r="0.5" fill="#061a44" opacity="0.8"/>
<circle cx="223.3" cy="119.6" r="0.5" fill="#0a2250" opacity="0.8"/>
<circle cx="219.4" cy="131.9" r="0.5" fill="#2a4c8c" opacity="0.8"/>
<circle cx="221.9" cy="120.9" r="0.5" fill="#0a2250" opacity="0.8"/>
<circle cx="224.7" cy="134.6" r="0.5" fill="#061a44" opacity="0.8"/>
<circle cx="228.8" cy="125.7" r="0.5" fill="#1c3e80" opacity="0.8"/>
<circle cx="227.0" cy="127.0" r="0.5" fill="#5a7cb4" opacity="0.8"/>
<circle cx="228.0" cy="121.0" r="0.5" fill="#5a7cb4" opacity="0.8"/>
<circle cx="230.1" cy="123.2" r="0.5" fill="#061a44" opacity="0.8"/>
<circle cx="223.3" cy="120.0" r="0.5" fill="#5a7cb4" opacity="0.8"/>
<circle cx="229.4" cy="121.6" r="0.5" fill="#2a4c8c" opacity="0.8"/>
<circle cx="220.8" cy="130.0" r="0.5" fill="#2a4c8c" opacity="0.8"/>
<circle cx="222.2" cy="126.2" r="0.5" fill="#1c3e80" opacity="0.8"/>
<circle cx="231.7" cy="118.3" r="0.5" fill="#1c3e80" opacity="0.8"/>
<circle cx="228.2" cy="120.0" r="0.5" fill="#2a4c8c" opacity="0.8"/>
<circle cx="219.6" cy="130.3" r="0.5" fill="#0a2250" opacity="0.8"/>
<circle cx="223.3" cy="122.9" r="0.5" fill="#5a7cb4" opacity="0.8"/>
<circle cx="223.2" cy="118.9" r="0.5" fill="#2a4c8c" opacity="0.8"/>
<circle cx="228.6" cy="125.8" r="0.5" fill="#1c3e80" opacity="0.8"/>
<circle cx="219.6" cy="119.2" r="0.5" fill="#1c3e80" opacity="0.8"/>
<circle cx="233.1" cy="134.4" r="0.5" fill="#061a44" opacity="0.8"/>
<circle cx="224.0" cy="130.2" r="0.5" fill="#0a2250" opacity="0.8"/>
<circle cx="221.2" cy="130.0" r="0.5" fill="#2a4c8c" opacity="0.8"/>
<circle cx="226.7" cy="126.1" r="0.5" fill="#061a44" opacity="0.8"/>
<circle cx="232.2" cy="132.5" r="0.5" fill="#2a4c8c" opacity="0.8"/>
<circle cx="220.2" cy="119.4" r="0.5" fill="#2a4c8c" opacity="0.8"/>
<circle cx="220.2" cy="130.3" r="0.5" fill="#5a7cb4" opacity="0.8"/>
<circle cx="221.1" cy="135.5" r="0.5" fill="#5a7cb4" opacity="0.8"/>
<circle cx="219.0" cy="130.8" r="0.5" fill="#061a44" opacity="0.8"/>
<circle cx="220.1" cy="116.5" r="0.45" fill="#2a4a88" opacity="0.7"/>
<circle cx="219.2" cy="117.0" r="0.45" fill="#2a4a88" opacity="0.7"/>
<circle cx="229.8" cy="116.6" r="0.45" fill="#2a4a88" opacity="0.7"/>
<circle cx="229.4" cy="116.6" r="0.45" fill="#2a4a88" opacity="0.7"/>
<circle cx="229.6" cy="116.5" r="0.45" fill="#2a4a88" opacity="0.7"/>
<circle cx="233.9" cy="116.7" r="0.45" fill="#2a4a88" opacity="0.7"/>
<circle cx="218.4" cy="116.2" r="0.45" fill="#2a4a88" opacity="0.7"/>
<circle cx="229.8" cy="117.5" r="0.45" fill="#2a4a88" opacity="0.7"/>
<circle cx="228.4" cy="116.3" r="0.45" fill="#2a4a88" opacity="0.7"/>
<circle cx="232.2" cy="117.2" r="0.45" fill="#2a4a88" opacity="0.7"/>
<circle cx="220.1" cy="116.6" r="0.45" fill="#2a4a88" opacity="0.7"/>
<circle cx="229.0" cy="116.0" r="0.45" fill="#2a4a88" opacity="0.7"/>
<circle cx="219.0" cy="116.6" r="0.45" fill="#2a4a88" opacity="0.7"/>
<circle cx="232.2" cy="117.7" r="0.45" fill="#2a4a88" opacity="0.7"/>
<circle cx="223.4" cy="117.5" r="0.45" fill="#2a4a88" opacity="0.7"/>
<circle cx="230.8" cy="117.5" r="0.45" fill="#2a4a88" opacity="0.7"/>
<circle cx="227.7" cy="117.6" r="0.45" fill="#2a4a88" opacity="0.7"/>
<path d="M219.3,126.8 L230.7,122.8 L231.7,124.2 L219.3,128.2 Z" fill="#7fa4d4" opacity="0.55" filter="url(#b8)"/>
<circle cx="226.8" cy="125.6" r="0.45" fill="#d4e4f6" opacity="0.85"/>
<circle cx="226.0" cy="124.4" r="0.45" fill="#d4e4f6" opacity="0.85"/>
<circle cx="225.5" cy="125.2" r="0.45" fill="#d4e4f6" opacity="0.85"/>
<circle cx="223.5" cy="125.7" r="0.45" fill="#d4e4f6" opacity="0.85"/>
<circle cx="225.4" cy="125.4" r="0.45" fill="#d4e4f6" opacity="0.85"/>
<circle cx="222.2" cy="126.0" r="0.45" fill="#d4e4f6" opacity="0.85"/>
<circle cx="225.3" cy="125.3" r="0.45" fill="#d4e4f6" opacity="0.85"/>
<circle cx="224.4" cy="126.0" r="0.45" fill="#d4e4f6" opacity="0.85"/>
<circle cx="221.8" cy="126.7" r="0.45" fill="#d4e4f6" opacity="0.85"/>
<circle cx="222.8" cy="126.8" r="0.45" fill="#d4e4f6" opacity="0.85"/>
<circle cx="227.5" cy="125.0" r="0.45" fill="#d4e4f6" opacity="0.85"/>
<circle cx="225.4" cy="124.7" r="0.45" fill="#d4e4f6" opacity="0.85"/>
<path d="M226.2,124.7 L232.7,122.2 L232.7,131.8 L229.7,130.2 Z" fill="#9ec0e6" opacity="0.45" filter="url(#b8)"/>
<path d="M233.5,123.7 L230.3,123.7 L231.1,125.2 L231.3,126.7 L231.5,128.2 L231.3,129.7 L230.7,131.2 L230.5,132.7 L231.1,134.2 L231.7,135.5 L233.5,135.5 Z" fill="#a8c8ea" opacity="0.6" filter="url(#b5)"/>
<path d="M233.2,117.2 L236.5,117.7 L241.5,119.85 L236.5,122.8 L233.2,123.0 Z" fill="#f0a8bc" opacity="0.7" filter="url(#b8)"/>
<path d="M233.2,117.7 L237.0,117.9 L239.5,118.9 L238.5,121.2 L237.0,121.8 L233.2,122.0 Z" fill="url(#redgrad)" filter="url(#b5)"/>
<circle cx="239.6" cy="118.4" r="0.45" fill="#800018" opacity="0.73"/>
<circle cx="239.4" cy="119.7" r="0.45" fill="#d02040" opacity="0.68"/>
<circle cx="239.7" cy="118.4" r="0.45" fill="#d02040" opacity="0.79"/>
<circle cx="237.0" cy="121.3" r="0.45" fill="#800018" opacity="0.62"/>
<circle cx="239.3" cy="118.7" r="0.45" fill="#d02040" opacity="0.47"/>
<circle cx="236.8" cy="119.6" r="0.45" fill="#e06080" opacity="0.56"/>
<circle cx="239.1" cy="122.6" r="0.45" fill="#d02040" opacity="0.47"/>
<circle cx="237.4" cy="121.2" r="0.45" fill="#e06080" opacity="0.67"/>
<circle cx="237.5" cy="119.3" r="0.45" fill="#800018" opacity="0.75"/>
<circle cx="233.6" cy="117.9" r="0.45" fill="#800018" opacity="0.72"/>
<circle cx="240.8" cy="119.7" r="0.45" fill="#800018" opacity="0.38"/>
<circle cx="234.6" cy="120.8" r="0.45" fill="#e06080" opacity="0.38"/>
<rect x="233.7" y="126" width="2.3000000000000114" height="7" fill="#f2b0c4" opacity="0.6" filter="url(#b8)"/>
<circle cx="234.3" cy="132.5" r="0.45" fill="#c02040" opacity="0.57"/>
<circle cx="235.7" cy="132.2" r="0.45" fill="#d03050" opacity="0.61"/>
<circle cx="234.1" cy="131.5" r="0.45" fill="#e05070" opacity="0.46"/>
<circle cx="234.3" cy="129.6" r="0.45" fill="#f090a8" opacity="0.89"/>
<circle cx="234.6" cy="127.3" r="0.45" fill="#e05070" opacity="0.77"/>
<circle cx="234.0" cy="128.2" r="0.45" fill="#c02040" opacity="0.74"/>
<rect x="217.9" y="99.2" width="44.400000000000006" height="36.8" fill="none" stroke="#7a7a7a" stroke-width="0.8" />
<line x1="217.9" y1="136.0" x2="262.3" y2="136.0" stroke="#4a4a4a" stroke-width="0.8"/>
<text x="217.8" y="141.7" font-size="3.5" font-weight="bold" fill="#222" text-anchor="middle" stroke="#222" stroke-width="0.15">10</text>
<text x="219.60000000000002" y="139.7" font-size="2.5" font-weight="bold" fill="#222" text-anchor="start" >0</text>
<line x1="218.70000000000002" y1="135.0" x2="218.70000000000002" y2="136.8" stroke="#555" stroke-width="0.5"/>
<text x="228.1" y="141.7" font-size="3.5" font-weight="bold" fill="#222" text-anchor="middle" stroke="#222" stroke-width="0.15">10</text>
<text x="229.9" y="139.7" font-size="2.5" font-weight="bold" fill="#222" text-anchor="start" >1</text>
<line x1="229.0" y1="135.0" x2="229.0" y2="136.8" stroke="#555" stroke-width="0.5"/>
<text x="239.20000000000002" y="141.7" font-size="3.5" font-weight="bold" fill="#222" text-anchor="middle" stroke="#222" stroke-width="0.15">10</text>
<text x="241.00000000000003" y="139.7" font-size="2.5" font-weight="bold" fill="#222" text-anchor="start" >2</text>
<line x1="240.10000000000002" y1="135.0" x2="240.10000000000002" y2="136.8" stroke="#555" stroke-width="0.5"/>
<text x="250.3" y="141.7" font-size="3.5" font-weight="bold" fill="#222" text-anchor="middle" stroke="#222" stroke-width="0.15">10</text>
<text x="252.10000000000002" y="139.7" font-size="2.5" font-weight="bold" fill="#222" text-anchor="start" >3</text>
<line x1="251.20000000000002" y1="135.0" x2="251.20000000000002" y2="136.8" stroke="#555" stroke-width="0.5"/>
<text x="260.8" y="141.7" font-size="3.5" font-weight="bold" fill="#222" text-anchor="middle" stroke="#222" stroke-width="0.15">10</text>
<text x="262.59999999999997" y="139.7" font-size="2.5" font-weight="bold" fill="#222" text-anchor="start" >4</text>
<line x1="261.7" y1="135.0" x2="261.7" y2="136.8" stroke="#555" stroke-width="0.5"/>
<text transform="translate(215.4,134.9) rotate(-90)" x="0" y="0" font-size="3.4" font-weight="bold" fill="#222" text-anchor="middle" dominant-baseline="central">10</text>
<text transform="translate(213.3,132.8) rotate(-90)" x="0" y="0" font-size="2.4" font-weight="bold" fill="#333" text-anchor="middle" dominant-baseline="central">0</text>
<line x1="216.70000000000002" y1="134.5" x2="217.9" y2="134.5" stroke="#777" stroke-width="0.5"/>
<text transform="translate(215.4,127.2) rotate(-90)" x="0" y="0" font-size="3.4" font-weight="bold" fill="#222" text-anchor="middle" dominant-baseline="central">10</text>
<text transform="translate(213.3,125.1) rotate(-90)" x="0" y="0" font-size="2.4" font-weight="bold" fill="#333" text-anchor="middle" dominant-baseline="central">1</text>
<line x1="216.70000000000002" y1="126.8" x2="217.9" y2="126.8" stroke="#777" stroke-width="0.5"/>
<text transform="translate(215.4,118.0) rotate(-90)" x="0" y="0" font-size="3.4" font-weight="bold" fill="#222" text-anchor="middle" dominant-baseline="central">10</text>
<text transform="translate(213.3,115.89999999999999) rotate(-90)" x="0" y="0" font-size="2.4" font-weight="bold" fill="#333" text-anchor="middle" dominant-baseline="central">2</text>
<line x1="216.70000000000002" y1="117.6" x2="217.9" y2="117.6" stroke="#777" stroke-width="0.5"/>
<text transform="translate(215.4,108.80000000000001) rotate(-90)" x="0" y="0" font-size="3.4" font-weight="bold" fill="#222" text-anchor="middle" dominant-baseline="central">10</text>
<text transform="translate(213.3,106.7) rotate(-90)" x="0" y="0" font-size="2.4" font-weight="bold" fill="#333" text-anchor="middle" dominant-baseline="central">3</text>
<line x1="216.70000000000002" y1="108.4" x2="217.9" y2="108.4" stroke="#777" stroke-width="0.5"/>
<text transform="translate(215.4,101.10000000000001) rotate(-90)" x="0" y="0" font-size="3.4" font-weight="bold" fill="#222" text-anchor="middle" dominant-baseline="central">10</text>
<text transform="translate(213.3,99.0) rotate(-90)" x="0" y="0" font-size="2.4" font-weight="bold" fill="#333" text-anchor="middle" dominant-baseline="central">4</text>
<line x1="216.70000000000002" y1="100.7" x2="217.9" y2="100.7" stroke="#777" stroke-width="0.5"/>
<line x1="10.5" y1="51.5" x2="10.5" y2="87.5" stroke="#b4b4b4" stroke-width="1.3"/>
<circle cx="10.5" cy="51.3" r="1.0" fill="#111"/>
<text transform="translate(3.8,70.6) rotate(-90)" x="0" y="0" font-size="6.3" font-weight="bold" fill="#111" text-anchor="middle" dominant-baseline="central" stroke="#111" stroke-width="0.315" textLength="19.5" lengthAdjust="spacingAndGlyphs">SSC-H</text>
<line x1="10.5" y1="98.5" x2="10.5" y2="136.8" stroke="#b4b4b4" stroke-width="1.3"/>
<circle cx="10.5" cy="98.3" r="1.0" fill="#111"/>
<text transform="translate(3.8,122.3) rotate(-90)" x="0" y="0" font-size="7.2" font-weight="bold" fill="#111" text-anchor="middle" dominant-baseline="central" stroke="#111" stroke-width="0.360" textLength="13" lengthAdjust="spacingAndGlyphs">CD4</text>
<line x1="151.8" y1="51.5" x2="151.8" y2="87.5" stroke="#b4b4b4" stroke-width="1.3"/>
<circle cx="151.8" cy="51.3" r="1.0" fill="#111"/>
<text transform="translate(145.3,69.7) rotate(-90)" x="0" y="0" font-size="6.3" font-weight="bold" fill="#111" text-anchor="middle" dominant-baseline="central" stroke="#111" stroke-width="0.315" textLength="19.5" lengthAdjust="spacingAndGlyphs">SSC-H</text>
<line x1="151.8" y1="98.5" x2="151.8" y2="136.8" stroke="#b4b4b4" stroke-width="1.3"/>
<circle cx="151.8" cy="98.3" r="1.0" fill="#111"/>
<text transform="translate(145.3,122.3) rotate(-90)" x="0" y="0" font-size="7.2" font-weight="bold" fill="#111" text-anchor="middle" dominant-baseline="central" stroke="#111" stroke-width="0.360" textLength="13" lengthAdjust="spacingAndGlyphs">CD4</text>
<line x1="12.5" y1="146.3" x2="121.5" y2="146.3" stroke="#b8b8b8" stroke-width="1.3"/>
<circle cx="121.5" cy="146.2" r="1.2" fill="#111"/>
<text x="69.2" y="153.6" font-size="6.8" font-weight="bold" fill="#111" text-anchor="start" stroke="#111" stroke-width="0.360" textLength="16.0" lengthAdjust="spacingAndGlyphs" >CD25</text>
<line x1="154.5" y1="146.3" x2="263.4" y2="146.3" stroke="#b8b8b8" stroke-width="1.3"/>
<circle cx="263.4" cy="146.2" r="1.2" fill="#111"/>
<text x="206.2" y="153.6" font-size="6.8" font-weight="bold" fill="#111" text-anchor="start" stroke="#111" stroke-width="0.360" textLength="16.0" lengthAdjust="spacingAndGlyphs" >CD25</text>
<text x="270.2" y="10.1" font-size="11" font-weight="bold" fill="#000" text-anchor="start" stroke="#000" stroke-width="0.360" >B</text>
<line x1="292.9" y1="24.3" x2="292.9" y2="69.4" stroke="#cfcfcf" stroke-width="0.6"/>
<line x1="292.5" y1="69.4" x2="390.40000000000003" y2="69.4" stroke="#e8e8e8" stroke-width="0.6"/>
<text x="292.7" y="71.60000000000001" font-size="3.7" font-weight="normal" fill="#333" text-anchor="end" stroke="#333" stroke-width="0.1" letter-spacing="0.35">0</text>
<text x="292.7" y="67.14" font-size="3.7" font-weight="normal" fill="#333" text-anchor="end" stroke="#333" stroke-width="0.1" letter-spacing="0.35">0.1</text>
<text x="292.7" y="62.68000000000001" font-size="3.7" font-weight="normal" fill="#333" text-anchor="end" stroke="#333" stroke-width="0.1" letter-spacing="0.35">0.2</text>
<text x="292.7" y="58.220000000000006" font-size="3.7" font-weight="normal" fill="#333" text-anchor="end" stroke="#333" stroke-width="0.1" letter-spacing="0.35">0.3</text>
<text x="292.7" y="53.760000000000005" font-size="3.7" font-weight="normal" fill="#333" text-anchor="end" stroke="#333" stroke-width="0.1" letter-spacing="0.35">0.4</text>
<text x="292.7" y="49.300000000000004" font-size="3.7" font-weight="normal" fill="#333" text-anchor="end" stroke="#333" stroke-width="0.1" letter-spacing="0.35">0.5</text>
<text x="292.7" y="44.84" font-size="3.7" font-weight="normal" fill="#333" text-anchor="end" stroke="#333" stroke-width="0.1" letter-spacing="0.35">0.6</text>
<text x="292.7" y="40.38000000000001" font-size="3.7" font-weight="normal" fill="#333" text-anchor="end" stroke="#333" stroke-width="0.1" letter-spacing="0.35">0.7</text>
<text x="292.7" y="35.92" font-size="3.7" font-weight="normal" fill="#333" text-anchor="end" stroke="#333" stroke-width="0.1" letter-spacing="0.35">0.8</text>
<text x="292.7" y="31.459999999999997" font-size="3.7" font-weight="normal" fill="#333" text-anchor="end" stroke="#333" stroke-width="0.1" letter-spacing="0.35">0.9</text>
<text x="292.7" y="26.999999999999996" font-size="3.7" font-weight="normal" fill="#333" text-anchor="end" stroke="#333" stroke-width="0.1" letter-spacing="0.35">1</text>
<rect x="295.55" y="66.75" width="4.8999999999999995" height="2.3" fill="#fff" stroke="#2a2a2a" stroke-width="0.7" />
<rect x="300.8" y="53.7" width="5.6" height="15.700000000000003" fill="#000" stroke="none" stroke-width="1" />
<text x="300.8" y="75.0" font-size="4.4" font-weight="normal" fill="#2a2a2a" text-anchor="middle" stroke="#2a2a2a" stroke-width="0.1" textLength="10.81" lengthAdjust="spacingAndGlyphs" >205M*</text>
<rect x="311.35" y="68.75" width="4.8999999999999995" height="0.30000000000000004" fill="#fff" stroke="#2a2a2a" stroke-width="0.7" />
<rect x="316.6" y="56.1" width="5.6" height="13.300000000000004" fill="#000" stroke="none" stroke-width="1" />
<text x="316.6" y="75.0" font-size="4.4" font-weight="normal" fill="#2a2a2a" text-anchor="middle" stroke="#2a2a2a" stroke-width="0.1" textLength="9.35" lengthAdjust="spacingAndGlyphs" >262M</text>
<rect x="327.45" y="64.64999999999999" width="4.8999999999999995" height="4.400000000000008" fill="#fff" stroke="#2a2a2a" stroke-width="0.7" />
<rect x="332.7" y="36.0" width="5.6" height="33.400000000000006" fill="#000" stroke="none" stroke-width="1" />
<text x="332.7" y="75.0" font-size="4.4" font-weight="normal" fill="#2a2a2a" text-anchor="middle" stroke="#2a2a2a" stroke-width="0.1" textLength="9.35" lengthAdjust="spacingAndGlyphs" >284M</text>
<rect x="343.35" y="66.94999999999999" width="4.8999999999999995" height="2.100000000000011" fill="#fff" stroke="#2a2a2a" stroke-width="0.7" />
<rect x="348.6" y="49.7" width="5.6" height="19.700000000000003" fill="#000" stroke="none" stroke-width="1" />
<text x="348.6" y="75.0" font-size="4.4" font-weight="normal" fill="#2a2a2a" text-anchor="middle" stroke="#2a2a2a" stroke-width="0.1" textLength="9.77" lengthAdjust="spacingAndGlyphs" >885L*</text>
<rect x="359.35" y="60.65" width="4.8999999999999995" height="8.40000000000001" fill="#fff" stroke="#2a2a2a" stroke-width="0.7" />
<rect x="364.6" y="55.5" width="5.6" height="13.900000000000006" fill="#000" stroke="none" stroke-width="1" />
<text x="364.6" y="75.0" font-size="4.4" font-weight="normal" fill="#2a2a2a" text-anchor="middle" stroke="#2a2a2a" stroke-width="0.1" textLength="9.77" lengthAdjust="spacingAndGlyphs" >886L*</text>
<rect x="375.55" y="68.55" width="4.8999999999999995" height="0.5000000000000029" fill="#fff" stroke="#2a2a2a" stroke-width="0.7" />
<rect x="380.8" y="57.1" width="5.6" height="12.300000000000004" fill="#000" stroke="none" stroke-width="1" />
<text x="380.8" y="75.0" font-size="4.4" font-weight="normal" fill="#2a2a2a" text-anchor="middle" stroke="#2a2a2a" stroke-width="0.1" textLength="9.77" lengthAdjust="spacingAndGlyphs" >895L*</text>
<line x1="416.9" y1="24.7" x2="416.9" y2="69.2" stroke="#cfcfcf" stroke-width="0.6"/>
<line x1="416.5" y1="69.2" x2="515.8" y2="69.2" stroke="#e8e8e8" stroke-width="0.6"/>
<text x="416.7" y="71.4" font-size="3.7" font-weight="normal" fill="#333" text-anchor="end" stroke="#333" stroke-width="0.1" letter-spacing="0.35">0</text>
<text x="416.7" y="67.0" font-size="3.7" font-weight="normal" fill="#333" text-anchor="end" stroke="#333" stroke-width="0.1" letter-spacing="0.35">0.1</text>
<text x="416.7" y="62.60000000000001" font-size="3.7" font-weight="normal" fill="#333" text-anchor="end" stroke="#333" stroke-width="0.1" letter-spacing="0.35">0.2</text>
<text x="416.7" y="58.2" font-size="3.7" font-weight="normal" fill="#333" text-anchor="end" stroke="#333" stroke-width="0.1" letter-spacing="0.35">0.3</text>
<text x="416.7" y="53.800000000000004" font-size="3.7" font-weight="normal" fill="#333" text-anchor="end" stroke="#333" stroke-width="0.1" letter-spacing="0.35">0.4</text>
<text x="416.7" y="49.400000000000006" font-size="3.7" font-weight="normal" fill="#333" text-anchor="end" stroke="#333" stroke-width="0.1" letter-spacing="0.35">0.5</text>
<text x="416.7" y="45.00000000000001" font-size="3.7" font-weight="normal" fill="#333" text-anchor="end" stroke="#333" stroke-width="0.1" letter-spacing="0.35">0.6</text>
<text x="416.7" y="40.60000000000001" font-size="3.7" font-weight="normal" fill="#333" text-anchor="end" stroke="#333" stroke-width="0.1" letter-spacing="0.35">0.7</text>
<text x="416.7" y="36.2" font-size="3.7" font-weight="normal" fill="#333" text-anchor="end" stroke="#333" stroke-width="0.1" letter-spacing="0.35">0.8</text>
<text x="416.7" y="31.8" font-size="3.7" font-weight="normal" fill="#333" text-anchor="end" stroke="#333" stroke-width="0.1" letter-spacing="0.35">0.9</text>
<text x="416.7" y="27.400000000000002" font-size="3.7" font-weight="normal" fill="#333" text-anchor="end" stroke="#333" stroke-width="0.1" letter-spacing="0.35">1</text>
<rect x="421.35" y="60.25" width="5.1" height="8.600000000000005" fill="#fff" stroke="#2a2a2a" stroke-width="0.7" />
<rect x="426.8" y="56.8" width="5.8" height="12.400000000000006" fill="#000" stroke="none" stroke-width="1" />
<text x="426.8" y="75.3" font-size="4.4" font-weight="normal" fill="#2a2a2a" text-anchor="middle" stroke="#2a2a2a" stroke-width="0.1" textLength="10.81" lengthAdjust="spacingAndGlyphs" >205M*</text>
<rect x="436.95" y="60.550000000000004" width="5.1" height="8.3" fill="#fff" stroke="#2a2a2a" stroke-width="0.7" />
<rect x="442.4" y="47.2" width="5.8" height="22.0" fill="#000" stroke="none" stroke-width="1" />
<text x="442.4" y="75.3" font-size="4.4" font-weight="normal" fill="#2a2a2a" text-anchor="middle" stroke="#2a2a2a" stroke-width="0.1" textLength="9.35" lengthAdjust="spacingAndGlyphs" >262M</text>
<rect x="452.75" y="53.85" width="5.1" height="15.000000000000004" fill="#fff" stroke="#2a2a2a" stroke-width="0.7" />
<rect x="458.2" y="67.7" width="5.8" height="1.5" fill="#000" stroke="none" stroke-width="1" />
<text x="458.2" y="75.3" font-size="4.4" font-weight="normal" fill="#2a2a2a" text-anchor="middle" stroke="#2a2a2a" stroke-width="0.1" textLength="9.35" lengthAdjust="spacingAndGlyphs" >284M</text>
<rect x="468.65000000000003" y="68.05" width="5.1" height="0.8" fill="#fff" stroke="#2a2a2a" stroke-width="0.7" />
<rect x="474.1" y="55.1" width="5.8" height="14.100000000000001" fill="#000" stroke="none" stroke-width="1" />
<text x="474.1" y="75.3" font-size="4.4" font-weight="normal" fill="#2a2a2a" text-anchor="middle" stroke="#2a2a2a" stroke-width="0.1" textLength="9.77" lengthAdjust="spacingAndGlyphs" >885L*</text>
<rect x="484.25" y="66.44999999999999" width="5.1" height="2.4000000000000083" fill="#fff" stroke="#2a2a2a" stroke-width="0.7" />
<rect x="489.7" y="57.9" width="5.8" height="11.300000000000004" fill="#000" stroke="none" stroke-width="1" />
<text x="489.7" y="75.3" font-size="4.4" font-weight="normal" fill="#2a2a2a" text-anchor="middle" stroke="#2a2a2a" stroke-width="0.1" textLength="9.77" lengthAdjust="spacingAndGlyphs" >886L*</text>
<rect x="500.55" y="68.14999999999999" width="5.1" height="0.7000000000000057" fill="#fff" stroke="#2a2a2a" stroke-width="0.7" />
<rect x="506.0" y="52.1" width="5.8" height="17.1" fill="#000" stroke="none" stroke-width="1" />
<text x="506.0" y="75.3" font-size="4.4" font-weight="normal" fill="#2a2a2a" text-anchor="middle" stroke="#2a2a2a" stroke-width="0.1" textLength="9.77" lengthAdjust="spacingAndGlyphs" >895L*</text>
<line x1="290.59999999999997" y1="96.3" x2="290.59999999999997" y2="141.8" stroke="#cfcfcf" stroke-width="0.6"/>
<line x1="290.2" y1="141.8" x2="390.3" y2="141.8" stroke="#e8e8e8" stroke-width="0.6"/>
<text x="290.4" y="144.0" font-size="3.7" font-weight="normal" fill="#333" text-anchor="end" stroke="#333" stroke-width="0.1" letter-spacing="0.35">0</text>
<text x="290.4" y="139.5" font-size="3.7" font-weight="normal" fill="#333" text-anchor="end" stroke="#333" stroke-width="0.1" letter-spacing="0.35">0.1</text>
<text x="290.4" y="135.0" font-size="3.7" font-weight="normal" fill="#333" text-anchor="end" stroke="#333" stroke-width="0.1" letter-spacing="0.35">0.2</text>
<text x="290.4" y="130.5" font-size="3.7" font-weight="normal" fill="#333" text-anchor="end" stroke="#333" stroke-width="0.1" letter-spacing="0.35">0.3</text>
<text x="290.4" y="126.00000000000001" font-size="3.7" font-weight="normal" fill="#333" text-anchor="end" stroke="#333" stroke-width="0.1" letter-spacing="0.35">0.4</text>
<text x="290.4" y="121.50000000000001" font-size="3.7" font-weight="normal" fill="#333" text-anchor="end" stroke="#333" stroke-width="0.1" letter-spacing="0.35">0.5</text>
<text x="290.4" y="117.00000000000001" font-size="3.7" font-weight="normal" fill="#333" text-anchor="end" stroke="#333" stroke-width="0.1" letter-spacing="0.35">0.6</text>
<text x="290.4" y="112.50000000000001" font-size="3.7" font-weight="normal" fill="#333" text-anchor="end" stroke="#333" stroke-width="0.1" letter-spacing="0.35">0.7</text>
<text x="290.4" y="108.0" font-size="3.7" font-weight="normal" fill="#333" text-anchor="end" stroke="#333" stroke-width="0.1" letter-spacing="0.35">0.8</text>
<text x="290.4" y="103.5" font-size="3.7" font-weight="normal" fill="#333" text-anchor="end" stroke="#333" stroke-width="0.1" letter-spacing="0.35">0.9</text>
<text x="290.4" y="99.0" font-size="3.7" font-weight="normal" fill="#333" text-anchor="end" stroke="#333" stroke-width="0.1" letter-spacing="0.35">1</text>
<rect x="295.75000000000006" y="130.54999999999998" width="5.0" height="10.900000000000023" fill="#fff" stroke="#2a2a2a" stroke-width="0.7" />
<rect x="301.1" y="140.5" width="5.7" height="1.3000000000000114" fill="#000" stroke="none" stroke-width="1" />
<text x="301.1" y="147.9" font-size="4.4" font-weight="normal" fill="#2a2a2a" text-anchor="middle" stroke="#2a2a2a" stroke-width="0.1" textLength="10.81" lengthAdjust="spacingAndGlyphs" >205M*</text>
<rect x="311.75000000000006" y="141.15" width="5.0" height="0.30000000000000004" fill="#fff" stroke="#2a2a2a" stroke-width="0.7" />
<rect x="317.1" y="110.5" width="5.7" height="31.30000000000001" fill="#000" stroke="none" stroke-width="1" />
<text x="317.1" y="147.9" font-size="4.4" font-weight="normal" fill="#2a2a2a" text-anchor="middle" stroke="#2a2a2a" stroke-width="0.1" textLength="9.35" lengthAdjust="spacingAndGlyphs" >262M</text>
<rect x="327.65000000000003" y="132.95" width="5.0" height="8.500000000000018" fill="#fff" stroke="#2a2a2a" stroke-width="0.7" />
<rect x="333.0" y="125.5" width="5.7" height="16.30000000000001" fill="#000" stroke="none" stroke-width="1" />
<text x="333.0" y="147.9" font-size="4.4" font-weight="normal" fill="#2a2a2a" text-anchor="middle" stroke="#2a2a2a" stroke-width="0.1" textLength="9.35" lengthAdjust="spacingAndGlyphs" >284M</text>
<rect x="343.65000000000003" y="141.15" width="5.0" height="0.30000000000000004" fill="#fff" stroke="#2a2a2a" stroke-width="0.7" />
<rect x="349.0" y="122.6" width="5.7" height="19.200000000000017" fill="#000" stroke="none" stroke-width="1" />
<text x="349.0" y="147.9" font-size="4.4" font-weight="normal" fill="#2a2a2a" text-anchor="middle" stroke="#2a2a2a" stroke-width="0.1" textLength="9.77" lengthAdjust="spacingAndGlyphs" >885L*</text>
<rect x="359.55" y="118.44999999999999" width="5.0" height="23.000000000000018" fill="#fff" stroke="#2a2a2a" stroke-width="0.7" />
<rect x="364.9" y="140.8" width="5.7" height="1.0" fill="#000" stroke="none" stroke-width="1" />
<text x="364.9" y="147.9" font-size="4.4" font-weight="normal" fill="#2a2a2a" text-anchor="middle" stroke="#2a2a2a" stroke-width="0.1" textLength="9.77" lengthAdjust="spacingAndGlyphs" >886L*</text>
<rect x="375.25000000000006" y="141.15" width="5.0" height="0.30000000000000004" fill="#fff" stroke="#2a2a2a" stroke-width="0.7" />
<rect x="380.6" y="140.8" width="5.7" height="1.0" fill="#000" stroke="none" stroke-width="1" />
<text x="380.6" y="148.70000000000002" font-size="4.4" font-weight="normal" fill="#2a2a2a" text-anchor="middle" stroke="#2a2a2a" stroke-width="0.1" textLength="9.77" lengthAdjust="spacingAndGlyphs" >895L*</text>
<line x1="416.59999999999997" y1="96.0" x2="416.59999999999997" y2="143.3" stroke="#cfcfcf" stroke-width="0.6"/>
<line x1="416.2" y1="143.3" x2="517.8" y2="143.3" stroke="#e8e8e8" stroke-width="0.6"/>
<text x="416.4" y="145.5" font-size="3.7" font-weight="normal" fill="#333" text-anchor="end" stroke="#333" stroke-width="0.1" letter-spacing="0.35">0</text>
<text x="416.4" y="140.82" font-size="3.7" font-weight="normal" fill="#333" text-anchor="end" stroke="#333" stroke-width="0.1" letter-spacing="0.35">0.1</text>
<text x="416.4" y="136.14" font-size="3.7" font-weight="normal" fill="#333" text-anchor="end" stroke="#333" stroke-width="0.1" letter-spacing="0.35">0.2</text>
<text x="416.4" y="131.46" font-size="3.7" font-weight="normal" fill="#333" text-anchor="end" stroke="#333" stroke-width="0.1" letter-spacing="0.35">0.3</text>
<text x="416.4" y="126.78000000000002" font-size="3.7" font-weight="normal" fill="#333" text-anchor="end" stroke="#333" stroke-width="0.1" letter-spacing="0.35">0.4</text>
<text x="416.4" y="122.10000000000001" font-size="3.7" font-weight="normal" fill="#333" text-anchor="end" stroke="#333" stroke-width="0.1" letter-spacing="0.35">0.5</text>
<text x="416.4" y="117.42" font-size="3.7" font-weight="normal" fill="#333" text-anchor="end" stroke="#333" stroke-width="0.1" letter-spacing="0.35">0.6</text>
<text x="416.4" y="112.74000000000001" font-size="3.7" font-weight="normal" fill="#333" text-anchor="end" stroke="#333" stroke-width="0.1" letter-spacing="0.35">0.7</text>
<text x="416.4" y="108.06" font-size="3.7" font-weight="normal" fill="#333" text-anchor="end" stroke="#333" stroke-width="0.1" letter-spacing="0.35">0.8</text>
<text x="416.4" y="103.38000000000001" font-size="3.7" font-weight="normal" fill="#333" text-anchor="end" stroke="#333" stroke-width="0.1" letter-spacing="0.35">0.9</text>
<text x="416.4" y="98.7" font-size="3.7" font-weight="normal" fill="#333" text-anchor="end" stroke="#333" stroke-width="0.1" letter-spacing="0.35">1</text>
<rect x="419.35" y="106.35" width="5.1" height="36.60000000000001" fill="#fff" stroke="#2a2a2a" stroke-width="0.7" />
<rect x="424.8" y="141.8" width="5.8" height="1.5" fill="#000" stroke="none" stroke-width="1" />
<text x="424.8" y="149.7" font-size="4.4" font-weight="normal" fill="#2a2a2a" text-anchor="middle" stroke="#2a2a2a" stroke-width="0.1" textLength="10.81" lengthAdjust="spacingAndGlyphs" >205M*</text>
<rect x="436.95" y="119.35" width="5.1" height="23.600000000000012" fill="#fff" stroke="#2a2a2a" stroke-width="0.7" />
<rect x="442.4" y="111.4" width="5.8" height="31.900000000000006" fill="#000" stroke="none" stroke-width="1" />
<text x="442.4" y="149.7" font-size="4.4" font-weight="normal" fill="#2a2a2a" text-anchor="middle" stroke="#2a2a2a" stroke-width="0.1" textLength="9.35" lengthAdjust="spacingAndGlyphs" >262M</text>
<rect x="453.45" y="127.55" width="5.1" height="15.40000000000001" fill="#fff" stroke="#2a2a2a" stroke-width="0.7" />
<rect x="458.9" y="131.4" width="5.8" height="11.900000000000006" fill="#000" stroke="none" stroke-width="1" />
<text x="458.9" y="149.7" font-size="4.4" font-weight="normal" fill="#2a2a2a" text-anchor="middle" stroke="#2a2a2a" stroke-width="0.1" textLength="9.35" lengthAdjust="spacingAndGlyphs" >284M</text>
<rect x="469.75" y="142.25" width="5.1" height="0.7000000000000057" fill="#fff" stroke="#2a2a2a" stroke-width="0.7" />
<rect x="475.2" y="136.8" width="5.8" height="6.5" fill="#000" stroke="none" stroke-width="1" />
<text x="475.2" y="149.7" font-size="4.4" font-weight="normal" fill="#2a2a2a" text-anchor="middle" stroke="#2a2a2a" stroke-width="0.1" textLength="9.77" lengthAdjust="spacingAndGlyphs" >885L*</text>
<rect x="485.85" y="139.65" width="5.1" height="3.3" fill="#fff" stroke="#2a2a2a" stroke-width="0.7" />
<rect x="491.3" y="140.9" width="5.8" height="2.4000000000000057" fill="#000" stroke="none" stroke-width="1" />
<text x="491.3" y="149.7" font-size="4.4" font-weight="normal" fill="#2a2a2a" text-anchor="middle" stroke="#2a2a2a" stroke-width="0.1" textLength="9.77" lengthAdjust="spacingAndGlyphs" >886L*</text>
<rect x="502.55" y="142.25" width="5.1" height="0.7000000000000057" fill="#fff" stroke="#2a2a2a" stroke-width="0.7" />
<rect x="508.0" y="141.9" width="5.8" height="1.4000000000000057" fill="#000" stroke="none" stroke-width="1" />
<text x="508.0" y="150.89999999999998" font-size="4.4" font-weight="normal" fill="#2a2a2a" text-anchor="middle" stroke="#2a2a2a" stroke-width="0.1" textLength="9.77" lengthAdjust="spacingAndGlyphs" >895L*</text>
<text x="304.8" y="17.3" font-size="7.15" font-weight="normal" fill="#1a1a1a" text-anchor="start" stroke="#1a1a1a" stroke-width="0.243" textLength="42.9" lengthAdjust="spacingAndGlyphs" >Lymph nodes</text>
<text x="430.1" y="16.2" font-size="7.15" font-weight="normal" fill="#1a1a1a" text-anchor="start" stroke="#1a1a1a" stroke-width="0.243" textLength="42.9" lengthAdjust="spacingAndGlyphs" >Lymph nodes</text>
<text x="316.7" y="101.4" font-size="7.15" font-weight="normal" fill="#1a1a1a" text-anchor="start" stroke="#1a1a1a" stroke-width="0.243" textLength="18.1" lengthAdjust="spacingAndGlyphs" >Blood</text>
<text x="444.5" y="101.4" font-size="7.15" font-weight="normal" fill="#1a1a1a" text-anchor="start" stroke="#1a1a1a" stroke-width="0.243" textLength="18.2" lengthAdjust="spacingAndGlyphs" >Blood</text>
<rect x="349.4" y="23.2" width="4.3" height="4.1" fill="#fff" stroke="#555" stroke-width="0.8" />
<rect x="349.0" y="29.6" width="5.1" height="4.5" fill="#000" stroke="none" stroke-width="1" />
<text x="355.6" y="27.200000000000003" font-size="5.6" font-weight="normal" fill="#1a1a1a" text-anchor="start" stroke="#1a1a1a" stroke-width="0.190" textLength="26.9" lengthAdjust="spacingAndGlyphs" >Total CD8+</text>
<text x="355.6" y="33.800000000000004" font-size="5.6" font-weight="normal" fill="#1a1a1a" text-anchor="start" stroke="#1a1a1a" stroke-width="0.190" textLength="37.2" lengthAdjust="spacingAndGlyphs" >CD25 depleted</text>
<rect x="474.09999999999997" y="22.099999999999998" width="4.3" height="4.1" fill="#fff" stroke="#555" stroke-width="0.8" />
<rect x="473.7" y="29.0" width="5.1" height="4.5" fill="#000" stroke="none" stroke-width="1" />
<text x="480.1" y="26.1" font-size="5.6" font-weight="normal" fill="#1a1a1a" text-anchor="start" stroke="#1a1a1a" stroke-width="0.190" textLength="27.9" lengthAdjust="spacingAndGlyphs" >Total CD4+</text>
<text x="480.1" y="33.2" font-size="5.6" font-weight="normal" fill="#1a1a1a" text-anchor="start" stroke="#1a1a1a" stroke-width="0.190" textLength="37.5" lengthAdjust="spacingAndGlyphs" >CD25 depleted</text>
<rect x="346.79999999999995" y="102.4" width="4.3" height="4.1" fill="#fff" stroke="#555" stroke-width="0.8" />
<rect x="346.4" y="109.4" width="5.1" height="4.5" fill="#000" stroke="none" stroke-width="1" />
<text x="354.0" y="106.4" font-size="5.6" font-weight="normal" fill="#1a1a1a" text-anchor="start" stroke="#1a1a1a" stroke-width="0.190" textLength="26.5" lengthAdjust="spacingAndGlyphs" >Total CD8+</text>
<text x="354.0" y="113.60000000000001" font-size="5.6" font-weight="normal" fill="#1a1a1a" text-anchor="start" stroke="#1a1a1a" stroke-width="0.190" textLength="36.1" lengthAdjust="spacingAndGlyphs" >CD25 depleted</text>
<rect x="473.79999999999995" y="102.7" width="4.3" height="4.1" fill="#fff" stroke="#555" stroke-width="0.8" />
<rect x="473.4" y="109.4" width="5.1" height="4.5" fill="#000" stroke="none" stroke-width="1" />
<text x="481.1" y="106.7" font-size="5.6" font-weight="normal" fill="#1a1a1a" text-anchor="start" stroke="#1a1a1a" stroke-width="0.190" textLength="25.9" lengthAdjust="spacingAndGlyphs" >Total CD4+</text>
<text x="481.1" y="113.60000000000001" font-size="5.6" font-weight="normal" fill="#1a1a1a" text-anchor="start" stroke="#1a1a1a" stroke-width="0.190" textLength="36.0" lengthAdjust="spacingAndGlyphs" >CD25 depleted</text>
<text transform="translate(274.0,78.4) rotate(-90)" x="0" y="0" font-size="6.5" font-weight="bold" fill="#1a1a1a" text-anchor="middle" dominant-baseline="central" stroke="#1a1a1a" stroke-width="0.325" textLength="89" lengthAdjust="spacingAndGlyphs">%Gag+CD8+cytokine+T-cells</text>
<text transform="translate(403.0,78.6) rotate(-90)" x="0" y="0" font-size="6.5" font-weight="bold" fill="#1a1a1a" text-anchor="middle" dominant-baseline="central" stroke="#1a1a1a" stroke-width="0.325" textLength="89" lengthAdjust="spacingAndGlyphs">%Gag+CD4+cytokine+T-cells</text>
<text x="117.6" y="168.8" font-size="10.5" font-weight="bold" fill="#000" text-anchor="start" stroke="#000" stroke-width="0.360" >C</text>
<text x="118.3" y="182.3" font-size="8.8" font-weight="bold" fill="#111" text-anchor="start" stroke="#111" stroke-width="0.360" textLength="34" lengthAdjust="spacingAndGlyphs" >Group 1</text>
<text x="118.3" y="264.2" font-size="8.8" font-weight="bold" fill="#111" text-anchor="start" stroke="#111" stroke-width="0.360" textLength="34.6" lengthAdjust="spacingAndGlyphs" >Group 2</text>
<text x="161.9" y="179.4" font-size="6.0" font-weight="bold" fill="#111" text-anchor="start" stroke="#111" stroke-width="0.330" >205 M*</text>
<text x="161.9" y="186.85" font-size="6.0" font-weight="bold" fill="#111" text-anchor="start" stroke="#111" stroke-width="0.330" >208 L</text>
<text x="161.9" y="194.3" font-size="6.0" font-weight="bold" fill="#111" text-anchor="start" stroke="#111" stroke-width="0.330" >262 M</text>
<text x="161.9" y="201.75" font-size="6.0" font-weight="bold" fill="#111" text-anchor="start" stroke="#111" stroke-width="0.330" >887 L*</text>
<text x="161.9" y="209.20000000000002" font-size="6.0" font-weight="bold" fill="#111" text-anchor="start" stroke="#111" stroke-width="0.330" >894 L*</text>
<text x="161.9" y="216.65" font-size="6.0" font-weight="bold" fill="#111" text-anchor="start" stroke="#111" stroke-width="0.330" >895 L*</text>
<text x="161.9" y="224.10000000000002" font-size="6.0" font-weight="bold" fill="#111" text-anchor="start" stroke="#111" stroke-width="0.330" >897 L*</text>
<text x="161.9" y="231.55" font-size="6.0" font-weight="bold" fill="#111" text-anchor="start" stroke="#111" stroke-width="0.330" >912 L</text>
<text x="161.9" y="239.0" font-size="6.0" font-weight="bold" fill="#111" text-anchor="start" stroke="#111" stroke-width="0.330" >930 L</text>
<text x="161.9" y="261.3" font-size="6.0" font-weight="bold" fill="#111" text-anchor="start" stroke="#111" stroke-width="0.330" >234 M</text>
<text x="161.9" y="268.7" font-size="6.0" font-weight="bold" fill="#111" text-anchor="start" stroke="#111" stroke-width="0.330" >284 M</text>
<text x="161.9" y="276.1" font-size="6.0" font-weight="bold" fill="#111" text-anchor="start" stroke="#111" stroke-width="0.330" >886 L*</text>
<text x="161.9" y="283.5" font-size="6.0" font-weight="bold" fill="#111" text-anchor="start" stroke="#111" stroke-width="0.330" >891 L*</text>
<text x="161.9" y="290.90000000000003" font-size="6.0" font-weight="bold" fill="#111" text-anchor="start" stroke="#111" stroke-width="0.330" >892 L*</text>
<text x="161.9" y="298.3" font-size="6.0" font-weight="bold" fill="#111" text-anchor="start" stroke="#111" stroke-width="0.330" >910 L</text>
<text x="161.9" y="305.70000000000005" font-size="6.0" font-weight="bold" fill="#111" text-anchor="start" stroke="#111" stroke-width="0.330" >917 L</text>
<text x="161.9" y="313.1" font-size="6.0" font-weight="bold" fill="#111" text-anchor="start" stroke="#111" stroke-width="0.330" >931 L</text>
<text x="213.2" y="185.8" font-size="7.0" font-weight="bold" fill="#111" text-anchor="start" stroke="#111" stroke-width="0.360" textLength="37.3" lengthAdjust="spacingAndGlyphs" >SIVmac251</text>
<line x1="218.3" y1="188.8" x2="218.3" y2="197.4" stroke="#222" stroke-width="0.7"/>
<path d="M216.8,196.70000000000002 L219.8,196.70000000000002 L218.3,199.6 Z" fill="#222"/>
<rect x="218.4" y="202.9" width="187.9" height="5.6" fill="#fff" stroke="#666" stroke-width="0.9" />
<rect x="267.6" y="189.3" width="64.5" height="10.6" fill="#fff" stroke="#555" stroke-width="0.8" />
<text x="307.7" y="195.9" font-size="5.0" font-weight="bold" fill="#111" text-anchor="middle" stroke="#111" stroke-width="0.275" textLength="10" lengthAdjust="spacingAndGlyphs" >ART</text>
<text x="198.8" y="213.9" font-size="5.6" font-weight="bold" fill="#111" text-anchor="start" stroke="#111" stroke-width="0.308" textLength="14.7" lengthAdjust="spacingAndGlyphs" >Week</text>
<text x="216.5" y="213.9" font-size="5.6" font-weight="bold" fill="#111" text-anchor="start" stroke="#111" stroke-width="0.308" textLength="10" lengthAdjust="spacingAndGlyphs" >- 92</text>
<text x="267.6" y="213.9" font-size="5.4" font-weight="bold" fill="#111" text-anchor="middle" stroke="#111" stroke-width="0.297" >0</text>
<text x="281.7" y="213.9" font-size="5.4" font-weight="bold" fill="#111" text-anchor="middle" stroke="#111" stroke-width="0.297" >3</text>
<text x="290.9" y="213.9" font-size="5.4" font-weight="bold" fill="#111" text-anchor="middle" stroke="#111" stroke-width="0.297" >5</text>
<text x="304.6" y="213.9" font-size="5.4" font-weight="bold" fill="#111" text-anchor="middle" stroke="#111" stroke-width="0.297" >6</text>
<text x="318.4" y="213.9" font-size="5.4" font-weight="bold" fill="#111" text-anchor="middle" stroke="#111" stroke-width="0.297" >7</text>
<text x="332.2" y="213.9" font-size="5.4" font-weight="bold" fill="#111" text-anchor="middle" stroke="#111" stroke-width="0.297" >8</text>
<text x="346.2" y="213.9" font-size="5.4" font-weight="bold" fill="#111" text-anchor="middle" stroke="#111" stroke-width="0.297" >9</text>
<text x="364.9" y="213.9" font-size="5.4" font-weight="bold" fill="#111" text-anchor="middle" stroke="#111" stroke-width="0.297" >13</text>
<text x="389.2" y="213.9" font-size="5.4" font-weight="bold" fill="#111" text-anchor="middle" stroke="#111" stroke-width="0.297" >17</text>
<text x="213.2" y="256.6" font-size="7.0" font-weight="bold" fill="#111" text-anchor="start" stroke="#111" stroke-width="0.360" textLength="37.3" lengthAdjust="spacingAndGlyphs" >SIVmac251</text>
<line x1="218.3" y1="259.6" x2="218.3" y2="267.5" stroke="#222" stroke-width="0.7"/>
<path d="M216.8,266.8 L219.8,266.8 L218.3,269.7 Z" fill="#222"/>
<rect x="218.4" y="273.0" width="194.6" height="5.6" fill="#fff" stroke="#666" stroke-width="0.9" />
<rect x="267.6" y="257.8" width="64.5" height="11.3" fill="#fff" stroke="#555" stroke-width="0.8" />
<text x="307.7" y="266.8" font-size="5.0" font-weight="bold" fill="#111" text-anchor="middle" stroke="#111" stroke-width="0.275" textLength="10" lengthAdjust="spacingAndGlyphs" >ART</text>
<text x="198.8" y="284.9" font-size="5.6" font-weight="bold" fill="#111" text-anchor="start" stroke="#111" stroke-width="0.308" textLength="14.7" lengthAdjust="spacingAndGlyphs" >Week</text>
<text x="216.5" y="284.9" font-size="5.6" font-weight="bold" fill="#111" text-anchor="start" stroke="#111" stroke-width="0.308" textLength="10" lengthAdjust="spacingAndGlyphs" >- 92</text>
<text x="267.6" y="284.9" font-size="5.4" font-weight="bold" fill="#111" text-anchor="middle" stroke="#111" stroke-width="0.297" >0</text>
<text x="281.7" y="284.9" font-size="5.4" font-weight="bold" fill="#111" text-anchor="middle" stroke="#111" stroke-width="0.297" >3</text>
<text x="290.9" y="284.9" font-size="5.4" font-weight="bold" fill="#111" text-anchor="middle" stroke="#111" stroke-width="0.297" >5</text>
<text x="304.6" y="284.9" font-size="5.4" font-weight="bold" fill="#111" text-anchor="middle" stroke="#111" stroke-width="0.297" >6</text>
<text x="318.4" y="284.9" font-size="5.4" font-weight="bold" fill="#111" text-anchor="middle" stroke="#111" stroke-width="0.297" >7</text>
<text x="332.2" y="284.9" font-size="5.4" font-weight="bold" fill="#111" text-anchor="middle" stroke="#111" stroke-width="0.297" >8</text>
<text x="346.2" y="284.9" font-size="5.4" font-weight="bold" fill="#111" text-anchor="middle" stroke="#111" stroke-width="0.297" >9</text>
<text x="364.9" y="284.9" font-size="5.4" font-weight="bold" fill="#111" text-anchor="middle" stroke="#111" stroke-width="0.297" >13</text>
<text x="389.2" y="284.9" font-size="5.4" font-weight="bold" fill="#111" text-anchor="middle" stroke="#111" stroke-width="0.297" >17</text>
<path d="M288.0,296.8 L294.0,296.8 L291.0,290.7 Z" fill="#000"/>
<path d="M327.2,296.8 L333.2,296.8 L330.2,290.7 Z" fill="#000"/>
<text x="276.1" y="310.1" font-size="6.2" font-weight="bold" fill="#111" text-anchor="start" stroke="#111" stroke-width="0.341" textLength="27.6" lengthAdjust="spacingAndGlyphs" >α-CTLA-4</text>
<text x="312.9" y="310.1" font-size="6.2" font-weight="bold" fill="#111" text-anchor="start" stroke="#111" stroke-width="0.341" textLength="28.1" lengthAdjust="spacingAndGlyphs" >α-CTLA-4</text>
<text x="154.4" y="327.6" font-size="4.6" font-weight="bold" fill="#111" text-anchor="start" stroke="#111" stroke-width="0.253" >*</text>
<text x="158.3" y="329.4" font-size="4.4" font-weight="bold" fill="#222" text-anchor="start" >=</text>
<text x="163.1" y="329.5" font-size="4.3" font-weight="bold" fill="#222" text-anchor="start" textLength="43.1" lengthAdjust="spacingAndGlyphs" >Mamu A*01 positive</text>
</svg>
</body></html>
